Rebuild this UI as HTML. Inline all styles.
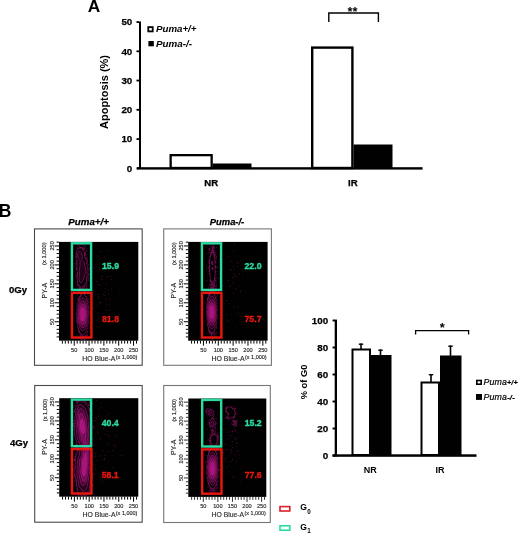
<!DOCTYPE html>
<html lang="en"><head><meta charset="utf-8"><title>Figure</title>
<style>html,body{margin:0;padding:0;background:#fff}svg{display:block;will-change:transform;opacity:0.999}</style></head>
<body>
<svg width="520" height="534" viewBox="0 0 520 534" font-family='"Liberation Sans", sans-serif'>
<rect x="0" y="0" width="520" height="534" fill="#fff" stroke="none" stroke-width="0" />
<text x="87.7" y="12.3" font-size="17.3" font-weight="bold" font-style="normal" text-anchor="start" fill="#000" >A</text>
<text x="-1.2" y="217.1" font-size="17.5" font-weight="bold" font-style="normal" text-anchor="start" fill="#000" >B</text>
<rect x="139" y="21.5" width="2" height="147.5" fill="#000" stroke="none" stroke-width="0" />
<rect x="137" y="167.2" width="285.6" height="2.4" fill="#000" stroke="none" stroke-width="0" />
<rect x="136.5" y="167.4" width="2.5" height="1.8" fill="#000" stroke="none" stroke-width="0" />
<text x="132.3" y="171.7" font-size="9.8" font-weight="bold" font-style="normal" text-anchor="end" fill="#000" stroke="#000" stroke-width="0.25">0</text>
<rect x="136.5" y="138.15" width="2.5" height="1.8" fill="#000" stroke="none" stroke-width="0" />
<text x="132.3" y="142.45" font-size="9.8" font-weight="bold" font-style="normal" text-anchor="end" fill="#000" stroke="#000" stroke-width="0.25">10</text>
<rect x="136.5" y="108.9" width="2.5" height="1.8" fill="#000" stroke="none" stroke-width="0" />
<text x="132.3" y="113.2" font-size="9.8" font-weight="bold" font-style="normal" text-anchor="end" fill="#000" stroke="#000" stroke-width="0.25">20</text>
<rect x="136.5" y="79.65" width="2.5" height="1.8" fill="#000" stroke="none" stroke-width="0" />
<text x="132.3" y="83.95" font-size="9.8" font-weight="bold" font-style="normal" text-anchor="end" fill="#000" stroke="#000" stroke-width="0.25">30</text>
<rect x="136.5" y="50.40000000000001" width="2.5" height="1.8" fill="#000" stroke="none" stroke-width="0" />
<text x="132.3" y="54.7" font-size="9.8" font-weight="bold" font-style="normal" text-anchor="end" fill="#000" stroke="#000" stroke-width="0.25">40</text>
<rect x="136.5" y="21.150000000000013" width="2.5" height="1.8" fill="#000" stroke="none" stroke-width="0" />
<text x="132.3" y="25.45" font-size="9.8" font-weight="bold" font-style="normal" text-anchor="end" fill="#000" stroke="#000" stroke-width="0.25">50</text>
<rect x="170.65" y="155.15" width="41.0" height="12.85" fill="#fff" stroke="#000" stroke-width="2.3" />
<rect x="212.5" y="163.5" width="39.0" height="4.5" fill="#000" stroke="none" stroke-width="0" />
<rect x="312.2" y="47.6" width="40.2" height="120.4" fill="#fff" stroke="#000" stroke-width="2.4" />
<rect x="353.5" y="144.5" width="39.0" height="23.5" fill="#000" stroke="none" stroke-width="0" />
<text x="211.2" y="186.4" font-size="9.6" font-weight="bold" font-style="normal" text-anchor="middle" fill="#000" stroke="#000" stroke-width="0.25">NR</text>
<text x="352.8" y="186.4" font-size="9.6" font-weight="bold" font-style="normal" text-anchor="middle" fill="#000" stroke="#000" stroke-width="0.25">IR</text>
<text transform="translate(107.6,92) rotate(-90)" font-size="10" font-weight="bold" text-anchor="middle" textLength="74" lengthAdjust="spacingAndGlyphs">Apoptosis (%)</text>
<rect x="148.3" y="27.1" width="4.4" height="4.3" fill="#fff" stroke="#000" stroke-width="1.8" />
<text x="156" y="32" font-size="9.5" font-weight="bold" font-style="italic" text-anchor="start" fill="#000" textLength="40.5" lengthAdjust="spacingAndGlyphs" >Puma+/+</text>
<rect x="148.4" y="41" width="5.4" height="5.3" fill="#000" stroke="none" stroke-width="0" />
<text x="156" y="46.6" font-size="9.5" font-weight="bold" font-style="italic" text-anchor="start" fill="#000" textLength="36" lengthAdjust="spacingAndGlyphs" >Puma-/-</text>
<path d="M328.8 22 V13 H378.4 V22" fill="none" stroke="#000" stroke-width="1.4"/>
<text x="352.5" y="15.5" font-size="12.8" font-weight="bold" font-style="normal" text-anchor="middle" fill="#000" >**</text>
<rect x="334.7" y="319.6" width="2.3" height="136.9" fill="#000" stroke="none" stroke-width="0" />
<rect x="332.5" y="454.3" width="144.0" height="2.5" fill="#000" stroke="none" stroke-width="0" />
<rect x="332.6" y="454.55" width="2.4" height="1.9" fill="#000" stroke="none" stroke-width="0" />
<text x="328.1" y="458.8" font-size="9.8" font-weight="bold" font-style="normal" text-anchor="end" fill="#000" stroke="#000" stroke-width="0.25">0</text>
<rect x="332.6" y="427.55" width="2.4" height="1.9" fill="#000" stroke="none" stroke-width="0" />
<text x="328.1" y="431.8" font-size="9.8" font-weight="bold" font-style="normal" text-anchor="end" fill="#000" stroke="#000" stroke-width="0.25">20</text>
<rect x="332.6" y="400.55" width="2.4" height="1.9" fill="#000" stroke="none" stroke-width="0" />
<text x="328.1" y="404.8" font-size="9.8" font-weight="bold" font-style="normal" text-anchor="end" fill="#000" stroke="#000" stroke-width="0.25">40</text>
<rect x="332.6" y="373.55" width="2.4" height="1.9" fill="#000" stroke="none" stroke-width="0" />
<text x="328.1" y="377.8" font-size="9.8" font-weight="bold" font-style="normal" text-anchor="end" fill="#000" stroke="#000" stroke-width="0.25">60</text>
<rect x="332.6" y="346.55" width="2.4" height="1.9" fill="#000" stroke="none" stroke-width="0" />
<text x="328.1" y="350.8" font-size="9.8" font-weight="bold" font-style="normal" text-anchor="end" fill="#000" stroke="#000" stroke-width="0.25">80</text>
<rect x="332.6" y="319.55" width="2.4" height="1.9" fill="#000" stroke="none" stroke-width="0" />
<text x="328.1" y="323.8" font-size="9.8" font-weight="bold" font-style="normal" text-anchor="end" fill="#000" stroke="#000" stroke-width="0.25">100</text>
<rect x="360.2" y="343.5" width="1.6" height="5.5" fill="#000" stroke="none" stroke-width="0" />
<rect x="358.8" y="343.5" width="4.4" height="1.4" fill="#000" stroke="none" stroke-width="0" />
<rect x="352.5" y="349.5" width="17.5" height="105.5" fill="#fff" stroke="#000" stroke-width="2" />
<rect x="379.7" y="349.5" width="1.6" height="6.5" fill="#000" stroke="none" stroke-width="0" />
<rect x="378.3" y="349.5" width="4.4" height="1.4" fill="#000" stroke="none" stroke-width="0" />
<rect x="371" y="355" width="20.5" height="100" fill="#000" stroke="none" stroke-width="0" />
<rect x="430.2" y="374" width="1.6" height="8" fill="#000" stroke="none" stroke-width="0" />
<rect x="428.8" y="374" width="4.4" height="1.4" fill="#000" stroke="none" stroke-width="0" />
<rect x="421.5" y="382.5" width="17.5" height="72.5" fill="#fff" stroke="#000" stroke-width="2" />
<rect x="449.7" y="345.5" width="1.6" height="10.5" fill="#000" stroke="none" stroke-width="0" />
<rect x="448.3" y="345.5" width="4.4" height="1.4" fill="#000" stroke="none" stroke-width="0" />
<rect x="440" y="355.5" width="21.5" height="99.5" fill="#000" stroke="none" stroke-width="0" />
<text x="370.3" y="473" font-size="9" font-weight="bold" font-style="normal" text-anchor="middle" fill="#000" >NR</text>
<text x="440" y="473" font-size="9" font-weight="bold" font-style="normal" text-anchor="middle" fill="#000" >IR</text>
<text transform="translate(307.3,382) rotate(-90)" font-size="9.3" font-weight="bold" text-anchor="middle">% of G0</text>
<path d="M415.6 334.5 V330.7 H468.6 V334.5" fill="none" stroke="#000" stroke-width="1.3"/>
<text x="442.3" y="332.2" font-size="12.8" font-weight="bold" font-style="normal" text-anchor="middle" fill="#000" >*</text>
<rect x="476.8" y="380.5" width="4.4" height="3.7" fill="#fff" stroke="#000" stroke-width="1.6" />
<text x="483.4" y="384.8" font-size="8.8" font-style="italic" font-weight="normal" stroke="#000" stroke-width="0.2" textLength="34.2">Puma<tspan font-weight="bold" font-size="7.2">+/+</tspan></text>
<rect x="476" y="394" width="6" height="5.9" fill="#000" stroke="none" stroke-width="0" />
<text x="483.4" y="399.6" font-size="8.8" font-style="italic" font-weight="normal" stroke="#000" stroke-width="0.2" textLength="31.3">Puma<tspan font-weight="bold" font-size="7.6">-/-</tspan></text>
<text x="88.6" y="224.7" font-size="9.8" font-weight="bold" font-style="italic" text-anchor="middle" fill="#000" textLength="40.5" lengthAdjust="spacingAndGlyphs" stroke="#000" stroke-width="0.25">Puma+/+</text>
<text x="227" y="224.7" font-size="9.8" font-weight="bold" font-style="italic" text-anchor="middle" fill="#000" textLength="34.5" lengthAdjust="spacingAndGlyphs" stroke="#000" stroke-width="0.25">Puma-/-</text>
<text x="9" y="293.0" font-size="9.6" font-weight="bold" font-style="normal" text-anchor="start" fill="#000" stroke="#000" stroke-width="0.25">0Gy</text>
<text x="10" y="446.1" font-size="9.6" font-weight="bold" font-style="normal" text-anchor="start" fill="#000" stroke="#000" stroke-width="0.25">4Gy</text>
<rect x="34.5" y="228.9" width="107.7" height="136.4" fill="#fff" stroke="#4a4a4a" stroke-width="1.1" />
<rect x="59" y="241.9" width="79.3" height="98.8" fill="#000" stroke="none" stroke-width="0" />
<g transform="translate(59,241.9) scale(0.9950,1)">
<g fill="#d21e96" opacity="0.5"><rect x="29.5" y="59.0" width="0.8" height="0.8"/><rect x="25.0" y="51.6" width="0.8" height="0.8"/><rect x="31.3" y="74.7" width="0.8" height="0.8"/><rect x="21.3" y="96.1" width="0.8" height="0.8"/><rect x="18.0" y="80.5" width="0.8" height="0.8"/><rect x="24.7" y="94.2" width="0.8" height="0.8"/><rect x="23.5" y="93.9" width="0.8" height="0.8"/><rect x="21.5" y="91.4" width="0.8" height="0.8"/><rect x="22.8" y="97.2" width="0.8" height="0.8"/><rect x="28.1" y="57.5" width="0.8" height="0.8"/><rect x="22.9" y="50.3" width="0.8" height="0.8"/><rect x="24.9" y="45.0" width="0.8" height="0.8"/><rect x="20.0" y="45.5" width="0.8" height="0.8"/><rect x="29.2" y="59.6" width="0.8" height="0.8"/><rect x="27.0" y="54.3" width="0.8" height="0.8"/><rect x="26.0" y="50.4" width="0.8" height="0.8"/><rect x="17.9" y="76.4" width="0.8" height="0.8"/><rect x="23.8" y="95.6" width="0.8" height="0.8"/><rect x="26.0" y="95.7" width="0.8" height="0.8"/><rect x="24.6" y="49.9" width="0.8" height="0.8"/><rect x="20.7" y="54.9" width="0.8" height="0.8"/><rect x="23.9" y="50.7" width="0.8" height="0.8"/><rect x="20.1" y="89.7" width="0.8" height="0.8"/><rect x="26.0" y="94.3" width="0.8" height="0.8"/><rect x="26.7" y="89.5" width="0.8" height="0.8"/><rect x="19.3" y="56.9" width="0.8" height="0.8"/><rect x="26.0" y="96.7" width="0.8" height="0.8"/><rect x="22.9" y="46.0" width="0.8" height="0.8"/><rect x="29.4" y="81.5" width="0.8" height="0.8"/><rect x="21.3" y="52.7" width="0.8" height="0.8"/><rect x="25.4" y="51.7" width="0.8" height="0.8"/><rect x="19.8" y="57.0" width="0.8" height="0.8"/><rect x="21.6" y="50.9" width="0.8" height="0.8"/><rect x="23.2" y="93.6" width="0.8" height="0.8"/><rect x="24.1" y="97.4" width="0.8" height="0.8"/><rect x="28.5" y="61.3" width="0.8" height="0.8"/><rect x="18.4" y="55.6" width="0.8" height="0.8"/><rect x="21.5" y="93.4" width="0.8" height="0.8"/><rect x="30.7" y="84.8" width="0.8" height="0.8"/><rect x="22.4" y="51.2" width="0.8" height="0.8"/><rect x="17.7" y="67.0" width="0.8" height="0.8"/><rect x="16.9" y="79.5" width="0.8" height="0.8"/><rect x="21.4" y="54.5" width="0.8" height="0.8"/><rect x="22.8" y="50.8" width="0.8" height="0.8"/><rect x="27.7" y="56.2" width="0.8" height="0.8"/><rect x="28.0" y="59.2" width="0.8" height="0.8"/><rect x="22.6" y="92.6" width="0.8" height="0.8"/><rect x="18.0" y="80.4" width="0.8" height="0.8"/><rect x="20.4" y="56.4" width="0.8" height="0.8"/><rect x="17.6" y="61.4" width="0.8" height="0.8"/><rect x="23.1" y="50.5" width="0.8" height="0.8"/><rect x="21.8" y="53.3" width="0.8" height="0.8"/><rect x="25.4" y="96.5" width="0.8" height="0.8"/><rect x="19.2" y="87.5" width="0.8" height="0.8"/><rect x="27.0" y="46.6" width="0.8" height="0.8"/><rect x="23.2" y="46.5" width="0.8" height="0.8"/><rect x="25.5" y="52.9" width="0.8" height="0.8"/><rect x="28.4" y="93.2" width="0.8" height="0.8"/><rect x="20.6" y="49.9" width="0.8" height="0.8"/><rect x="23.8" y="95.0" width="0.8" height="0.8"/><rect x="19.5" y="58.2" width="0.8" height="0.8"/><rect x="27.6" y="54.2" width="0.8" height="0.8"/><rect x="22.0" y="94.5" width="0.8" height="0.8"/><rect x="30.0" y="65.5" width="0.8" height="0.8"/><rect x="27.0" y="49.7" width="0.8" height="0.8"/><rect x="21.1" y="52.6" width="0.8" height="0.8"/><rect x="18.9" y="57.8" width="0.8" height="0.8"/><rect x="21.0" y="49.8" width="0.8" height="0.8"/><rect x="20.0" y="56.9" width="0.8" height="0.8"/><rect x="19.4" y="89.5" width="0.8" height="0.8"/><rect x="24.3" y="47.3" width="0.8" height="0.8"/><rect x="29.1" y="62.9" width="0.8" height="0.8"/><rect x="28.4" y="56.4" width="0.8" height="0.8"/><rect x="27.5" y="87.6" width="0.8" height="0.8"/><rect x="23.0" y="95.0" width="0.8" height="0.8"/><rect x="19.4" y="58.5" width="0.8" height="0.8"/><rect x="22.3" y="93.5" width="0.8" height="0.8"/><rect x="21.7" y="92.0" width="0.8" height="0.8"/><rect x="18.8" y="87.9" width="0.8" height="0.8"/><rect x="20.1" y="89.1" width="0.8" height="0.8"/><rect x="22.5" y="93.0" width="0.8" height="0.8"/><rect x="20.5" y="89.5" width="0.8" height="0.8"/><rect x="23.5" y="46.6" width="0.8" height="0.8"/><rect x="24.7" y="94.7" width="0.8" height="0.8"/><rect x="25.3" y="92.4" width="0.8" height="0.8"/><rect x="30.1" y="89.1" width="0.8" height="0.8"/><rect x="25.1" y="95.0" width="0.8" height="0.8"/><rect x="27.9" y="51.4" width="0.8" height="0.8"/><rect x="22.0" y="50.4" width="0.8" height="0.8"/><rect x="25.9" y="51.8" width="0.8" height="0.8"/><rect x="23.9" y="50.8" width="0.8" height="0.8"/><rect x="24.3" y="93.7" width="0.8" height="0.8"/><rect x="25.4" y="49.4" width="0.8" height="0.8"/><rect x="19.0" y="60.5" width="0.8" height="0.8"/><rect x="17.8" y="75.1" width="0.8" height="0.8"/><rect x="20.9" y="54.4" width="0.8" height="0.8"/><rect x="28.5" y="86.4" width="0.8" height="0.8"/><rect x="21.4" y="91.6" width="0.8" height="0.8"/><rect x="22.6" y="96.5" width="0.8" height="0.8"/><rect x="19.9" y="49.4" width="0.8" height="0.8"/><rect x="21.4" y="54.4" width="0.8" height="0.8"/><rect x="29.9" y="69.0" width="0.8" height="0.8"/><rect x="25.5" y="97.4" width="0.8" height="0.8"/><rect x="19.2" y="86.4" width="0.8" height="0.8"/><rect x="28.3" y="91.5" width="0.8" height="0.8"/><rect x="18.5" y="93.4" width="0.8" height="0.8"/><rect x="28.2" y="89.5" width="0.8" height="0.8"/><rect x="24.2" y="49.2" width="0.8" height="0.8"/><rect x="21.3" y="97.2" width="0.8" height="0.8"/><rect x="25.1" y="97.4" width="0.8" height="0.8"/><rect x="17.9" y="77.5" width="0.8" height="0.8"/><rect x="17.5" y="79.8" width="0.8" height="0.8"/><rect x="19.0" y="56.2" width="0.8" height="0.8"/><rect x="29.8" y="73.6" width="0.8" height="0.8"/><rect x="28.4" y="51.6" width="0.8" height="0.8"/><rect x="25.3" y="52.2" width="0.8" height="0.8"/><rect x="24.0" y="94.9" width="0.8" height="0.8"/><rect x="29.4" y="79.2" width="0.8" height="0.8"/><rect x="24.9" y="49.7" width="0.8" height="0.8"/><rect x="24.8" y="49.8" width="0.8" height="0.8"/><rect x="27.9" y="57.9" width="0.8" height="0.8"/><rect x="22.5" y="49.9" width="0.8" height="0.8"/><rect x="25.8" y="93.5" width="0.8" height="0.8"/><rect x="27.2" y="93.0" width="0.8" height="0.8"/><rect x="18.0" y="74.5" width="0.8" height="0.8"/><rect x="28.3" y="90.0" width="0.8" height="0.8"/><rect x="29.4" y="60.2" width="0.8" height="0.8"/><rect x="19.5" y="90.1" width="0.8" height="0.8"/><rect x="27.8" y="90.5" width="0.8" height="0.8"/><rect x="29.7" y="64.0" width="0.8" height="0.8"/><rect x="22.6" y="50.6" width="0.8" height="0.8"/><rect x="23.5" y="96.5" width="0.8" height="0.8"/><rect x="27.2" y="91.9" width="0.8" height="0.8"/><rect x="30.3" y="80.7" width="0.8" height="0.8"/><rect x="19.6" y="87.9" width="0.8" height="0.8"/><rect x="26.3" y="93.2" width="0.8" height="0.8"/><rect x="19.9" y="90.0" width="0.8" height="0.8"/><rect x="19.8" y="46.1" width="0.8" height="0.8"/><rect x="29.1" y="66.0" width="0.8" height="0.8"/><rect x="28.2" y="93.2" width="0.8" height="0.8"/><rect x="29.7" y="85.6" width="0.8" height="0.8"/><rect x="21.4" y="93.4" width="0.8" height="0.8"/><rect x="27.5" y="89.0" width="0.8" height="0.8"/><rect x="23.3" y="50.5" width="0.8" height="0.8"/><rect x="28.2" y="50.0" width="0.8" height="0.8"/><rect x="17.2" y="70.7" width="0.8" height="0.8"/><rect x="30.2" y="70.4" width="0.8" height="0.8"/><rect x="24.3" y="50.0" width="0.8" height="0.8"/><rect x="30.4" y="72.3" width="0.8" height="0.8"/><rect x="17.3" y="78.1" width="0.8" height="0.8"/><rect x="23.6" y="95.1" width="0.8" height="0.8"/><rect x="20.4" y="96.2" width="0.8" height="0.8"/><rect x="29.0" y="53.6" width="0.8" height="0.8"/><rect x="26.6" y="50.4" width="0.8" height="0.8"/><rect x="20.1" y="54.6" width="0.8" height="0.8"/><rect x="26.5" y="93.2" width="0.8" height="0.8"/><rect x="29.0" y="83.1" width="0.8" height="0.8"/><rect x="17.9" y="56.9" width="0.8" height="0.8"/><rect x="19.1" y="56.2" width="0.8" height="0.8"/><rect x="17.3" y="64.0" width="0.8" height="0.8"/><rect x="20.4" y="47.8" width="0.8" height="0.8"/><rect x="21.0" y="54.3" width="0.8" height="0.8"/><rect x="27.1" y="54.0" width="0.8" height="0.8"/><rect x="27.2" y="55.7" width="0.8" height="0.8"/><rect x="17.7" y="76.5" width="0.8" height="0.8"/><rect x="17.5" y="71.8" width="0.8" height="0.8"/><rect x="29.2" y="50.7" width="0.8" height="0.8"/><rect x="20.2" y="56.1" width="0.8" height="0.8"/><rect x="22.6" y="46.9" width="0.8" height="0.8"/><rect x="18.6" y="85.1" width="0.8" height="0.8"/><rect x="20.0" y="92.5" width="0.8" height="0.8"/><rect x="31.1" y="62.2" width="0.8" height="0.8"/><rect x="21.0" y="46.4" width="0.8" height="0.8"/><rect x="32.0" y="72.4" width="0.8" height="0.8"/><rect x="32.4" y="62.2" width="0.8" height="0.8"/><rect x="30.0" y="69.7" width="0.8" height="0.8"/><rect x="29.2" y="56.6" width="0.8" height="0.8"/><rect x="22.2" y="50.3" width="0.8" height="0.8"/><rect x="26.3" y="15.2" width="0.8" height="0.8"/><rect x="24.9" y="5.7" width="0.8" height="0.8"/><rect x="26.7" y="16.4" width="0.8" height="0.8"/><rect x="25.4" y="49.5" width="0.8" height="0.8"/><rect x="16.7" y="32.2" width="0.8" height="0.8"/><rect x="16.2" y="21.7" width="0.8" height="0.8"/><rect x="23.3" y="3.3" width="0.8" height="0.8"/><rect x="17.3" y="24.9" width="0.8" height="0.8"/><rect x="23.9" y="6.7" width="0.8" height="0.8"/><rect x="28.2" y="21.8" width="0.8" height="0.8"/><rect x="21.9" y="2.2" width="0.8" height="0.8"/><rect x="25.0" y="5.5" width="0.8" height="0.8"/><rect x="20.4" y="47.7" width="0.8" height="0.8"/><rect x="27.5" y="44.6" width="0.8" height="0.8"/><rect x="23.4" y="5.4" width="0.8" height="0.8"/><rect x="28.0" y="18.0" width="0.8" height="0.8"/><rect x="26.6" y="14.8" width="0.8" height="0.8"/><rect x="19.8" y="48.9" width="0.8" height="0.8"/><rect x="26.8" y="44.6" width="0.8" height="0.8"/><rect x="24.2" y="5.9" width="0.8" height="0.8"/><rect x="17.5" y="21.5" width="0.8" height="0.8"/><rect x="24.6" y="4.7" width="0.8" height="0.8"/><rect x="24.7" y="7.0" width="0.8" height="0.8"/><rect x="26.1" y="49.0" width="0.8" height="0.8"/><rect x="27.8" y="46.8" width="0.8" height="0.8"/><rect x="24.3" y="50.0" width="0.8" height="0.8"/><rect x="24.0" y="50.0" width="0.8" height="0.8"/><rect x="25.8" y="11.0" width="0.8" height="0.8"/><rect x="23.0" y="6.0" width="0.8" height="0.8"/><rect x="27.0" y="43.0" width="0.8" height="0.8"/><rect x="14.7" y="24.2" width="0.8" height="0.8"/><rect x="21.2" y="5.7" width="0.8" height="0.8"/><rect x="29.7" y="24.9" width="0.8" height="0.8"/><rect x="25.8" y="3.1" width="0.8" height="0.8"/><rect x="24.9" y="7.7" width="0.8" height="0.8"/><rect x="24.0" y="5.8" width="0.8" height="0.8"/><rect x="25.5" y="13.0" width="0.8" height="0.8"/><rect x="17.4" y="26.3" width="0.8" height="0.8"/><rect x="17.9" y="21.6" width="0.8" height="0.8"/><rect x="18.6" y="6.5" width="0.8" height="0.8"/><rect x="17.0" y="33.7" width="0.8" height="0.8"/><rect x="21.5" y="5.0" width="0.8" height="0.8"/><rect x="29.3" y="31.9" width="0.8" height="0.8"/><rect x="28.7" y="6.4" width="0.8" height="0.8"/><rect x="20.2" y="48.3" width="0.8" height="0.8"/><rect x="24.1" y="8.4" width="0.8" height="0.8"/><rect x="20.0" y="3.4" width="0.8" height="0.8"/><rect x="17.4" y="32.6" width="0.8" height="0.8"/><rect x="18.0" y="35.8" width="0.8" height="0.8"/><rect x="28.0" y="18.1" width="0.8" height="0.8"/><rect x="27.5" y="7.8" width="0.8" height="0.8"/><rect x="27.8" y="15.4" width="0.8" height="0.8"/><rect x="27.7" y="9.2" width="0.8" height="0.8"/><rect x="25.7" y="13.3" width="0.8" height="0.8"/><rect x="29.9" y="36.1" width="0.8" height="0.8"/><rect x="23.3" y="51.4" width="0.8" height="0.8"/><rect x="28.1" y="15.9" width="0.8" height="0.8"/><rect x="15.5" y="21.5" width="0.8" height="0.8"/><rect x="26.0" y="12.1" width="0.8" height="0.8"/><rect x="27.2" y="42.9" width="0.8" height="0.8"/><rect x="24.6" y="6.5" width="0.8" height="0.8"/><rect x="16.5" y="21.4" width="0.8" height="0.8"/><rect x="19.8" y="44.5" width="0.8" height="0.8"/><rect x="26.3" y="9.9" width="0.8" height="0.8"/><rect x="17.3" y="25.6" width="0.8" height="0.8"/><rect x="31.7" y="25.8" width="0.8" height="0.8"/><rect x="25.7" y="43.1" width="0.8" height="0.8"/><rect x="26.5" y="9.9" width="0.8" height="0.8"/><rect x="25.8" y="4.8" width="0.8" height="0.8"/><rect x="17.2" y="18.4" width="0.8" height="0.8"/><rect x="26.4" y="1.7" width="0.8" height="0.8"/><rect x="20.7" y="5.5" width="0.8" height="0.8"/><rect x="17.7" y="27.6" width="0.8" height="0.8"/><rect x="27.8" y="38.4" width="0.8" height="0.8"/><rect x="16.9" y="42.5" width="0.8" height="0.8"/><rect x="26.1" y="13.0" width="0.8" height="0.8"/><rect x="18.0" y="36.2" width="0.8" height="0.8"/><rect x="25.9" y="10.3" width="0.8" height="0.8"/><rect x="27.7" y="12.3" width="0.8" height="0.8"/><rect x="30.3" y="26.1" width="0.8" height="0.8"/><rect x="28.3" y="19.4" width="0.8" height="0.8"/><rect x="29.0" y="57.5" width="0.8" height="0.8"/><rect x="18.6" y="6.2" width="0.8" height="0.8"/><rect x="25.0" y="49.9" width="0.8" height="0.8"/><rect x="17.9" y="18.6" width="0.8" height="0.8"/><rect x="17.9" y="33.9" width="0.8" height="0.8"/><rect x="27.9" y="21.1" width="0.8" height="0.8"/><rect x="26.3" y="10.2" width="0.8" height="0.8"/><rect x="21.4" y="46.0" width="0.8" height="0.8"/><rect x="17.0" y="51.3" width="0.8" height="0.8"/><rect x="16.3" y="14.2" width="0.8" height="0.8"/><rect x="25.6" y="9.5" width="0.8" height="0.8"/><rect x="27.5" y="46.1" width="0.8" height="0.8"/><rect x="22.1" y="5.2" width="0.8" height="0.8"/><rect x="16.6" y="18.3" width="0.8" height="0.8"/><rect x="31.5" y="29.6" width="0.8" height="0.8"/><rect x="27.5" y="12.5" width="0.8" height="0.8"/><rect x="24.8" y="6.5" width="0.8" height="0.8"/><rect x="25.0" y="46.7" width="0.8" height="0.8"/><rect x="26.6" y="42.2" width="0.8" height="0.8"/><rect x="21.7" y="48.3" width="0.8" height="0.8"/><rect x="24.8" y="44.1" width="0.8" height="0.8"/><rect x="16.8" y="26.4" width="0.8" height="0.8"/><rect x="23.7" y="2.8" width="0.8" height="0.8"/><rect x="23.1" y="6.5" width="0.8" height="0.8"/><rect x="18.2" y="32.5" width="0.8" height="0.8"/><rect x="27.0" y="40.7" width="0.8" height="0.8"/><rect x="24.4" y="45.7" width="0.8" height="0.8"/><rect x="25.5" y="44.0" width="0.8" height="0.8"/><rect x="29.7" y="25.8" width="0.8" height="0.8"/><rect x="22.2" y="48.4" width="0.8" height="0.8"/><rect x="24.8" y="7.8" width="0.8" height="0.8"/><rect x="29.2" y="27.4" width="0.8" height="0.8"/><rect x="27.0" y="46.3" width="0.8" height="0.8"/><rect x="27.4" y="8.0" width="0.8" height="0.8"/><rect x="29.2" y="37.9" width="0.8" height="0.8"/><rect x="25.3" y="10.2" width="0.8" height="0.8"/><rect x="25.6" y="12.5" width="0.8" height="0.8"/><rect x="17.2" y="19.7" width="0.8" height="0.8"/><rect x="29.2" y="49.7" width="0.8" height="0.8"/><rect x="18.7" y="1.3" width="0.8" height="0.8"/><rect x="24.3" y="45.8" width="0.8" height="0.8"/><rect x="18.0" y="19.2" width="0.8" height="0.8"/><rect x="17.4" y="22.4" width="0.8" height="0.8"/><rect x="28.9" y="50.8" width="0.8" height="0.8"/><rect x="28.5" y="34.5" width="0.8" height="0.8"/><rect x="23.8" y="6.2" width="0.8" height="0.8"/><rect x="20.5" y="46.0" width="0.8" height="0.8"/><rect x="17.7" y="26.7" width="0.8" height="0.8"/><rect x="26.8" y="42.0" width="0.8" height="0.8"/><rect x="22.7" y="1.5" width="0.8" height="0.8"/><rect x="17.2" y="23.8" width="0.8" height="0.8"/><rect x="18.7" y="42.4" width="0.8" height="0.8"/><rect x="26.3" y="4.3" width="0.8" height="0.8"/><rect x="21.8" y="47.1" width="0.8" height="0.8"/><rect x="27.0" y="8.7" width="0.8" height="0.8"/><rect x="18.4" y="39.2" width="0.8" height="0.8"/><rect x="27.5" y="17.6" width="0.8" height="0.8"/><rect x="27.4" y="40.1" width="0.8" height="0.8"/><rect x="25.4" y="44.8" width="0.8" height="0.8"/><rect x="17.2" y="27.3" width="0.8" height="0.8"/><rect x="17.8" y="31.4" width="0.8" height="0.8"/><rect x="21.6" y="2.2" width="0.8" height="0.8"/><rect x="19.6" y="5.3" width="0.8" height="0.8"/><rect x="17.7" y="8.0" width="0.8" height="0.8"/><rect x="16.8" y="15.1" width="0.8" height="0.8"/><rect x="17.5" y="8.6" width="0.8" height="0.8"/><rect x="17.0" y="11.4" width="0.8" height="0.8"/><rect x="21.2" y="5.7" width="0.8" height="0.8"/><rect x="17.7" y="5.7" width="0.8" height="0.8"/><rect x="16.6" y="10.2" width="0.8" height="0.8"/><rect x="18.6" y="4.0" width="0.8" height="0.8"/><rect x="17.0" y="13.8" width="0.8" height="0.8"/><rect x="21.4" y="4.6" width="0.8" height="0.8"/><rect x="19.3" y="3.3" width="0.8" height="0.8"/><rect x="20.5" y="4.8" width="0.8" height="0.8"/><rect x="19.7" y="6.5" width="0.8" height="0.8"/><rect x="28.7" y="43.7" width="0.8" height="0.8"/><rect x="27.9" y="17.8" width="0.8" height="0.8"/><rect x="28.0" y="34.9" width="0.8" height="0.8"/><rect x="27.7" y="20.5" width="0.8" height="0.8"/><rect x="29.2" y="22.2" width="0.8" height="0.8"/><rect x="29.7" y="32.8" width="0.8" height="0.8"/><rect x="27.4" y="15.8" width="0.8" height="0.8"/><rect x="27.5" y="37.5" width="0.8" height="0.8"/><rect x="27.4" y="43.8" width="0.8" height="0.8"/><rect x="27.9" y="41.5" width="0.8" height="0.8"/><rect x="28.9" y="22.9" width="0.8" height="0.8"/><rect x="28.9" y="31.5" width="0.8" height="0.8"/><rect x="28.9" y="32.4" width="0.8" height="0.8"/><rect x="27.4" y="17.1" width="0.8" height="0.8"/><rect x="27.5" y="35.9" width="0.8" height="0.8"/><rect x="28.9" y="31.5" width="0.8" height="0.8"/><rect x="24.1" y="45.8" width="0.8" height="0.8"/><rect x="28.8" y="34.0" width="0.8" height="0.8"/><rect x="29.1" y="28.7" width="0.8" height="0.8"/><rect x="28.1" y="36.7" width="0.8" height="0.8"/><rect x="29.3" y="32.1" width="0.8" height="0.8"/><rect x="29.2" y="35.1" width="0.8" height="0.8"/><rect x="25.5" y="44.0" width="0.8" height="0.8"/><rect x="27.8" y="38.5" width="0.8" height="0.8"/><rect x="27.7" y="20.2" width="0.8" height="0.8"/><rect x="26.1" y="11.6" width="0.8" height="0.8"/><rect x="27.2" y="40.6" width="0.8" height="0.8"/><rect x="29.2" y="37.5" width="0.8" height="0.8"/><rect x="25.2" y="43.7" width="0.8" height="0.8"/><rect x="27.6" y="39.7" width="0.8" height="0.8"/><rect x="27.1" y="40.5" width="0.8" height="0.8"/><rect x="27.7" y="35.4" width="0.8" height="0.8"/><rect x="26.6" y="16.6" width="0.8" height="0.8"/><rect x="23.0" y="45.1" width="0.8" height="0.8"/><rect x="21.0" y="44.9" width="0.8" height="0.8"/><rect x="21.0" y="45.6" width="0.8" height="0.8"/><rect x="19.8" y="44.2" width="0.8" height="0.8"/><rect x="18.2" y="39.9" width="0.8" height="0.8"/><rect x="19.7" y="49.6" width="0.8" height="0.8"/><rect x="17.7" y="40.2" width="0.8" height="0.8"/><rect x="18.0" y="46.9" width="0.8" height="0.8"/><rect x="22.1" y="47.9" width="0.8" height="0.8"/><rect x="17.8" y="34.7" width="0.8" height="0.8"/><rect x="23.1" y="45.6" width="0.8" height="0.8"/><rect x="22.3" y="46.2" width="0.8" height="0.8"/><rect x="21.8" y="47.1" width="0.8" height="0.8"/><rect x="25.2" y="48.1" width="0.8" height="0.8"/><rect x="20.8" y="46.0" width="0.8" height="0.8"/><rect x="22.1" y="50.2" width="0.8" height="0.8"/><rect x="22.4" y="48.4" width="0.8" height="0.8"/><rect x="22.1" y="46.9" width="0.8" height="0.8"/><rect x="20.1" y="45.4" width="0.8" height="0.8"/><rect x="22.2" y="52.1" width="0.8" height="0.8"/><rect x="19.2" y="43.1" width="0.8" height="0.8"/><rect x="18.1" y="48.0" width="0.8" height="0.8"/><rect x="20.3" y="47.7" width="0.8" height="0.8"/><rect x="23.8" y="44.7" width="0.8" height="0.8"/><rect x="21.1" y="48.2" width="0.8" height="0.8"/><rect x="18.1" y="42.5" width="0.8" height="0.8"/><rect x="19.7" y="43.4" width="0.8" height="0.8"/><rect x="21.2" y="45.5" width="0.8" height="0.8"/><rect x="18.4" y="42.9" width="0.8" height="0.8"/><rect x="18.4" y="30.6" width="0.8" height="0.8"/><rect x="19.8" y="44.5" width="0.8" height="0.8"/><rect x="18.5" y="30.2" width="0.8" height="0.8"/><rect x="18.1" y="52.4" width="0.8" height="0.8"/><rect x="18.7" y="42.5" width="0.8" height="0.8"/><rect x="36.5" y="52.6" width="0.8" height="0.8"/><rect x="47.3" y="68.2" width="0.8" height="0.8"/><rect x="50.0" y="68.4" width="0.8" height="0.8"/><rect x="46.4" y="50.5" width="0.8" height="0.8"/><rect x="46.0" y="46.3" width="0.8" height="0.8"/><rect x="43.9" y="52.2" width="0.8" height="0.8"/><rect x="39.2" y="42.0" width="0.8" height="0.8"/><rect x="43.4" y="37.6" width="0.8" height="0.8"/><rect x="41.3" y="60.3" width="0.8" height="0.8"/><rect x="37.2" y="39.3" width="0.8" height="0.8"/><rect x="45.2" y="14.9" width="0.8" height="0.8"/><rect x="26.7" y="12.1" width="0.8" height="0.8"/><rect x="40.7" y="59.7" width="0.8" height="0.8"/><rect x="46.9" y="56.4" width="0.8" height="0.8"/><rect x="40.3" y="25.8" width="0.8" height="0.8"/><rect x="39.7" y="54.1" width="0.8" height="0.8"/><rect x="29.8" y="86.5" width="0.8" height="0.8"/><rect x="48.2" y="8.7" width="0.8" height="0.8"/><rect x="63.1" y="56.7" width="0.8" height="0.8"/><rect x="45.1" y="53.0" width="0.8" height="0.8"/><rect x="51.2" y="33.9" width="0.8" height="0.8"/><rect x="34.4" y="48.4" width="0.8" height="0.8"/><rect x="31.7" y="71.9" width="0.8" height="0.8"/><rect x="45.0" y="77.5" width="0.8" height="0.8"/><rect x="48.8" y="48.1" width="0.8" height="0.8"/><rect x="38.4" y="13.8" width="0.8" height="0.8"/><rect x="40.7" y="60.7" width="0.8" height="0.8"/><rect x="32.5" y="71.0" width="0.8" height="0.8"/><rect x="38.4" y="70.8" width="0.8" height="0.8"/><rect x="53.2" y="24.7" width="0.8" height="0.8"/><rect x="34.6" y="65.8" width="0.8" height="0.8"/><rect x="43.6" y="72.9" width="0.8" height="0.8"/><rect x="50.6" y="62.9" width="0.8" height="0.8"/><rect x="47.1" y="62.4" width="0.8" height="0.8"/><rect x="41.8" y="9.5" width="0.8" height="0.8"/><rect x="41.8" y="37.2" width="0.8" height="0.8"/><rect x="50.3" y="19.8" width="0.8" height="0.8"/><rect x="52.8" y="25.8" width="0.8" height="0.8"/><rect x="39.3" y="55.7" width="0.8" height="0.8"/><rect x="48.1" y="34.5" width="0.8" height="0.8"/><rect x="47.2" y="25.1" width="0.8" height="0.8"/><rect x="60.7" y="50.8" width="0.8" height="0.8"/><rect x="47.2" y="41.5" width="0.8" height="0.8"/><rect x="43.0" y="33.6" width="0.8" height="0.8"/><rect x="38.6" y="62.9" width="0.8" height="0.8"/><rect x="52.4" y="47.0" width="0.8" height="0.8"/><rect x="39.1" y="73.5" width="0.8" height="0.8"/><rect x="32.0" y="73.4" width="0.8" height="0.8"/><rect x="35.5" y="25.6" width="0.8" height="0.8"/><rect x="50.8" y="57.2" width="0.8" height="0.8"/><rect x="33.1" y="50.3" width="0.8" height="0.8"/><rect x="52.6" y="37.2" width="0.8" height="0.8"/><rect x="42.9" y="34.9" width="0.8" height="0.8"/><rect x="38.9" y="52.5" width="0.8" height="0.8"/><rect x="36.0" y="22.8" width="0.8" height="0.8"/><rect x="49.4" y="51.6" width="0.8" height="0.8"/><rect x="41.3" y="42.6" width="0.8" height="0.8"/><rect x="59.4" y="71.9" width="0.8" height="0.8"/><rect x="39.7" y="76.0" width="0.8" height="0.8"/></g>
<g fill="none" stroke="#d21e96" stroke-width="0.55" stroke-linejoin="round">
<path d="M20.1,6.2 20.8,5.9 21.8,5.8 22.8,6.0 23.3,6.3 23.7,7.2 23.8,8.1 24.0,8.8 24.3,9.5 24.8,10.2 25.1,10.8 25.3,11.2 25.6,12.2 25.7,13.2 25.7,14.2 25.8,15.2 25.9,15.8 26.3,16.8 26.6,17.2 26.8,17.8 27.3,18.8 27.4,19.2 27.5,20.2 27.7,21.2 27.8,21.8 28.1,22.8 28.3,23.5 28.5,24.2 28.6,25.2 28.7,26.2 28.7,27.2 28.8,28.2 28.9,28.8 28.9,29.8 28.8,30.8 28.8,31.2 28.5,32.2 28.3,32.8 28.0,33.8 27.8,34.4 27.6,35.2 27.5,36.2 27.5,37.2 27.6,38.2 27.6,39.2 27.3,40.1 26.9,40.8 26.4,41.2 26.0,41.8 25.7,42.2 25.3,43.1 24.9,43.8 24.3,44.2 23.8,44.5 22.8,44.7 22.3,44.8 21.8,44.8 20.8,44.3 20.3,43.8 19.8,43.2 19.5,42.8 19.2,42.2 18.8,41.3 18.7,40.8 18.5,39.8 18.4,38.8 18.3,37.8 18.3,37.2 18.2,36.2 18.2,35.2 18.2,34.2 18.3,33.5 18.4,32.8 18.5,31.8 18.5,30.8 18.5,29.8 18.4,28.8 18.3,28.2 18.1,27.2 18.1,26.2 18.2,25.2 18.3,24.2 18.2,23.2 18.0,22.2 18.0,21.2 18.0,20.2 18.0,19.2 17.9,18.2 17.8,17.4 17.7,16.8 17.5,15.8 17.4,14.8 17.3,14.1 17.2,13.2 17.2,12.2 17.3,11.7 17.5,10.8 17.8,9.8 17.9,9.2 18.3,8.3 18.6,7.8 18.9,7.2 19.4,6.8 20.1,6.2ZM23.3,51.2 24.3,51.1 24.8,51.6 25.2,52.2 25.6,52.8 25.9,53.2 26.3,53.9 26.7,54.8 27.0,55.2 27.3,56.2 27.5,56.8 27.8,57.8 27.9,58.2 28.2,59.2 28.4,59.8 28.7,60.8 28.8,61.5 29.0,62.2 29.1,63.2 29.2,64.2 29.2,65.2 29.3,66.1 29.4,66.8 29.5,67.8 29.5,68.8 29.6,69.8 29.7,70.8 29.7,71.8 29.7,72.8 29.6,73.8 29.6,74.8 29.6,75.8 29.5,76.8 29.4,77.8 29.3,78.8 29.3,79.2 29.2,80.2 29.1,81.2 28.9,82.2 28.8,82.8 28.6,83.8 28.5,84.8 28.3,85.4 28.1,86.2 27.8,87.1 27.6,87.8 27.3,88.5 27.0,89.2 26.8,89.8 26.3,90.7 26.0,91.2 25.6,91.8 25.2,92.2 24.4,92.8 23.8,92.9 23.0,92.8 22.3,92.3 21.9,91.8 21.5,91.2 21.2,90.8 20.8,90.0 20.4,89.2 20.2,88.8 19.9,87.8 19.7,87.2 19.4,86.2 19.3,85.5 19.2,84.8 19.0,83.8 18.8,82.9 18.6,82.2 18.4,81.2 18.3,80.2 18.3,79.4 18.2,78.8 18.1,77.8 18.0,76.8 17.9,75.8 17.9,74.8 17.9,73.8 17.9,72.8 17.9,71.8 17.9,70.8 17.9,69.8 17.9,68.8 18.0,67.8 18.1,66.8 18.3,65.8 18.3,65.2 18.4,64.2 18.5,63.2 18.7,62.2 18.8,61.7 19.0,60.8 19.1,59.8 19.3,59.1 19.5,58.2 19.8,57.5 20.1,56.8 20.4,56.2 20.8,55.4 21.1,54.8 21.4,54.2 21.8,53.7 22.3,52.9 22.7,52.2 23.0,51.8 23.3,51.2Z" fill="none" opacity="0.7"/>
<path d="M20.4,9.2 20.9,9.2 21.6,9.8 21.9,10.2 22.3,10.9 22.7,11.8 22.9,12.2 23.3,13.2 23.4,13.8 23.4,14.8 23.3,15.2 23.1,16.2 23.1,17.2 23.3,18.2 23.8,18.7 24.3,19.1 24.8,19.6 25.2,20.2 25.3,20.8 25.5,21.8 25.8,22.8 26.0,23.2 26.3,24.0 26.5,24.8 26.7,25.8 26.8,26.6 26.9,27.2 27.1,28.2 27.2,29.2 27.2,30.2 26.9,31.2 26.7,31.8 26.3,32.6 26.1,33.2 25.8,33.9 25.4,34.8 25.2,35.2 24.9,36.2 24.8,36.8 24.4,37.8 24.2,38.2 23.8,38.8 23.3,39.7 22.9,40.2 22.3,40.8 21.8,40.8 21.3,40.6 20.8,40.1 20.4,39.2 20.3,38.8 20.1,37.8 20.1,36.8 20.1,35.8 20.3,34.8 20.3,34.2 20.5,33.2 20.7,32.2 20.7,31.2 20.4,30.2 20.3,29.2 20.5,28.2 20.7,27.2 20.7,26.2 20.7,25.2 20.8,24.5 21.0,23.8 21.1,22.8 21.0,21.8 21.1,20.8 21.3,19.8 21.1,18.8 20.6,18.2 20.1,17.8 19.7,17.2 19.3,16.3 19.2,15.8 18.9,14.8 18.8,14.2 18.6,13.2 18.7,12.2 18.8,11.7 19.2,10.8 19.5,10.2 19.8,9.7 20.4,9.2ZM22.8,56.2 23.3,55.9 24.3,55.9 24.9,56.2 25.4,56.8 25.8,57.3 26.3,58.2 26.5,58.8 26.8,59.5 27.1,60.2 27.3,60.9 27.6,61.8 27.8,62.7 27.9,63.2 28.0,64.2 28.1,65.2 28.2,66.2 28.3,67.2 28.4,67.8 28.4,68.8 28.5,69.8 28.6,70.8 28.6,71.8 28.6,72.8 28.6,73.8 28.6,74.8 28.5,75.8 28.4,76.8 28.3,77.8 28.3,78.2 28.2,79.2 28.1,80.2 27.9,81.2 27.8,81.8 27.5,82.8 27.3,83.6 27.2,84.2 26.9,85.2 26.7,85.8 26.3,86.6 26.0,87.2 25.6,87.8 25.2,88.2 24.6,88.8 23.8,89.0 23.0,88.8 22.3,88.2 21.9,87.8 21.6,87.2 21.3,86.8 20.9,85.8 20.7,85.2 20.4,84.2 20.3,83.7 20.0,82.8 19.8,82.0 19.6,81.2 19.5,80.2 19.4,79.2 19.3,78.2 19.2,77.8 19.1,76.8 19.0,75.8 19.0,74.8 19.0,73.8 19.0,72.8 19.0,71.8 19.0,70.8 19.0,69.8 19.0,68.8 19.1,67.8 19.2,66.8 19.3,66.2 19.4,65.2 19.6,64.2 19.7,63.2 19.8,62.8 20.0,61.8 20.3,60.8 20.4,60.2 20.8,59.2 21.0,58.8 21.3,58.1 21.8,57.3 22.2,56.8 22.8,56.2Z" fill="rgba(200,22,150,0.18)" opacity="0.95"/>
<path d="M22.9,59.3 23.8,58.9 24.6,59.3 25.1,59.8 25.4,60.2 25.8,61.0 26.2,61.8 26.4,62.2 26.7,63.2 26.8,64.2 26.9,64.8 27.1,65.8 27.2,66.8 27.3,67.4 27.4,68.2 27.5,69.2 27.6,70.2 27.6,71.2 27.6,72.2 27.6,73.2 27.6,74.2 27.6,75.2 27.5,76.2 27.4,77.2 27.3,77.8 27.2,78.8 27.0,79.8 26.8,80.7 26.7,81.2 26.4,82.2 26.2,82.8 25.9,83.8 25.6,84.2 25.3,84.8 24.8,85.5 24.3,85.8 23.3,85.8 22.8,85.4 22.3,84.8 22.0,84.2 21.8,83.8 21.3,82.8 21.1,82.2 20.8,81.3 20.7,80.8 20.5,79.8 20.3,78.8 20.3,78.2 20.1,77.2 20.0,76.2 20.0,75.2 19.9,74.2 19.9,73.2 19.9,72.2 19.9,71.2 20.0,70.2 20.0,69.2 20.1,68.2 20.2,67.2 20.3,66.5 20.4,65.8 20.6,64.8 20.8,63.8 20.9,63.2 21.2,62.2 21.4,61.8 21.8,60.8 22.0,60.2 22.4,59.8 22.9,59.3Z" fill="rgba(200,22,150,0.25)" opacity="0.95"/>
<path d="M23.6,62.2 23.9,62.2 24.7,62.7 25.0,63.2 25.3,63.8 25.6,64.8 25.8,65.4 26.0,66.2 26.3,67.2 26.4,67.8 26.5,68.8 26.6,69.8 26.6,70.8 26.7,71.8 26.7,72.8 26.7,73.8 26.6,74.8 26.6,75.8 26.5,76.8 26.3,77.6 26.2,78.2 25.9,79.2 25.8,79.8 25.4,80.8 25.2,81.2 24.8,81.9 24.3,82.4 23.3,82.4 22.8,81.9 22.3,81.2 22.1,80.8 21.8,80.1 21.5,79.2 21.3,78.2 21.2,77.8 21.1,76.8 21.0,75.8 20.9,74.8 20.9,73.8 20.8,72.8 20.8,71.8 20.9,70.8 21.0,69.8 21.1,68.8 21.2,67.8 21.3,66.9 21.5,66.2 21.7,65.2 21.9,64.8 22.2,63.8 22.5,63.2 22.8,62.8 23.6,62.2Z" fill="rgba(205,24,152,0.35)" opacity="0.95"/>
<path d="M23.1,66.2 23.8,65.9 24.4,66.2 24.8,66.9 25.2,67.8 25.3,68.2 25.5,69.2 25.6,70.2 25.7,71.2 25.7,72.2 25.7,73.2 25.7,74.2 25.6,75.2 25.4,76.2 25.3,76.9 25.0,77.8 24.8,78.3 24.3,78.9 23.3,79.0 22.8,78.4 22.5,77.8 22.3,77.2 22.1,76.2 22.0,75.2 21.9,74.2 21.8,73.2 21.8,72.8 21.8,71.8 21.8,71.2 22.0,70.2 22.1,69.2 22.2,68.2 22.4,67.8 22.8,66.8 23.1,66.2Z" fill="rgba(215,30,160,0.5)" opacity="0.95"/>
</g></g>
<rect x="71.9" y="243.29999999999998" width="19.2" height="46.6" fill="none" stroke="#2bdca2" stroke-width="2.4" />
<rect x="71.9" y="292.8" width="19.5" height="44.7" fill="none" stroke="#e8180f" stroke-width="2.4" />
<text x="102" y="269.3" font-size="8.8" font-weight="bold" font-style="normal" text-anchor="start" fill="#2bdca2" textLength="17" lengthAdjust="spacingAndGlyphs" stroke="#2bdca2" stroke-width="0.35">15.9</text>
<text x="102" y="321.6" font-size="8.8" font-weight="bold" font-style="normal" text-anchor="start" fill="#e8180f" textLength="17" lengthAdjust="spacingAndGlyphs" stroke="#e8180f" stroke-width="0.35">81.8</text>
<g fill="#000"><rect x="61.87" y="340.7" width="1" height="2.9"/><rect x="64.83" y="340.7" width="1" height="2.9"/><rect x="67.80" y="340.7" width="1" height="2.9"/><rect x="70.76" y="340.7" width="1" height="2.9"/><rect x="73.73" y="340.7" width="1" height="5.0"/><rect x="76.69" y="340.7" width="1" height="2.9"/><rect x="79.66" y="340.7" width="1" height="2.9"/><rect x="82.62" y="340.7" width="1" height="2.9"/><rect x="85.59" y="340.7" width="1" height="2.9"/><rect x="88.55" y="340.7" width="1" height="5.0"/><rect x="91.52" y="340.7" width="1" height="2.9"/><rect x="94.48" y="340.7" width="1" height="2.9"/><rect x="97.45" y="340.7" width="1" height="2.9"/><rect x="100.41" y="340.7" width="1" height="2.9"/><rect x="103.38" y="340.7" width="1" height="5.0"/><rect x="106.34" y="340.7" width="1" height="2.9"/><rect x="109.31" y="340.7" width="1" height="2.9"/><rect x="112.27" y="340.7" width="1" height="2.9"/><rect x="115.24" y="340.7" width="1" height="2.9"/><rect x="118.20" y="340.7" width="1" height="5.0"/><rect x="121.17" y="340.7" width="1" height="2.9"/><rect x="124.13" y="340.7" width="1" height="2.9"/><rect x="127.10" y="340.7" width="1" height="2.9"/><rect x="130.06" y="340.7" width="1" height="2.9"/><rect x="133.03" y="340.7" width="1" height="5.0"/><rect x="135.99" y="340.7" width="1" height="2.9"/><rect x="56.60" y="336.41" width="2.4" height="1"/><rect x="56.60" y="332.62" width="2.4" height="1"/><rect x="56.60" y="328.83" width="2.4" height="1"/><rect x="56.60" y="325.04" width="2.4" height="1"/><rect x="54.60" y="321.25" width="4.4" height="1"/><rect x="56.60" y="317.46" width="2.4" height="1"/><rect x="56.60" y="313.67" width="2.4" height="1"/><rect x="56.60" y="309.88" width="2.4" height="1"/><rect x="56.60" y="306.09" width="2.4" height="1"/><rect x="54.60" y="302.30" width="4.4" height="1"/><rect x="56.60" y="298.51" width="2.4" height="1"/><rect x="56.60" y="294.72" width="2.4" height="1"/><rect x="56.60" y="290.93" width="2.4" height="1"/><rect x="56.60" y="287.14" width="2.4" height="1"/><rect x="54.60" y="283.35" width="4.4" height="1"/><rect x="56.60" y="279.56" width="2.4" height="1"/><rect x="56.60" y="275.77" width="2.4" height="1"/><rect x="56.60" y="271.98" width="2.4" height="1"/><rect x="56.60" y="268.19" width="2.4" height="1"/><rect x="54.60" y="264.40" width="4.4" height="1"/><rect x="56.60" y="260.61" width="2.4" height="1"/><rect x="56.60" y="256.82" width="2.4" height="1"/><rect x="56.60" y="253.03" width="2.4" height="1"/><rect x="56.60" y="249.24" width="2.4" height="1"/><rect x="54.60" y="245.45" width="4.4" height="1"/><rect x="56.60" y="241.66" width="2.4" height="1"/></g>
<text x="74.2" y="351.9" font-size="5.6" font-weight="normal" font-style="normal" text-anchor="middle" fill="#2a2a2a" stroke="#2a2a2a" stroke-width="0.15">50</text>
<text transform="translate(53.7,321.8) rotate(-90)" font-size="5.6" text-anchor="middle" fill="#2a2a2a" stroke="#2a2a2a" stroke-width="0.15">50</text>
<text x="89.1" y="351.9" font-size="5.6" font-weight="normal" font-style="normal" text-anchor="middle" fill="#2a2a2a" stroke="#2a2a2a" stroke-width="0.15">100</text>
<text transform="translate(53.7,302.8) rotate(-90)" font-size="5.6" text-anchor="middle" fill="#2a2a2a" stroke="#2a2a2a" stroke-width="0.15">100</text>
<text x="103.9" y="351.9" font-size="5.6" font-weight="normal" font-style="normal" text-anchor="middle" fill="#2a2a2a" stroke="#2a2a2a" stroke-width="0.15">150</text>
<text transform="translate(53.7,283.8) rotate(-90)" font-size="5.6" text-anchor="middle" fill="#2a2a2a" stroke="#2a2a2a" stroke-width="0.15">150</text>
<text x="118.7" y="351.9" font-size="5.6" font-weight="normal" font-style="normal" text-anchor="middle" fill="#2a2a2a" stroke="#2a2a2a" stroke-width="0.15">200</text>
<text transform="translate(53.7,264.9) rotate(-90)" font-size="5.6" text-anchor="middle" fill="#2a2a2a" stroke="#2a2a2a" stroke-width="0.15">200</text>
<text x="133.5" y="351.9" font-size="5.6" font-weight="normal" font-style="normal" text-anchor="middle" fill="#2a2a2a" stroke="#2a2a2a" stroke-width="0.15">250</text>
<text transform="translate(53.7,245.9) rotate(-90)" font-size="5.6" text-anchor="middle" fill="#2a2a2a" stroke="#2a2a2a" stroke-width="0.15">250</text>
<text x="82.3" y="360.9" font-size="7.2" fill="#2a2a2a" textLength="33.0" lengthAdjust="spacingAndGlyphs" stroke="#2a2a2a" stroke-width="0.15">HO Blue-A</text>
<text x="115.7" y="358.7" font-size="5" fill="#2a2a2a" textLength="21.7" lengthAdjust="spacingAndGlyphs" stroke="#2a2a2a" stroke-width="0.15">(x 1,000)</text>
<text transform="translate(46.7,290.7) rotate(-90)" font-size="7.2" text-anchor="middle" fill="#2a2a2a" textLength="15.5" lengthAdjust="spacingAndGlyphs" stroke="#2a2a2a" stroke-width="0.15">PY-A</text>
<text transform="translate(46.4,253.7) rotate(-90)" font-size="5" text-anchor="middle" fill="#2a2a2a" textLength="22.5" lengthAdjust="spacingAndGlyphs" stroke="#2a2a2a" stroke-width="0.15">(x 1,000)</text>
<rect x="163.7" y="228.9" width="107.7" height="136.4" fill="#fff" stroke="#777" stroke-width="1.1" />
<rect x="188.2" y="241.9" width="79.4" height="98.8" fill="#000" stroke="none" stroke-width="0" />
<g transform="translate(188.2,241.9) scale(0.9962,1)">
<g fill="#d21e96" opacity="0.5"><rect x="22.9" y="90.6" width="0.8" height="0.8"/><rect x="22.0" y="44.9" width="0.8" height="0.8"/><rect x="26.1" y="88.0" width="0.8" height="0.8"/><rect x="20.6" y="51.8" width="0.8" height="0.8"/><rect x="23.9" y="95.6" width="0.8" height="0.8"/><rect x="18.5" y="81.8" width="0.8" height="0.8"/><rect x="23.3" y="93.0" width="0.8" height="0.8"/><rect x="21.5" y="90.2" width="0.8" height="0.8"/><rect x="24.5" y="43.6" width="0.8" height="0.8"/><rect x="24.2" y="98.0" width="0.8" height="0.8"/><rect x="25.0" y="48.3" width="0.8" height="0.8"/><rect x="18.3" y="65.2" width="0.8" height="0.8"/><rect x="21.6" y="90.6" width="0.8" height="0.8"/><rect x="21.5" y="43.1" width="0.8" height="0.8"/><rect x="22.5" y="91.6" width="0.8" height="0.8"/><rect x="22.2" y="93.7" width="0.8" height="0.8"/><rect x="24.5" y="47.8" width="0.8" height="0.8"/><rect x="27.2" y="55.9" width="0.8" height="0.8"/><rect x="25.6" y="50.2" width="0.8" height="0.8"/><rect x="24.6" y="90.3" width="0.8" height="0.8"/><rect x="23.2" y="47.4" width="0.8" height="0.8"/><rect x="24.3" y="91.9" width="0.8" height="0.8"/><rect x="22.8" y="92.9" width="0.8" height="0.8"/><rect x="21.4" y="89.8" width="0.8" height="0.8"/><rect x="27.4" y="51.4" width="0.8" height="0.8"/><rect x="22.3" y="91.6" width="0.8" height="0.8"/><rect x="20.4" y="88.4" width="0.8" height="0.8"/><rect x="20.0" y="88.2" width="0.8" height="0.8"/><rect x="18.6" y="91.2" width="0.8" height="0.8"/><rect x="20.0" y="44.7" width="0.8" height="0.8"/><rect x="26.4" y="88.4" width="0.8" height="0.8"/><rect x="24.7" y="90.8" width="0.8" height="0.8"/><rect x="25.3" y="49.7" width="0.8" height="0.8"/><rect x="18.9" y="58.7" width="0.8" height="0.8"/><rect x="27.3" y="92.0" width="0.8" height="0.8"/><rect x="21.2" y="52.5" width="0.8" height="0.8"/><rect x="25.9" y="93.1" width="0.8" height="0.8"/><rect x="19.3" y="56.2" width="0.8" height="0.8"/><rect x="24.9" y="49.7" width="0.8" height="0.8"/><rect x="20.1" y="53.6" width="0.8" height="0.8"/><rect x="20.2" y="49.3" width="0.8" height="0.8"/><rect x="28.7" y="67.7" width="0.8" height="0.8"/><rect x="29.3" y="73.0" width="0.8" height="0.8"/><rect x="24.7" y="50.0" width="0.8" height="0.8"/><rect x="25.0" y="49.8" width="0.8" height="0.8"/><rect x="18.2" y="62.9" width="0.8" height="0.8"/><rect x="22.1" y="50.8" width="0.8" height="0.8"/><rect x="20.0" y="87.3" width="0.8" height="0.8"/><rect x="28.1" y="84.9" width="0.8" height="0.8"/><rect x="22.3" y="48.4" width="0.8" height="0.8"/><rect x="26.5" y="47.5" width="0.8" height="0.8"/><rect x="20.9" y="89.4" width="0.8" height="0.8"/><rect x="28.7" y="67.0" width="0.8" height="0.8"/><rect x="23.0" y="93.0" width="0.8" height="0.8"/><rect x="28.0" y="92.7" width="0.8" height="0.8"/><rect x="24.9" y="48.7" width="0.8" height="0.8"/><rect x="23.2" y="94.7" width="0.8" height="0.8"/><rect x="22.4" y="90.2" width="0.8" height="0.8"/><rect x="25.2" y="47.5" width="0.8" height="0.8"/><rect x="27.8" y="90.1" width="0.8" height="0.8"/><rect x="26.3" y="90.7" width="0.8" height="0.8"/><rect x="23.1" y="91.4" width="0.8" height="0.8"/><rect x="27.0" y="91.8" width="0.8" height="0.8"/><rect x="22.1" y="50.3" width="0.8" height="0.8"/><rect x="21.4" y="52.9" width="0.8" height="0.8"/><rect x="24.8" y="49.4" width="0.8" height="0.8"/><rect x="29.4" y="81.7" width="0.8" height="0.8"/><rect x="21.4" y="52.8" width="0.8" height="0.8"/><rect x="18.8" y="50.8" width="0.8" height="0.8"/><rect x="19.8" y="52.2" width="0.8" height="0.8"/><rect x="23.4" y="91.3" width="0.8" height="0.8"/><rect x="18.2" y="69.4" width="0.8" height="0.8"/><rect x="25.8" y="90.2" width="0.8" height="0.8"/><rect x="29.2" y="58.3" width="0.8" height="0.8"/><rect x="25.4" y="91.9" width="0.8" height="0.8"/><rect x="22.0" y="89.9" width="0.8" height="0.8"/><rect x="23.5" y="95.6" width="0.8" height="0.8"/><rect x="17.2" y="60.4" width="0.8" height="0.8"/><rect x="24.4" y="95.2" width="0.8" height="0.8"/><rect x="22.8" y="93.4" width="0.8" height="0.8"/><rect x="21.6" y="44.4" width="0.8" height="0.8"/><rect x="18.8" y="56.9" width="0.8" height="0.8"/><rect x="23.9" y="91.7" width="0.8" height="0.8"/><rect x="23.8" y="97.4" width="0.8" height="0.8"/><rect x="28.6" y="64.8" width="0.8" height="0.8"/><rect x="22.4" y="91.1" width="0.8" height="0.8"/><rect x="20.8" y="88.6" width="0.8" height="0.8"/><rect x="22.1" y="48.5" width="0.8" height="0.8"/><rect x="23.6" y="96.7" width="0.8" height="0.8"/><rect x="26.4" y="91.0" width="0.8" height="0.8"/><rect x="23.1" y="91.7" width="0.8" height="0.8"/><rect x="24.4" y="41.7" width="0.8" height="0.8"/><rect x="21.5" y="48.8" width="0.8" height="0.8"/><rect x="28.8" y="74.2" width="0.8" height="0.8"/><rect x="27.3" y="55.2" width="0.8" height="0.8"/><rect x="20.7" y="54.0" width="0.8" height="0.8"/><rect x="26.3" y="88.1" width="0.8" height="0.8"/><rect x="20.9" y="53.4" width="0.8" height="0.8"/><rect x="25.1" y="48.3" width="0.8" height="0.8"/><rect x="30.2" y="76.2" width="0.8" height="0.8"/><rect x="20.7" y="91.0" width="0.8" height="0.8"/><rect x="27.8" y="85.3" width="0.8" height="0.8"/><rect x="26.1" y="53.0" width="0.8" height="0.8"/><rect x="27.3" y="54.7" width="0.8" height="0.8"/><rect x="26.6" y="86.6" width="0.8" height="0.8"/><rect x="27.8" y="54.3" width="0.8" height="0.8"/><rect x="27.6" y="56.2" width="0.8" height="0.8"/><rect x="27.9" y="83.2" width="0.8" height="0.8"/><rect x="20.1" y="95.2" width="0.8" height="0.8"/><rect x="28.9" y="52.9" width="0.8" height="0.8"/><rect x="22.7" y="48.0" width="0.8" height="0.8"/><rect x="20.0" y="84.9" width="0.8" height="0.8"/><rect x="18.8" y="82.5" width="0.8" height="0.8"/><rect x="19.8" y="56.0" width="0.8" height="0.8"/><rect x="23.1" y="91.3" width="0.8" height="0.8"/><rect x="18.6" y="57.4" width="0.8" height="0.8"/><rect x="24.0" y="96.0" width="0.8" height="0.8"/><rect x="21.2" y="52.2" width="0.8" height="0.8"/><rect x="18.7" y="56.1" width="0.8" height="0.8"/><rect x="21.8" y="51.9" width="0.8" height="0.8"/><rect x="18.1" y="65.2" width="0.8" height="0.8"/><rect x="23.1" y="91.2" width="0.8" height="0.8"/><rect x="21.1" y="89.4" width="0.8" height="0.8"/><rect x="25.4" y="95.9" width="0.8" height="0.8"/><rect x="25.1" y="90.6" width="0.8" height="0.8"/><rect x="27.9" y="50.2" width="0.8" height="0.8"/><rect x="24.6" y="90.2" width="0.8" height="0.8"/><rect x="26.2" y="88.8" width="0.8" height="0.8"/><rect x="24.7" y="48.6" width="0.8" height="0.8"/><rect x="20.3" y="89.0" width="0.8" height="0.8"/><rect x="20.3" y="52.4" width="0.8" height="0.8"/><rect x="22.2" y="47.4" width="0.8" height="0.8"/><rect x="26.0" y="95.0" width="0.8" height="0.8"/><rect x="22.5" y="49.8" width="0.8" height="0.8"/><rect x="20.6" y="53.3" width="0.8" height="0.8"/><rect x="20.0" y="55.0" width="0.8" height="0.8"/><rect x="22.0" y="90.9" width="0.8" height="0.8"/><rect x="23.1" y="92.1" width="0.8" height="0.8"/><rect x="21.2" y="89.3" width="0.8" height="0.8"/><rect x="24.8" y="46.1" width="0.8" height="0.8"/><rect x="27.7" y="56.3" width="0.8" height="0.8"/><rect x="25.6" y="42.0" width="0.8" height="0.8"/><rect x="25.3" y="92.5" width="0.8" height="0.8"/><rect x="25.2" y="49.0" width="0.8" height="0.8"/><rect x="22.6" y="48.0" width="0.8" height="0.8"/><rect x="28.1" y="80.6" width="0.8" height="0.8"/><rect x="28.1" y="86.6" width="0.8" height="0.8"/><rect x="25.9" y="47.6" width="0.8" height="0.8"/><rect x="29.3" y="76.4" width="0.8" height="0.8"/><rect x="21.6" y="51.3" width="0.8" height="0.8"/><rect x="27.9" y="57.8" width="0.8" height="0.8"/><rect x="27.1" y="52.5" width="0.8" height="0.8"/><rect x="28.9" y="61.3" width="0.8" height="0.8"/><rect x="28.4" y="90.1" width="0.8" height="0.8"/><rect x="24.4" y="90.6" width="0.8" height="0.8"/><rect x="27.6" y="85.3" width="0.8" height="0.8"/><rect x="21.8" y="51.0" width="0.8" height="0.8"/><rect x="14.9" y="67.1" width="0.8" height="0.8"/><rect x="18.3" y="60.8" width="0.8" height="0.8"/><rect x="19.9" y="85.6" width="0.8" height="0.8"/><rect x="21.9" y="49.7" width="0.8" height="0.8"/><rect x="20.6" y="89.4" width="0.8" height="0.8"/><rect x="29.7" y="63.5" width="0.8" height="0.8"/><rect x="18.8" y="62.5" width="0.8" height="0.8"/><rect x="24.3" y="96.8" width="0.8" height="0.8"/><rect x="18.5" y="38.2" width="0.8" height="0.8"/><rect x="24.8" y="45.6" width="0.8" height="0.8"/><rect x="19.1" y="56.0" width="0.8" height="0.8"/><rect x="27.3" y="31.2" width="0.8" height="0.8"/><rect x="26.0" y="43.1" width="0.8" height="0.8"/><rect x="23.1" y="40.3" width="0.8" height="0.8"/><rect x="26.7" y="47.5" width="0.8" height="0.8"/><rect x="27.2" y="27.8" width="0.8" height="0.8"/><rect x="26.0" y="13.5" width="0.8" height="0.8"/><rect x="27.7" y="5.2" width="0.8" height="0.8"/><rect x="25.0" y="7.6" width="0.8" height="0.8"/><rect x="27.0" y="23.4" width="0.8" height="0.8"/><rect x="24.7" y="44.8" width="0.8" height="0.8"/><rect x="22.9" y="45.1" width="0.8" height="0.8"/><rect x="22.4" y="4.9" width="0.8" height="0.8"/><rect x="22.5" y="44.5" width="0.8" height="0.8"/><rect x="21.8" y="42.1" width="0.8" height="0.8"/><rect x="27.5" y="20.7" width="0.8" height="0.8"/><rect x="22.5" y="43.0" width="0.8" height="0.8"/><rect x="27.7" y="34.9" width="0.8" height="0.8"/><rect x="27.8" y="52.4" width="0.8" height="0.8"/><rect x="22.6" y="42.3" width="0.8" height="0.8"/><rect x="23.3" y="47.9" width="0.8" height="0.8"/><rect x="23.9" y="5.0" width="0.8" height="0.8"/><rect x="26.4" y="36.6" width="0.8" height="0.8"/><rect x="25.5" y="9.4" width="0.8" height="0.8"/><rect x="25.7" y="38.7" width="0.8" height="0.8"/><rect x="24.9" y="3.0" width="0.8" height="0.8"/><rect x="27.1" y="19.9" width="0.8" height="0.8"/><rect x="24.9" y="5.6" width="0.8" height="0.8"/><rect x="23.4" y="47.0" width="0.8" height="0.8"/><rect x="24.8" y="3.6" width="0.8" height="0.8"/><rect x="25.2" y="4.5" width="0.8" height="0.8"/><rect x="21.3" y="29.3" width="0.8" height="0.8"/><rect x="23.8" y="6.0" width="0.8" height="0.8"/><rect x="24.7" y="10.3" width="0.8" height="0.8"/><rect x="24.3" y="8.1" width="0.8" height="0.8"/><rect x="26.3" y="12.2" width="0.8" height="0.8"/><rect x="22.8" y="0.6" width="0.8" height="0.8"/><rect x="22.5" y="46.2" width="0.8" height="0.8"/><rect x="23.7" y="45.0" width="0.8" height="0.8"/><rect x="26.3" y="40.0" width="0.8" height="0.8"/><rect x="22.7" y="46.7" width="0.8" height="0.8"/><rect x="24.9" y="40.9" width="0.8" height="0.8"/><rect x="23.9" y="43.6" width="0.8" height="0.8"/><rect x="23.0" y="46.5" width="0.8" height="0.8"/><rect x="26.8" y="36.5" width="0.8" height="0.8"/><rect x="23.9" y="44.2" width="0.8" height="0.8"/><rect x="22.1" y="42.5" width="0.8" height="0.8"/><rect x="20.6" y="20.2" width="0.8" height="0.8"/><rect x="24.0" y="7.1" width="0.8" height="0.8"/><rect x="25.7" y="13.4" width="0.8" height="0.8"/><rect x="22.7" y="9.6" width="0.8" height="0.8"/><rect x="22.0" y="12.7" width="0.8" height="0.8"/><rect x="23.1" y="42.6" width="0.8" height="0.8"/><rect x="25.0" y="8.1" width="0.8" height="0.8"/><rect x="25.0" y="1.0" width="0.8" height="0.8"/><rect x="27.0" y="17.9" width="0.8" height="0.8"/><rect x="21.4" y="40.6" width="0.8" height="0.8"/><rect x="27.6" y="37.8" width="0.8" height="0.8"/><rect x="27.7" y="14.0" width="0.8" height="0.8"/><rect x="22.0" y="45.0" width="0.8" height="0.8"/><rect x="25.6" y="10.4" width="0.8" height="0.8"/><rect x="24.7" y="4.8" width="0.8" height="0.8"/><rect x="25.1" y="47.5" width="0.8" height="0.8"/><rect x="24.3" y="41.1" width="0.8" height="0.8"/><rect x="22.1" y="38.3" width="0.8" height="0.8"/><rect x="25.1" y="10.3" width="0.8" height="0.8"/><rect x="22.8" y="39.9" width="0.8" height="0.8"/><rect x="24.8" y="46.6" width="0.8" height="0.8"/><rect x="24.6" y="41.7" width="0.8" height="0.8"/><rect x="26.0" y="40.3" width="0.8" height="0.8"/><rect x="20.7" y="21.4" width="0.8" height="0.8"/><rect x="26.0" y="14.0" width="0.8" height="0.8"/><rect x="28.0" y="10.3" width="0.8" height="0.8"/><rect x="26.6" y="12.8" width="0.8" height="0.8"/><rect x="23.0" y="39.8" width="0.8" height="0.8"/><rect x="21.4" y="28.1" width="0.8" height="0.8"/><rect x="24.3" y="7.9" width="0.8" height="0.8"/><rect x="25.1" y="40.9" width="0.8" height="0.8"/><rect x="24.1" y="7.8" width="0.8" height="0.8"/><rect x="26.6" y="38.3" width="0.8" height="0.8"/><rect x="24.3" y="8.0" width="0.8" height="0.8"/><rect x="24.9" y="8.6" width="0.8" height="0.8"/><rect x="25.5" y="43.4" width="0.8" height="0.8"/><rect x="24.2" y="42.0" width="0.8" height="0.8"/><rect x="27.1" y="19.2" width="0.8" height="0.8"/><rect x="26.5" y="49.9" width="0.8" height="0.8"/><rect x="20.8" y="7.8" width="0.8" height="0.8"/><rect x="25.1" y="48.3" width="0.8" height="0.8"/><rect x="24.3" y="6.1" width="0.8" height="0.8"/><rect x="24.7" y="41.5" width="0.8" height="0.8"/><rect x="22.6" y="10.5" width="0.8" height="0.8"/><rect x="24.8" y="4.4" width="0.8" height="0.8"/><rect x="25.3" y="9.5" width="0.8" height="0.8"/><rect x="22.5" y="38.5" width="0.8" height="0.8"/><rect x="27.5" y="25.6" width="0.8" height="0.8"/><rect x="25.9" y="9.9" width="0.8" height="0.8"/><rect x="23.8" y="46.2" width="0.8" height="0.8"/><rect x="25.8" y="12.3" width="0.8" height="0.8"/><rect x="22.8" y="39.6" width="0.8" height="0.8"/><rect x="23.7" y="45.7" width="0.8" height="0.8"/><rect x="25.1" y="6.3" width="0.8" height="0.8"/><rect x="22.9" y="2.0" width="0.8" height="0.8"/><rect x="25.3" y="8.1" width="0.8" height="0.8"/><rect x="23.5" y="9.9" width="0.8" height="0.8"/><rect x="22.7" y="7.8" width="0.8" height="0.8"/><rect x="21.9" y="12.5" width="0.8" height="0.8"/><rect x="25.0" y="9.8" width="0.8" height="0.8"/><rect x="25.4" y="42.9" width="0.8" height="0.8"/><rect x="24.7" y="40.9" width="0.8" height="0.8"/><rect x="21.4" y="14.4" width="0.8" height="0.8"/><rect x="24.6" y="9.9" width="0.8" height="0.8"/><rect x="25.9" y="42.1" width="0.8" height="0.8"/><rect x="20.4" y="11.4" width="0.8" height="0.8"/><rect x="21.1" y="6.5" width="0.8" height="0.8"/><rect x="23.6" y="7.7" width="0.8" height="0.8"/><rect x="24.6" y="44.1" width="0.8" height="0.8"/><rect x="25.9" y="5.1" width="0.8" height="0.8"/><rect x="23.2" y="46.1" width="0.8" height="0.8"/><rect x="23.4" y="8.3" width="0.8" height="0.8"/><rect x="19.0" y="35.9" width="0.8" height="0.8"/><rect x="22.0" y="39.1" width="0.8" height="0.8"/><rect x="26.6" y="33.0" width="0.8" height="0.8"/><rect x="23.5" y="45.1" width="0.8" height="0.8"/><rect x="21.7" y="13.7" width="0.8" height="0.8"/><rect x="22.1" y="38.3" width="0.8" height="0.8"/><rect x="26.5" y="8.1" width="0.8" height="0.8"/><rect x="26.3" y="13.1" width="0.8" height="0.8"/><rect x="28.1" y="14.1" width="0.8" height="0.8"/><rect x="24.4" y="9.9" width="0.8" height="0.8"/><rect x="25.9" y="10.1" width="0.8" height="0.8"/><rect x="23.1" y="4.6" width="0.8" height="0.8"/><rect x="25.9" y="8.1" width="0.8" height="0.8"/><rect x="23.0" y="41.8" width="0.8" height="0.8"/><rect x="24.5" y="3.3" width="0.8" height="0.8"/><rect x="27.1" y="34.9" width="0.8" height="0.8"/><rect x="24.6" y="2.3" width="0.8" height="0.8"/><rect x="26.2" y="43.7" width="0.8" height="0.8"/><rect x="20.9" y="28.8" width="0.8" height="0.8"/><rect x="23.4" y="40.2" width="0.8" height="0.8"/><rect x="27.7" y="7.4" width="0.8" height="0.8"/><rect x="20.5" y="10.6" width="0.8" height="0.8"/><rect x="20.8" y="17.8" width="0.8" height="0.8"/><rect x="26.4" y="49.8" width="0.8" height="0.8"/><rect x="20.6" y="6.5" width="0.8" height="0.8"/><rect x="22.7" y="42.2" width="0.8" height="0.8"/><rect x="21.3" y="37.6" width="0.8" height="0.8"/><rect x="21.4" y="32.5" width="0.8" height="0.8"/><rect x="27.9" y="24.4" width="0.8" height="0.8"/><rect x="26.4" y="36.4" width="0.8" height="0.8"/><rect x="26.0" y="5.1" width="0.8" height="0.8"/><rect x="21.4" y="17.3" width="0.8" height="0.8"/><rect x="25.6" y="10.1" width="0.8" height="0.8"/><rect x="22.6" y="45.6" width="0.8" height="0.8"/><rect x="24.2" y="45.2" width="0.8" height="0.8"/><rect x="23.8" y="40.8" width="0.8" height="0.8"/><rect x="26.3" y="12.7" width="0.8" height="0.8"/><rect x="24.6" y="6.9" width="0.8" height="0.8"/><rect x="20.7" y="7.2" width="0.8" height="0.8"/><rect x="25.4" y="8.6" width="0.8" height="0.8"/><rect x="20.6" y="27.2" width="0.8" height="0.8"/><rect x="26.6" y="36.2" width="0.8" height="0.8"/><rect x="27.2" y="15.3" width="0.8" height="0.8"/><rect x="23.0" y="10.3" width="0.8" height="0.8"/><rect x="23.3" y="42.9" width="0.8" height="0.8"/><rect x="26.6" y="18.1" width="0.8" height="0.8"/><rect x="27.3" y="24.1" width="0.8" height="0.8"/><rect x="20.6" y="25.9" width="0.8" height="0.8"/><rect x="25.2" y="43.3" width="0.8" height="0.8"/><rect x="20.4" y="46.6" width="0.8" height="0.8"/><rect x="21.2" y="24.4" width="0.8" height="0.8"/><rect x="22.3" y="10.8" width="0.8" height="0.8"/><rect x="21.2" y="23.3" width="0.8" height="0.8"/><rect x="23.4" y="46.1" width="0.8" height="0.8"/><rect x="27.4" y="44.5" width="0.8" height="0.8"/><rect x="21.2" y="23.0" width="0.8" height="0.8"/><rect x="25.7" y="43.6" width="0.8" height="0.8"/><rect x="27.2" y="10.3" width="0.8" height="0.8"/><rect x="24.9" y="47.0" width="0.8" height="0.8"/><rect x="20.2" y="29.5" width="0.8" height="0.8"/><rect x="20.6" y="25.4" width="0.8" height="0.8"/><rect x="24.3" y="46.5" width="0.8" height="0.8"/><rect x="23.2" y="42.1" width="0.8" height="0.8"/><rect x="27.8" y="16.5" width="0.8" height="0.8"/><rect x="22.4" y="6.9" width="0.8" height="0.8"/><rect x="24.5" y="6.6" width="0.8" height="0.8"/><rect x="22.4" y="9.8" width="0.8" height="0.8"/><rect x="25.3" y="11.4" width="0.8" height="0.8"/><rect x="25.1" y="10.8" width="0.8" height="0.8"/><rect x="26.5" y="38.2" width="0.8" height="0.8"/><rect x="23.4" y="45.1" width="0.8" height="0.8"/><rect x="27.1" y="25.1" width="0.8" height="0.8"/><rect x="21.3" y="6.5" width="0.8" height="0.8"/><rect x="24.4" y="46.6" width="0.8" height="0.8"/><rect x="21.4" y="31.6" width="0.8" height="0.8"/><rect x="27.0" y="24.3" width="0.8" height="0.8"/><rect x="25.1" y="41.5" width="0.8" height="0.8"/><rect x="25.4" y="8.0" width="0.8" height="0.8"/><rect x="26.8" y="24.8" width="0.8" height="0.8"/><rect x="27.3" y="45.8" width="0.8" height="0.8"/><rect x="21.5" y="41.7" width="0.8" height="0.8"/><rect x="24.2" y="47.6" width="0.8" height="0.8"/><rect x="24.8" y="8.0" width="0.8" height="0.8"/><rect x="28.1" y="16.7" width="0.8" height="0.8"/><rect x="25.2" y="44.8" width="0.8" height="0.8"/><rect x="21.2" y="17.2" width="0.8" height="0.8"/><rect x="26.7" y="12.0" width="0.8" height="0.8"/><rect x="21.6" y="37.8" width="0.8" height="0.8"/><rect x="24.0" y="42.3" width="0.8" height="0.8"/><rect x="24.6" y="4.1" width="0.8" height="0.8"/><rect x="24.6" y="43.5" width="0.8" height="0.8"/><rect x="22.6" y="11.0" width="0.8" height="0.8"/><rect x="26.4" y="40.6" width="0.8" height="0.8"/><rect x="22.1" y="50.2" width="0.8" height="0.8"/><rect x="26.0" y="39.0" width="0.8" height="0.8"/><rect x="24.9" y="9.4" width="0.8" height="0.8"/><rect x="23.7" y="42.4" width="0.8" height="0.8"/><rect x="27.1" y="29.7" width="0.8" height="0.8"/><rect x="21.3" y="7.1" width="0.8" height="0.8"/><rect x="26.5" y="38.2" width="0.8" height="0.8"/><rect x="24.0" y="47.1" width="0.8" height="0.8"/><rect x="27.5" y="15.8" width="0.8" height="0.8"/><rect x="23.6" y="44.9" width="0.8" height="0.8"/><rect x="24.6" y="45.7" width="0.8" height="0.8"/><rect x="23.0" y="9.0" width="0.8" height="0.8"/><rect x="24.7" y="45.3" width="0.8" height="0.8"/><rect x="24.7" y="42.3" width="0.8" height="0.8"/><rect x="27.2" y="29.0" width="0.8" height="0.8"/><rect x="27.2" y="25.3" width="0.8" height="0.8"/><rect x="22.5" y="5.6" width="0.8" height="0.8"/><rect x="26.3" y="6.0" width="0.8" height="0.8"/><rect x="24.8" y="8.4" width="0.8" height="0.8"/><rect x="24.7" y="5.4" width="0.8" height="0.8"/><rect x="26.8" y="39.5" width="0.8" height="0.8"/><rect x="26.7" y="11.5" width="0.8" height="0.8"/><rect x="20.7" y="8.4" width="0.8" height="0.8"/><rect x="21.3" y="27.8" width="0.8" height="0.8"/><rect x="23.9" y="6.4" width="0.8" height="0.8"/><rect x="28.5" y="35.1" width="0.8" height="0.8"/><rect x="24.2" y="44.7" width="0.8" height="0.8"/><rect x="22.7" y="46.5" width="0.8" height="0.8"/><rect x="29.1" y="29.2" width="0.8" height="0.8"/><rect x="27.3" y="20.8" width="0.8" height="0.8"/><rect x="24.2" y="48.7" width="0.8" height="0.8"/><rect x="27.9" y="50.2" width="0.8" height="0.8"/><rect x="26.2" y="41.1" width="0.8" height="0.8"/><rect x="18.6" y="25.9" width="0.8" height="0.8"/><rect x="21.1" y="31.2" width="0.8" height="0.8"/><rect x="27.1" y="43.6" width="0.8" height="0.8"/><rect x="26.6" y="16.9" width="0.8" height="0.8"/><rect x="20.3" y="24.9" width="0.8" height="0.8"/><rect x="26.4" y="37.2" width="0.8" height="0.8"/><rect x="20.3" y="19.1" width="0.8" height="0.8"/><rect x="23.7" y="41.3" width="0.8" height="0.8"/><rect x="25.0" y="48.4" width="0.8" height="0.8"/><rect x="25.3" y="49.7" width="0.8" height="0.8"/><rect x="20.6" y="50.4" width="0.8" height="0.8"/><rect x="27.8" y="45.7" width="0.8" height="0.8"/><rect x="20.4" y="18.2" width="0.8" height="0.8"/><rect x="22.8" y="12.2" width="0.8" height="0.8"/><rect x="28.1" y="42.6" width="0.8" height="0.8"/><rect x="25.1" y="0.9" width="0.8" height="0.8"/><rect x="22.7" y="46.1" width="0.8" height="0.8"/><rect x="28.3" y="43.2" width="0.8" height="0.8"/><rect x="25.1" y="8.8" width="0.8" height="0.8"/><rect x="23.3" y="10.4" width="0.8" height="0.8"/><rect x="27.1" y="46.4" width="0.8" height="0.8"/><rect x="30.1" y="36.4" width="0.8" height="0.8"/><rect x="20.5" y="6.9" width="0.8" height="0.8"/><rect x="21.9" y="2.5" width="0.8" height="0.8"/><rect x="24.2" y="9.2" width="0.8" height="0.8"/><rect x="18.6" y="11.4" width="0.8" height="0.8"/><rect x="25.9" y="45.6" width="0.8" height="0.8"/><rect x="26.5" y="49.0" width="0.8" height="0.8"/><rect x="23.9" y="5.9" width="0.8" height="0.8"/><rect x="21.0" y="33.5" width="0.8" height="0.8"/><rect x="18.1" y="23.6" width="0.8" height="0.8"/><rect x="26.2" y="14.6" width="0.8" height="0.8"/><rect x="24.8" y="5.1" width="0.8" height="0.8"/><rect x="28.9" y="12.2" width="0.8" height="0.8"/><rect x="25.3" y="41.2" width="0.8" height="0.8"/><rect x="21.0" y="20.5" width="0.8" height="0.8"/><rect x="27.6" y="32.2" width="0.8" height="0.8"/><rect x="21.1" y="6.6" width="0.8" height="0.8"/><rect x="20.8" y="25.4" width="0.8" height="0.8"/><rect x="25.3" y="9.3" width="0.8" height="0.8"/><rect x="26.2" y="15.2" width="0.8" height="0.8"/><rect x="29.3" y="25.1" width="0.8" height="0.8"/><rect x="24.7" y="41.1" width="0.8" height="0.8"/><rect x="20.6" y="26.2" width="0.8" height="0.8"/><rect x="21.9" y="42.6" width="0.8" height="0.8"/><rect x="28.2" y="39.8" width="0.8" height="0.8"/><rect x="19.5" y="30.9" width="0.8" height="0.8"/><rect x="26.3" y="13.1" width="0.8" height="0.8"/><rect x="22.8" y="42.3" width="0.8" height="0.8"/><rect x="23.2" y="3.9" width="0.8" height="0.8"/><rect x="21.4" y="15.4" width="0.8" height="0.8"/><rect x="26.0" y="44.2" width="0.8" height="0.8"/><rect x="46.0" y="1.9" width="0.8" height="0.8"/><rect x="47.2" y="47.5" width="0.8" height="0.8"/><rect x="42.3" y="27.1" width="0.8" height="0.8"/><rect x="44.6" y="39.4" width="0.8" height="0.8"/><rect x="44.8" y="51.5" width="0.8" height="0.8"/><rect x="47.0" y="85.6" width="0.8" height="0.8"/><rect x="41.0" y="44.3" width="0.8" height="0.8"/><rect x="48.6" y="20.2" width="0.8" height="0.8"/><rect x="51.4" y="43.9" width="0.8" height="0.8"/><rect x="50.7" y="31.5" width="0.8" height="0.8"/><rect x="40.3" y="14.1" width="0.8" height="0.8"/><rect x="46.0" y="31.8" width="0.8" height="0.8"/><rect x="49.8" y="64.8" width="0.8" height="0.8"/><rect x="42.4" y="27.9" width="0.8" height="0.8"/><rect x="38.6" y="58.4" width="0.8" height="0.8"/><rect x="51.9" y="48.6" width="0.8" height="0.8"/><rect x="41.8" y="42.9" width="0.8" height="0.8"/><rect x="37.9" y="72.2" width="0.8" height="0.8"/><rect x="40.1" y="38.1" width="0.8" height="0.8"/><rect x="47.1" y="34.2" width="0.8" height="0.8"/><rect x="52.0" y="49.6" width="0.8" height="0.8"/><rect x="44.7" y="41.0" width="0.8" height="0.8"/><rect x="54.0" y="34.8" width="0.8" height="0.8"/><rect x="49.5" y="24.5" width="0.8" height="0.8"/><rect x="35.2" y="43.1" width="0.8" height="0.8"/><rect x="47.4" y="45.9" width="0.8" height="0.8"/><rect x="40.2" y="61.4" width="0.8" height="0.8"/><rect x="36.8" y="50.7" width="0.8" height="0.8"/><rect x="49.7" y="20.9" width="0.8" height="0.8"/><rect x="44.7" y="24.5" width="0.8" height="0.8"/><rect x="42.1" y="19.2" width="0.8" height="0.8"/><rect x="45.2" y="8.8" width="0.8" height="0.8"/><rect x="40.2" y="78.4" width="0.8" height="0.8"/><rect x="46.0" y="63.9" width="0.8" height="0.8"/><rect x="35.6" y="61.4" width="0.8" height="0.8"/><rect x="45.6" y="27.5" width="0.8" height="0.8"/><rect x="50.2" y="71.2" width="0.8" height="0.8"/><rect x="44.1" y="35.2" width="0.8" height="0.8"/></g>
<g fill="none" stroke="#d21e96" stroke-width="0.55" stroke-linejoin="round">
<path d="M24.0,10.2 24.8,10.2 25.0,10.8 25.3,11.5 25.5,12.2 25.8,13.2 25.9,13.8 26.1,14.8 26.3,15.7 26.4,16.2 26.7,17.2 26.8,18.2 26.8,18.8 26.9,19.8 26.9,20.8 26.8,21.8 26.8,22.2 26.7,23.2 26.8,24.2 26.8,24.8 26.9,25.8 27.0,26.8 27.0,27.8 27.0,28.8 27.0,29.8 27.0,30.8 27.0,31.8 26.8,32.8 26.7,33.2 26.5,34.2 26.4,35.2 26.3,35.8 26.2,36.8 26.1,37.8 25.8,38.6 25.6,39.2 25.3,39.8 24.8,40.6 24.3,40.8 23.8,40.6 23.3,40.2 22.8,39.4 22.5,38.8 22.3,37.8 22.3,37.2 22.2,36.2 22.1,35.2 22.0,34.2 21.9,33.2 21.8,32.8 21.6,31.8 21.5,30.8 21.5,29.8 21.5,28.8 21.5,27.8 21.5,26.8 21.5,25.8 21.6,24.8 21.5,23.8 21.4,22.8 21.3,21.7 21.4,20.8 21.4,19.8 21.4,18.8 21.5,17.8 21.8,16.8 21.9,16.2 22.1,15.2 22.3,14.5 22.5,13.8 22.8,12.8 22.9,12.2 23.3,11.2 23.6,10.8 24.0,10.2ZM23.8,47.2 23.8,47.2 24.1,48.2 24.3,49.1 24.5,49.8 24.8,50.2 25.3,51.1 25.7,51.8 26.0,52.2 26.3,53.1 26.6,53.8 26.8,54.4 27.1,55.2 27.3,56.2 27.4,56.8 27.6,57.8 27.8,58.8 27.9,59.2 28.1,60.2 28.3,61.2 28.3,61.8 28.4,62.8 28.5,63.8 28.6,64.8 28.7,65.8 28.7,66.8 28.7,67.8 28.8,68.8 28.7,69.8 28.7,70.8 28.7,71.8 28.7,72.8 28.7,73.8 28.7,74.8 28.7,75.8 28.6,76.8 28.5,77.8 28.3,78.7 28.3,79.2 28.2,80.2 28.0,81.2 27.9,82.2 27.8,82.9 27.7,83.8 27.3,84.8 27.2,85.2 26.8,86.1 26.6,86.8 26.3,87.4 25.9,88.2 25.7,88.7 25.3,89.5 24.8,90.1 24.3,90.4 23.3,90.6 22.6,90.2 22.0,89.8 21.5,89.2 21.2,88.8 20.8,87.9 20.6,87.2 20.3,86.2 20.2,85.8 19.9,84.8 19.8,84.2 19.5,83.2 19.3,82.2 19.2,81.8 19.1,80.8 19.0,79.8 18.9,78.8 18.8,77.8 18.8,77.2 18.6,76.2 18.6,75.2 18.5,74.2 18.5,73.2 18.4,72.2 18.4,71.2 18.4,70.2 18.4,69.2 18.5,68.2 18.5,67.2 18.6,66.2 18.6,65.2 18.7,64.2 18.8,63.2 18.8,62.8 18.9,61.8 19.1,60.8 19.2,59.8 19.3,59.2 19.4,58.2 19.6,57.2 19.8,56.5 20.0,55.8 20.3,55.0 20.6,54.2 20.9,53.8 21.3,52.8 21.6,52.2 21.9,51.8 22.3,50.8 22.6,50.2 22.8,49.8 23.2,48.8 23.3,47.8 23.8,47.2Z" fill="none" opacity="0.7"/>
<path d="M23.8,19.2 24.3,19.2 24.6,19.8 24.8,20.7 24.8,20.8 24.7,21.8 24.4,22.8 23.8,22.9 23.5,22.2 23.3,21.8 23.3,20.8 23.4,20.2 23.8,19.2ZM24.0,25.8 24.5,25.8 24.8,26.3 24.9,27.2 24.7,27.8 24.0,27.8 23.8,27.2 23.8,26.2 24.0,25.8ZM23.2,54.2 23.8,54.1 24.4,54.2 24.9,54.8 25.3,55.4 25.7,56.2 25.9,56.8 26.2,57.8 26.4,58.2 26.7,59.2 26.8,59.8 27.1,60.8 27.2,61.8 27.3,62.6 27.4,63.2 27.5,64.2 27.6,65.2 27.7,66.2 27.8,67.2 27.8,68.2 27.8,68.8 27.8,69.8 27.8,70.2 27.8,71.2 27.8,72.2 27.8,73.2 27.8,74.2 27.7,75.2 27.7,76.2 27.6,77.2 27.4,78.2 27.3,78.8 27.2,79.8 27.0,80.8 26.8,81.7 26.7,82.2 26.4,83.2 26.3,83.8 25.8,84.7 25.5,85.2 25.2,85.8 24.8,86.2 24.3,86.8 23.3,87.1 22.7,86.8 22.2,86.2 21.8,85.6 21.4,84.8 21.2,84.2 20.8,83.2 20.7,82.8 20.4,81.8 20.3,81.0 20.2,80.2 20.0,79.2 19.9,78.2 19.8,77.5 19.7,76.8 19.6,75.8 19.5,74.8 19.4,73.8 19.4,72.8 19.3,71.8 19.3,70.8 19.3,69.8 19.4,68.8 19.4,67.8 19.5,66.8 19.6,65.8 19.6,64.8 19.7,63.8 19.8,63.2 19.9,62.2 20.1,61.2 20.3,60.3 20.4,59.8 20.6,58.8 20.8,58.1 21.1,57.2 21.3,56.7 21.8,55.8 22.1,55.2 22.6,54.8 23.2,54.2Z" fill="rgba(200,22,150,0.18)" opacity="0.95"/>
<path d="M22.9,57.8 23.8,57.5 24.3,57.8 24.8,58.3 25.3,59.2 25.6,59.8 25.8,60.5 26.0,61.2 26.2,62.2 26.3,62.8 26.5,63.8 26.7,64.8 26.8,65.8 26.8,66.3 26.9,67.2 27.0,68.2 27.0,69.2 27.0,70.2 27.0,71.2 27.0,72.2 27.0,73.2 26.9,74.2 26.8,75.2 26.8,75.8 26.7,76.8 26.5,77.8 26.3,78.8 26.2,79.2 25.9,80.2 25.8,80.8 25.5,81.8 25.3,82.2 24.8,83.0 24.3,83.5 23.3,83.7 22.7,83.2 22.3,82.8 21.8,81.8 21.6,81.2 21.3,80.2 21.2,79.8 21.0,78.8 20.8,77.8 20.7,77.2 20.6,76.2 20.5,75.2 20.4,74.2 20.3,73.5 20.2,72.8 20.1,71.8 20.1,70.8 20.2,69.8 20.3,68.8 20.3,68.0 20.3,67.2 20.4,66.2 20.5,65.2 20.6,64.2 20.8,63.2 20.9,62.8 21.1,61.8 21.3,61.0 21.5,60.2 21.8,59.4 22.1,58.8 22.4,58.2 22.9,57.8Z" fill="rgba(200,22,150,0.25)" opacity="0.95"/>
<path d="M23.2,60.8 23.8,60.6 24.3,61.0 24.8,61.8 25.0,62.2 25.3,63.1 25.5,63.8 25.7,64.8 25.8,65.4 25.9,66.2 26.0,67.2 26.1,68.2 26.2,69.2 26.2,70.2 26.2,71.2 26.2,72.2 26.1,73.2 26.0,74.2 25.9,75.2 25.8,76.1 25.7,76.8 25.5,77.8 25.3,78.2 24.9,79.2 24.6,79.8 24.1,80.2 23.3,80.4 22.8,79.9 22.5,79.2 22.2,78.8 21.9,77.8 21.8,77.2 21.6,76.2 21.4,75.2 21.3,74.5 21.2,73.8 21.1,72.8 21.0,71.8 21.0,70.8 21.0,69.8 21.1,68.8 21.1,67.8 21.2,66.8 21.3,65.9 21.4,65.2 21.6,64.2 21.8,63.4 22.0,62.8 22.3,62.0 22.7,61.2 23.2,60.8Z" fill="rgba(205,24,152,0.35)" opacity="0.95"/>
<path d="M23.0,64.2 23.8,63.8 24.3,64.3 24.7,65.2 24.8,65.8 25.0,66.8 25.1,67.8 25.3,68.8 25.3,69.3 25.3,70.2 25.3,71.2 25.3,72.0 25.3,72.8 25.1,73.8 25.0,74.8 24.8,75.3 24.4,76.2 23.9,76.8 23.6,76.8 23.1,76.2 22.8,75.8 22.4,74.8 22.3,74.2 22.0,73.2 21.9,72.2 21.9,71.2 21.9,70.2 21.9,69.2 22.0,68.2 22.1,67.2 22.3,66.2 22.3,65.8 22.7,64.8 23.0,64.2Z" fill="rgba(215,30,160,0.5)" opacity="0.95"/>
</g></g>
<rect x="201.89999999999998" y="243.29999999999998" width="19.2" height="46.6" fill="none" stroke="#2bdca2" stroke-width="2.4" />
<rect x="201.89999999999998" y="292.8" width="19.5" height="44.7" fill="none" stroke="#e8180f" stroke-width="2.4" />
<text x="244.5" y="269.3" font-size="8.8" font-weight="bold" font-style="normal" text-anchor="start" fill="#2bdca2" textLength="17" lengthAdjust="spacingAndGlyphs" stroke="#2bdca2" stroke-width="0.35">22.0</text>
<text x="244.5" y="321.6" font-size="8.8" font-weight="bold" font-style="normal" text-anchor="start" fill="#e8180f" textLength="17" lengthAdjust="spacingAndGlyphs" stroke="#e8180f" stroke-width="0.35">75.7</text>
<g fill="#000"><rect x="191.07" y="340.7" width="1" height="2.9"/><rect x="194.04" y="340.7" width="1" height="2.9"/><rect x="197.01" y="340.7" width="1" height="2.9"/><rect x="199.98" y="340.7" width="1" height="2.9"/><rect x="202.94" y="340.7" width="1" height="5.0"/><rect x="205.91" y="340.7" width="1" height="2.9"/><rect x="208.88" y="340.7" width="1" height="2.9"/><rect x="211.85" y="340.7" width="1" height="2.9"/><rect x="214.82" y="340.7" width="1" height="2.9"/><rect x="217.79" y="340.7" width="1" height="5.0"/><rect x="220.76" y="340.7" width="1" height="2.9"/><rect x="223.73" y="340.7" width="1" height="2.9"/><rect x="226.69" y="340.7" width="1" height="2.9"/><rect x="229.66" y="340.7" width="1" height="2.9"/><rect x="232.63" y="340.7" width="1" height="5.0"/><rect x="235.60" y="340.7" width="1" height="2.9"/><rect x="238.57" y="340.7" width="1" height="2.9"/><rect x="241.54" y="340.7" width="1" height="2.9"/><rect x="244.51" y="340.7" width="1" height="2.9"/><rect x="247.48" y="340.7" width="1" height="5.0"/><rect x="250.44" y="340.7" width="1" height="2.9"/><rect x="253.41" y="340.7" width="1" height="2.9"/><rect x="256.38" y="340.7" width="1" height="2.9"/><rect x="259.35" y="340.7" width="1" height="2.9"/><rect x="262.32" y="340.7" width="1" height="5.0"/><rect x="265.29" y="340.7" width="1" height="2.9"/><rect x="185.80" y="336.41" width="2.4" height="1"/><rect x="185.80" y="332.62" width="2.4" height="1"/><rect x="185.80" y="328.83" width="2.4" height="1"/><rect x="185.80" y="325.04" width="2.4" height="1"/><rect x="183.80" y="321.25" width="4.4" height="1"/><rect x="185.80" y="317.46" width="2.4" height="1"/><rect x="185.80" y="313.67" width="2.4" height="1"/><rect x="185.80" y="309.88" width="2.4" height="1"/><rect x="185.80" y="306.09" width="2.4" height="1"/><rect x="183.80" y="302.30" width="4.4" height="1"/><rect x="185.80" y="298.51" width="2.4" height="1"/><rect x="185.80" y="294.72" width="2.4" height="1"/><rect x="185.80" y="290.93" width="2.4" height="1"/><rect x="185.80" y="287.14" width="2.4" height="1"/><rect x="183.80" y="283.35" width="4.4" height="1"/><rect x="185.80" y="279.56" width="2.4" height="1"/><rect x="185.80" y="275.77" width="2.4" height="1"/><rect x="185.80" y="271.98" width="2.4" height="1"/><rect x="185.80" y="268.19" width="2.4" height="1"/><rect x="183.80" y="264.40" width="4.4" height="1"/><rect x="185.80" y="260.61" width="2.4" height="1"/><rect x="185.80" y="256.82" width="2.4" height="1"/><rect x="185.80" y="253.03" width="2.4" height="1"/><rect x="185.80" y="249.24" width="2.4" height="1"/><rect x="183.80" y="245.45" width="4.4" height="1"/><rect x="185.80" y="241.66" width="2.4" height="1"/></g>
<text x="203.4" y="351.9" font-size="5.6" font-weight="normal" font-style="normal" text-anchor="middle" fill="#2a2a2a" stroke="#2a2a2a" stroke-width="0.15">50</text>
<text transform="translate(182.9,321.8) rotate(-90)" font-size="5.6" text-anchor="middle" fill="#2a2a2a" stroke="#2a2a2a" stroke-width="0.15">50</text>
<text x="218.3" y="351.9" font-size="5.6" font-weight="normal" font-style="normal" text-anchor="middle" fill="#2a2a2a" stroke="#2a2a2a" stroke-width="0.15">100</text>
<text transform="translate(182.9,302.8) rotate(-90)" font-size="5.6" text-anchor="middle" fill="#2a2a2a" stroke="#2a2a2a" stroke-width="0.15">100</text>
<text x="233.1" y="351.9" font-size="5.6" font-weight="normal" font-style="normal" text-anchor="middle" fill="#2a2a2a" stroke="#2a2a2a" stroke-width="0.15">150</text>
<text transform="translate(182.9,283.8) rotate(-90)" font-size="5.6" text-anchor="middle" fill="#2a2a2a" stroke="#2a2a2a" stroke-width="0.15">150</text>
<text x="248.0" y="351.9" font-size="5.6" font-weight="normal" font-style="normal" text-anchor="middle" fill="#2a2a2a" stroke="#2a2a2a" stroke-width="0.15">200</text>
<text transform="translate(182.9,264.9) rotate(-90)" font-size="5.6" text-anchor="middle" fill="#2a2a2a" stroke="#2a2a2a" stroke-width="0.15">200</text>
<text x="262.8" y="351.9" font-size="5.6" font-weight="normal" font-style="normal" text-anchor="middle" fill="#2a2a2a" stroke="#2a2a2a" stroke-width="0.15">250</text>
<text transform="translate(182.9,245.9) rotate(-90)" font-size="5.6" text-anchor="middle" fill="#2a2a2a" stroke="#2a2a2a" stroke-width="0.15">250</text>
<text x="211.5" y="360.9" font-size="7.2" fill="#2a2a2a" textLength="33.1" lengthAdjust="spacingAndGlyphs" stroke="#2a2a2a" stroke-width="0.15">HO Blue-A</text>
<text x="245.0" y="358.7" font-size="5" fill="#2a2a2a" textLength="21.7" lengthAdjust="spacingAndGlyphs" stroke="#2a2a2a" stroke-width="0.15">(x 1,000)</text>
<text transform="translate(175.9,290.7) rotate(-90)" font-size="7.2" text-anchor="middle" fill="#2a2a2a" textLength="15.5" lengthAdjust="spacingAndGlyphs" stroke="#2a2a2a" stroke-width="0.15">PY-A</text>
<text transform="translate(175.6,253.7) rotate(-90)" font-size="5" text-anchor="middle" fill="#2a2a2a" textLength="22.5" lengthAdjust="spacingAndGlyphs" stroke="#2a2a2a" stroke-width="0.15">(x 1,000)</text>
<rect x="34.7" y="385.5" width="107.5" height="136.7" fill="#fff" stroke="#4a4a4a" stroke-width="1.1" />
<rect x="59.2" y="398.2" width="79.1" height="98.5" fill="#000" stroke="none" stroke-width="0" />
<g transform="translate(59.2,398.2) scale(0.9925,1)">
<g fill="#d21e96" opacity="0.5"><rect x="14.8" y="61.4" width="0.8" height="0.8"/><rect x="36.0" y="67.1" width="0.8" height="0.8"/><rect x="13.8" y="92.3" width="0.8" height="0.8"/><rect x="28.0" y="95.8" width="0.8" height="0.8"/><rect x="15.0" y="61.4" width="0.8" height="0.8"/><rect x="16.7" y="94.5" width="0.8" height="0.8"/><rect x="32.9" y="84.9" width="0.8" height="0.8"/><rect x="29.8" y="93.4" width="0.8" height="0.8"/><rect x="16.3" y="59.2" width="0.8" height="0.8"/><rect x="32.3" y="83.8" width="0.8" height="0.8"/><rect x="32.2" y="82.1" width="0.8" height="0.8"/><rect x="17.4" y="86.6" width="0.8" height="0.8"/><rect x="27.0" y="96.1" width="0.8" height="0.8"/><rect x="32.4" y="88.0" width="0.8" height="0.8"/><rect x="14.8" y="70.7" width="0.8" height="0.8"/><rect x="26.9" y="95.2" width="0.8" height="0.8"/><rect x="17.6" y="93.8" width="0.8" height="0.8"/><rect x="33.3" y="86.8" width="0.8" height="0.8"/><rect x="15.8" y="60.2" width="0.8" height="0.8"/><rect x="16.0" y="61.2" width="0.8" height="0.8"/><rect x="12.0" y="83.0" width="0.8" height="0.8"/><rect x="33.3" y="58.7" width="0.8" height="0.8"/><rect x="17.6" y="94.2" width="0.8" height="0.8"/><rect x="32.7" y="63.3" width="0.8" height="0.8"/><rect x="15.5" y="86.3" width="0.8" height="0.8"/><rect x="32.4" y="92.9" width="0.8" height="0.8"/><rect x="17.8" y="91.7" width="0.8" height="0.8"/><rect x="13.6" y="65.9" width="0.8" height="0.8"/><rect x="29.7" y="93.7" width="0.8" height="0.8"/><rect x="17.3" y="55.3" width="0.8" height="0.8"/><rect x="13.2" y="69.0" width="0.8" height="0.8"/><rect x="19.9" y="95.2" width="0.8" height="0.8"/><rect x="30.6" y="88.6" width="0.8" height="0.8"/><rect x="18.1" y="93.6" width="0.8" height="0.8"/><rect x="17.1" y="90.3" width="0.8" height="0.8"/><rect x="16.1" y="95.4" width="0.8" height="0.8"/><rect x="13.2" y="80.9" width="0.8" height="0.8"/><rect x="33.5" y="44.4" width="0.8" height="0.8"/><rect x="35.5" y="75.4" width="0.8" height="0.8"/><rect x="15.7" y="82.0" width="0.8" height="0.8"/><rect x="16.1" y="79.6" width="0.8" height="0.8"/><rect x="19.2" y="95.5" width="0.8" height="0.8"/><rect x="31.1" y="56.5" width="0.8" height="0.8"/><rect x="31.4" y="88.5" width="0.8" height="0.8"/><rect x="32.4" y="82.6" width="0.8" height="0.8"/><rect x="32.6" y="34.8" width="0.8" height="0.8"/><rect x="21.8" y="97.1" width="0.8" height="0.8"/><rect x="27.2" y="95.8" width="0.8" height="0.8"/><rect x="33.4" y="78.8" width="0.8" height="0.8"/><rect x="32.8" y="87.4" width="0.8" height="0.8"/><rect x="15.3" y="75.7" width="0.8" height="0.8"/><rect x="17.1" y="83.6" width="0.8" height="0.8"/><rect x="18.4" y="97.5" width="0.8" height="0.8"/><rect x="29.9" y="92.6" width="0.8" height="0.8"/><rect x="14.6" y="55.7" width="0.8" height="0.8"/><rect x="27.4" y="95.8" width="0.8" height="0.8"/><rect x="30.0" y="94.8" width="0.8" height="0.8"/><rect x="14.9" y="62.4" width="0.8" height="0.8"/><rect x="32.1" y="71.5" width="0.8" height="0.8"/><rect x="31.7" y="57.3" width="0.8" height="0.8"/><rect x="32.6" y="79.2" width="0.8" height="0.8"/><rect x="15.8" y="57.2" width="0.8" height="0.8"/><rect x="15.3" y="57.7" width="0.8" height="0.8"/><rect x="14.1" y="78.8" width="0.8" height="0.8"/><rect x="32.2" y="80.2" width="0.8" height="0.8"/><rect x="15.4" y="61.3" width="0.8" height="0.8"/><rect x="32.5" y="63.3" width="0.8" height="0.8"/><rect x="31.7" y="91.4" width="0.8" height="0.8"/><rect x="33.8" y="81.6" width="0.8" height="0.8"/><rect x="19.4" y="96.8" width="0.8" height="0.8"/><rect x="29.5" y="94.9" width="0.8" height="0.8"/><rect x="17.7" y="96.1" width="0.8" height="0.8"/><rect x="38.0" y="61.8" width="0.8" height="0.8"/><rect x="14.3" y="61.5" width="0.8" height="0.8"/><rect x="31.9" y="55.5" width="0.8" height="0.8"/><rect x="31.0" y="91.6" width="0.8" height="0.8"/><rect x="15.0" y="82.7" width="0.8" height="0.8"/><rect x="15.6" y="58.5" width="0.8" height="0.8"/><rect x="34.4" y="87.0" width="0.8" height="0.8"/><rect x="31.7" y="64.5" width="0.8" height="0.8"/><rect x="15.1" y="60.8" width="0.8" height="0.8"/><rect x="30.8" y="86.2" width="0.8" height="0.8"/><rect x="31.9" y="66.4" width="0.8" height="0.8"/><rect x="17.8" y="49.8" width="0.8" height="0.8"/><rect x="14.7" y="74.8" width="0.8" height="0.8"/><rect x="35.3" y="95.6" width="0.8" height="0.8"/><rect x="15.4" y="78.2" width="0.8" height="0.8"/><rect x="31.2" y="56.7" width="0.8" height="0.8"/><rect x="17.6" y="93.4" width="0.8" height="0.8"/><rect x="14.7" y="77.3" width="0.8" height="0.8"/><rect x="32.9" y="68.3" width="0.8" height="0.8"/><rect x="20.4" y="96.6" width="0.8" height="0.8"/><rect x="15.7" y="67.9" width="0.8" height="0.8"/><rect x="32.9" y="78.4" width="0.8" height="0.8"/><rect x="31.7" y="61.3" width="0.8" height="0.8"/><rect x="16.0" y="58.1" width="0.8" height="0.8"/><rect x="32.1" y="87.4" width="0.8" height="0.8"/><rect x="32.7" y="69.1" width="0.8" height="0.8"/><rect x="13.8" y="61.3" width="0.8" height="0.8"/><rect x="33.9" y="65.8" width="0.8" height="0.8"/><rect x="16.9" y="81.2" width="0.8" height="0.8"/><rect x="14.0" y="71.9" width="0.8" height="0.8"/><rect x="25.4" y="97.8" width="0.8" height="0.8"/><rect x="31.0" y="50.2" width="0.8" height="0.8"/><rect x="30.5" y="88.6" width="0.8" height="0.8"/><rect x="31.8" y="67.2" width="0.8" height="0.8"/><rect x="17.9" y="90.5" width="0.8" height="0.8"/><rect x="31.6" y="82.1" width="0.8" height="0.8"/><rect x="30.4" y="91.5" width="0.8" height="0.8"/><rect x="17.0" y="82.3" width="0.8" height="0.8"/><rect x="15.3" y="78.1" width="0.8" height="0.8"/><rect x="16.7" y="81.5" width="0.8" height="0.8"/><rect x="35.9" y="70.3" width="0.8" height="0.8"/><rect x="16.2" y="46.3" width="0.8" height="0.8"/><rect x="31.7" y="62.4" width="0.8" height="0.8"/><rect x="16.1" y="87.2" width="0.8" height="0.8"/><rect x="31.5" y="56.5" width="0.8" height="0.8"/><rect x="13.7" y="70.8" width="0.8" height="0.8"/><rect x="34.0" y="75.6" width="0.8" height="0.8"/><rect x="31.8" y="51.9" width="0.8" height="0.8"/><rect x="29.1" y="92.6" width="0.8" height="0.8"/><rect x="30.9" y="91.6" width="0.8" height="0.8"/><rect x="16.5" y="64.9" width="0.8" height="0.8"/><rect x="32.3" y="65.6" width="0.8" height="0.8"/><rect x="13.8" y="66.5" width="0.8" height="0.8"/><rect x="16.1" y="83.7" width="0.8" height="0.8"/><rect x="15.2" y="77.0" width="0.8" height="0.8"/><rect x="31.6" y="84.1" width="0.8" height="0.8"/><rect x="32.6" y="64.5" width="0.8" height="0.8"/><rect x="13.6" y="73.4" width="0.8" height="0.8"/><rect x="14.6" y="69.3" width="0.8" height="0.8"/><rect x="27.3" y="96.9" width="0.8" height="0.8"/><rect x="30.6" y="95.0" width="0.8" height="0.8"/><rect x="32.4" y="83.3" width="0.8" height="0.8"/><rect x="15.2" y="70.7" width="0.8" height="0.8"/><rect x="29.1" y="95.5" width="0.8" height="0.8"/><rect x="22.8" y="97.3" width="0.8" height="0.8"/><rect x="25.6" y="97.6" width="0.8" height="0.8"/><rect x="18.1" y="50.2" width="0.8" height="0.8"/><rect x="15.8" y="68.3" width="0.8" height="0.8"/><rect x="25.6" y="96.7" width="0.8" height="0.8"/><rect x="18.3" y="96.6" width="0.8" height="0.8"/><rect x="17.9" y="53.2" width="0.8" height="0.8"/><rect x="26.7" y="97.1" width="0.8" height="0.8"/><rect x="33.0" y="80.7" width="0.8" height="0.8"/><rect x="25.6" y="96.3" width="0.8" height="0.8"/><rect x="17.3" y="85.9" width="0.8" height="0.8"/><rect x="15.0" y="48.0" width="0.8" height="0.8"/><rect x="13.9" y="87.8" width="0.8" height="0.8"/><rect x="31.9" y="66.0" width="0.8" height="0.8"/><rect x="30.0" y="93.3" width="0.8" height="0.8"/><rect x="32.2" y="65.6" width="0.8" height="0.8"/><rect x="13.8" y="73.3" width="0.8" height="0.8"/><rect x="34.1" y="75.9" width="0.8" height="0.8"/><rect x="14.6" y="66.2" width="0.8" height="0.8"/><rect x="15.0" y="61.8" width="0.8" height="0.8"/><rect x="14.4" y="84.0" width="0.8" height="0.8"/><rect x="14.3" y="85.7" width="0.8" height="0.8"/><rect x="15.2" y="76.3" width="0.8" height="0.8"/><rect x="18.3" y="51.3" width="0.8" height="0.8"/><rect x="17.9" y="52.3" width="0.8" height="0.8"/><rect x="30.7" y="94.2" width="0.8" height="0.8"/><rect x="32.9" y="70.1" width="0.8" height="0.8"/><rect x="13.6" y="66.0" width="0.8" height="0.8"/><rect x="32.8" y="58.1" width="0.8" height="0.8"/><rect x="16.4" y="67.3" width="0.8" height="0.8"/><rect x="30.2" y="90.4" width="0.8" height="0.8"/><rect x="15.5" y="68.1" width="0.8" height="0.8"/><rect x="32.3" y="46.0" width="0.8" height="0.8"/><rect x="33.2" y="78.4" width="0.8" height="0.8"/><rect x="28.3" y="94.2" width="0.8" height="0.8"/><rect x="13.7" y="77.6" width="0.8" height="0.8"/><rect x="32.6" y="62.1" width="0.8" height="0.8"/><rect x="11.9" y="73.7" width="0.8" height="0.8"/><rect x="16.0" y="55.0" width="0.8" height="0.8"/><rect x="33.4" y="73.6" width="0.8" height="0.8"/><rect x="31.9" y="92.3" width="0.8" height="0.8"/><rect x="31.0" y="49.5" width="0.8" height="0.8"/><rect x="20.2" y="95.7" width="0.8" height="0.8"/><rect x="17.4" y="90.5" width="0.8" height="0.8"/><rect x="31.1" y="59.5" width="0.8" height="0.8"/><rect x="17.0" y="89.2" width="0.8" height="0.8"/><rect x="15.9" y="48.7" width="0.8" height="0.8"/><rect x="18.2" y="2.7" width="0.8" height="0.8"/><rect x="31.0" y="39.4" width="0.8" height="0.8"/><rect x="30.6" y="12.8" width="0.8" height="0.8"/><rect x="15.4" y="13.1" width="0.8" height="0.8"/><rect x="14.7" y="22.6" width="0.8" height="0.8"/><rect x="16.8" y="48.3" width="0.8" height="0.8"/><rect x="27.3" y="2.9" width="0.8" height="0.8"/><rect x="15.4" y="13.3" width="0.8" height="0.8"/><rect x="29.6" y="6.1" width="0.8" height="0.8"/><rect x="32.5" y="22.8" width="0.8" height="0.8"/><rect x="14.3" y="7.5" width="0.8" height="0.8"/><rect x="17.9" y="50.1" width="0.8" height="0.8"/><rect x="14.6" y="37.1" width="0.8" height="0.8"/><rect x="31.2" y="42.4" width="0.8" height="0.8"/><rect x="14.2" y="25.4" width="0.8" height="0.8"/><rect x="32.2" y="36.7" width="0.8" height="0.8"/><rect x="15.2" y="36.7" width="0.8" height="0.8"/><rect x="31.4" y="17.0" width="0.8" height="0.8"/><rect x="14.1" y="13.0" width="0.8" height="0.8"/><rect x="31.4" y="14.3" width="0.8" height="0.8"/><rect x="16.4" y="41.1" width="0.8" height="0.8"/><rect x="29.6" y="5.5" width="0.8" height="0.8"/><rect x="15.2" y="11.4" width="0.8" height="0.8"/><rect x="21.8" y="2.0" width="0.8" height="0.8"/><rect x="12.1" y="36.6" width="0.8" height="0.8"/><rect x="17.1" y="45.8" width="0.8" height="0.8"/><rect x="24.7" y="3.2" width="0.8" height="0.8"/><rect x="15.2" y="18.4" width="0.8" height="0.8"/><rect x="15.0" y="28.0" width="0.8" height="0.8"/><rect x="27.2" y="4.0" width="0.8" height="0.8"/><rect x="14.6" y="43.9" width="0.8" height="0.8"/><rect x="32.4" y="44.3" width="0.8" height="0.8"/><rect x="34.0" y="45.9" width="0.8" height="0.8"/><rect x="16.1" y="54.5" width="0.8" height="0.8"/><rect x="32.3" y="18.9" width="0.8" height="0.8"/><rect x="26.5" y="0.9" width="0.8" height="0.8"/><rect x="30.2" y="6.5" width="0.8" height="0.8"/><rect x="14.2" y="21.8" width="0.8" height="0.8"/><rect x="15.4" y="13.1" width="0.8" height="0.8"/><rect x="34.7" y="27.7" width="0.8" height="0.8"/><rect x="14.5" y="28.1" width="0.8" height="0.8"/><rect x="17.3" y="48.2" width="0.8" height="0.8"/><rect x="31.2" y="30.4" width="0.8" height="0.8"/><rect x="33.2" y="13.4" width="0.8" height="0.8"/><rect x="32.9" y="41.0" width="0.8" height="0.8"/><rect x="24.6" y="3.0" width="0.8" height="0.8"/><rect x="15.6" y="7.8" width="0.8" height="0.8"/><rect x="16.4" y="15.9" width="0.8" height="0.8"/><rect x="16.4" y="10.9" width="0.8" height="0.8"/><rect x="16.0" y="6.7" width="0.8" height="0.8"/><rect x="33.6" y="39.0" width="0.8" height="0.8"/><rect x="10.1" y="32.1" width="0.8" height="0.8"/><rect x="24.9" y="1.7" width="0.8" height="0.8"/><rect x="14.4" y="31.1" width="0.8" height="0.8"/><rect x="30.5" y="9.7" width="0.8" height="0.8"/><rect x="30.3" y="10.7" width="0.8" height="0.8"/><rect x="17.6" y="47.5" width="0.8" height="0.8"/><rect x="31.1" y="39.3" width="0.8" height="0.8"/><rect x="29.2" y="6.3" width="0.8" height="0.8"/><rect x="17.2" y="46.1" width="0.8" height="0.8"/><rect x="30.5" y="5.7" width="0.8" height="0.8"/><rect x="15.9" y="10.0" width="0.8" height="0.8"/><rect x="32.0" y="52.0" width="0.8" height="0.8"/><rect x="25.3" y="2.3" width="0.8" height="0.8"/><rect x="10.5" y="7.3" width="0.8" height="0.8"/><rect x="14.9" y="1.4" width="0.8" height="0.8"/><rect x="12.8" y="39.4" width="0.8" height="0.8"/><rect x="34.0" y="21.8" width="0.8" height="0.8"/><rect x="33.0" y="28.9" width="0.8" height="0.8"/><rect x="17.0" y="42.8" width="0.8" height="0.8"/><rect x="30.6" y="6.1" width="0.8" height="0.8"/><rect x="14.6" y="40.3" width="0.8" height="0.8"/><rect x="14.4" y="24.8" width="0.8" height="0.8"/><rect x="16.4" y="2.6" width="0.8" height="0.8"/><rect x="26.1" y="3.0" width="0.8" height="0.8"/><rect x="30.0" y="2.7" width="0.8" height="0.8"/><rect x="33.3" y="24.4" width="0.8" height="0.8"/><rect x="17.2" y="50.2" width="0.8" height="0.8"/><rect x="31.9" y="49.2" width="0.8" height="0.8"/><rect x="32.1" y="28.6" width="0.8" height="0.8"/><rect x="18.7" y="2.8" width="0.8" height="0.8"/><rect x="32.9" y="32.1" width="0.8" height="0.8"/><rect x="33.8" y="27.3" width="0.8" height="0.8"/><rect x="14.8" y="27.7" width="0.8" height="0.8"/><rect x="16.8" y="45.3" width="0.8" height="0.8"/><rect x="13.3" y="28.7" width="0.8" height="0.8"/><rect x="29.9" y="0.6" width="0.8" height="0.8"/><rect x="31.7" y="15.0" width="0.8" height="0.8"/><rect x="32.1" y="37.4" width="0.8" height="0.8"/><rect x="32.6" y="37.7" width="0.8" height="0.8"/><rect x="14.7" y="24.9" width="0.8" height="0.8"/><rect x="31.6" y="15.0" width="0.8" height="0.8"/><rect x="35.8" y="21.8" width="0.8" height="0.8"/><rect x="32.2" y="40.7" width="0.8" height="0.8"/><rect x="35.0" y="30.1" width="0.8" height="0.8"/><rect x="28.9" y="7.0" width="0.8" height="0.8"/><rect x="27.2" y="5.4" width="0.8" height="0.8"/><rect x="29.6" y="4.1" width="0.8" height="0.8"/><rect x="33.0" y="16.5" width="0.8" height="0.8"/><rect x="29.4" y="4.1" width="0.8" height="0.8"/><rect x="32.3" y="15.9" width="0.8" height="0.8"/><rect x="14.0" y="31.7" width="0.8" height="0.8"/><rect x="14.5" y="8.9" width="0.8" height="0.8"/><rect x="27.7" y="4.9" width="0.8" height="0.8"/><rect x="32.4" y="22.2" width="0.8" height="0.8"/><rect x="31.2" y="20.1" width="0.8" height="0.8"/><rect x="30.2" y="9.9" width="0.8" height="0.8"/><rect x="31.2" y="9.7" width="0.8" height="0.8"/><rect x="15.7" y="46.6" width="0.8" height="0.8"/><rect x="32.3" y="11.0" width="0.8" height="0.8"/><rect x="32.4" y="25.9" width="0.8" height="0.8"/><rect x="18.8" y="2.1" width="0.8" height="0.8"/><rect x="17.4" y="4.7" width="0.8" height="0.8"/><rect x="16.1" y="50.5" width="0.8" height="0.8"/><rect x="32.2" y="16.0" width="0.8" height="0.8"/><rect x="33.2" y="27.6" width="0.8" height="0.8"/><rect x="14.7" y="34.2" width="0.8" height="0.8"/><rect x="14.6" y="25.0" width="0.8" height="0.8"/><rect x="31.8" y="13.8" width="0.8" height="0.8"/><rect x="27.9" y="5.3" width="0.8" height="0.8"/><rect x="30.1" y="11.8" width="0.8" height="0.8"/><rect x="14.5" y="27.9" width="0.8" height="0.8"/><rect x="31.9" y="19.5" width="0.8" height="0.8"/><rect x="15.9" y="13.7" width="0.8" height="0.8"/><rect x="16.6" y="1.4" width="0.8" height="0.8"/><rect x="15.4" y="7.0" width="0.8" height="0.8"/><rect x="24.7" y="1.7" width="0.8" height="0.8"/><rect x="15.2" y="51.1" width="0.8" height="0.8"/><rect x="17.2" y="48.9" width="0.8" height="0.8"/><rect x="31.9" y="22.6" width="0.8" height="0.8"/><rect x="32.2" y="23.2" width="0.8" height="0.8"/><rect x="14.9" y="30.3" width="0.8" height="0.8"/><rect x="30.4" y="5.7" width="0.8" height="0.8"/><rect x="31.6" y="4.8" width="0.8" height="0.8"/><rect x="32.4" y="34.7" width="0.8" height="0.8"/><rect x="30.5" y="11.8" width="0.8" height="0.8"/><rect x="17.3" y="2.9" width="0.8" height="0.8"/><rect x="25.5" y="4.1" width="0.8" height="0.8"/><rect x="26.1" y="4.2" width="0.8" height="0.8"/><rect x="14.0" y="28.8" width="0.8" height="0.8"/><rect x="29.4" y="8.2" width="0.8" height="0.8"/><rect x="17.0" y="3.6" width="0.8" height="0.8"/><rect x="14.2" y="26.3" width="0.8" height="0.8"/><rect x="23.2" y="1.8" width="0.8" height="0.8"/><rect x="23.5" y="1.0" width="0.8" height="0.8"/><rect x="30.8" y="10.7" width="0.8" height="0.8"/><rect x="32.1" y="13.7" width="0.8" height="0.8"/><rect x="12.8" y="51.0" width="0.8" height="0.8"/><rect x="17.1" y="46.5" width="0.8" height="0.8"/><rect x="14.5" y="35.2" width="0.8" height="0.8"/><rect x="19.2" y="2.5" width="0.8" height="0.8"/><rect x="32.1" y="55.4" width="0.8" height="0.8"/><rect x="13.8" y="26.7" width="0.8" height="0.8"/><rect x="16.4" y="16.5" width="0.8" height="0.8"/><rect x="17.0" y="2.2" width="0.8" height="0.8"/><rect x="20.6" y="2.1" width="0.8" height="0.8"/><rect x="18.4" y="2.5" width="0.8" height="0.8"/><rect x="18.9" y="2.3" width="0.8" height="0.8"/><rect x="18.9" y="1.9" width="0.8" height="0.8"/><rect x="20.2" y="2.4" width="0.8" height="0.8"/><rect x="25.3" y="96.6" width="0.8" height="0.8"/><rect x="25.1" y="97.3" width="0.8" height="0.8"/><rect x="31.6" y="48.6" width="0.8" height="0.8"/><rect x="24.4" y="97.5" width="0.8" height="0.8"/><rect x="46.3" y="75.9" width="0.8" height="0.8"/><rect x="49.8" y="83.6" width="0.8" height="0.8"/><rect x="49.4" y="52.8" width="0.8" height="0.8"/><rect x="48.3" y="16.4" width="0.8" height="0.8"/><rect x="41.3" y="40.4" width="0.8" height="0.8"/><rect x="54.0" y="46.8" width="0.8" height="0.8"/><rect x="47.0" y="79.7" width="0.8" height="0.8"/><rect x="40.9" y="78.7" width="0.8" height="0.8"/><rect x="38.8" y="17.5" width="0.8" height="0.8"/><rect x="43.2" y="51.9" width="0.8" height="0.8"/><rect x="57.1" y="36.9" width="0.8" height="0.8"/><rect x="62.5" y="57.0" width="0.8" height="0.8"/><rect x="39.1" y="10.6" width="0.8" height="0.8"/><rect x="48.8" y="45.0" width="0.8" height="0.8"/><rect x="37.5" y="20.1" width="0.8" height="0.8"/><rect x="37.3" y="2.2" width="0.8" height="0.8"/><rect x="56.6" y="46.5" width="0.8" height="0.8"/><rect x="45.4" y="60.1" width="0.8" height="0.8"/><rect x="31.9" y="13.6" width="0.8" height="0.8"/><rect x="53.2" y="51.7" width="0.8" height="0.8"/><rect x="38.7" y="33.8" width="0.8" height="0.8"/><rect x="40.0" y="57.4" width="0.8" height="0.8"/><rect x="48.9" y="37.1" width="0.8" height="0.8"/><rect x="44.9" y="61.2" width="0.8" height="0.8"/><rect x="42.3" y="57.3" width="0.8" height="0.8"/><rect x="44.2" y="29.8" width="0.8" height="0.8"/><rect x="43.2" y="83.3" width="0.8" height="0.8"/><rect x="46.2" y="35.8" width="0.8" height="0.8"/><rect x="41.7" y="77.2" width="0.8" height="0.8"/><rect x="50.8" y="14.8" width="0.8" height="0.8"/><rect x="38.9" y="27.2" width="0.8" height="0.8"/><rect x="35.8" y="19.3" width="0.8" height="0.8"/><rect x="49.1" y="28.2" width="0.8" height="0.8"/><rect x="42.4" y="23.4" width="0.8" height="0.8"/><rect x="46.3" y="56.7" width="0.8" height="0.8"/><rect x="36.3" y="54.9" width="0.8" height="0.8"/><rect x="33.7" y="31.1" width="0.8" height="0.8"/><rect x="36.0" y="57.9" width="0.8" height="0.8"/><rect x="40.3" y="15.5" width="0.8" height="0.8"/><rect x="41.7" y="8.2" width="0.8" height="0.8"/><rect x="33.5" y="4.8" width="0.8" height="0.8"/><rect x="41.6" y="4.0" width="0.8" height="0.8"/><rect x="34.2" y="28.8" width="0.8" height="0.8"/><rect x="50.1" y="38.2" width="0.8" height="0.8"/><rect x="54.3" y="69.3" width="0.8" height="0.8"/><rect x="56.0" y="48.5" width="0.8" height="0.8"/><rect x="44.7" y="60.8" width="0.8" height="0.8"/><rect x="42.3" y="20.1" width="0.8" height="0.8"/><rect x="57.7" y="78.1" width="0.8" height="0.8"/></g>
<g fill="none" stroke="#d21e96" stroke-width="0.55" stroke-linejoin="round">
<path d="M18.8,2.8 19.8,2.4 20.8,2.5 21.5,2.8 22.3,3.2 22.8,3.5 23.3,3.8 24.3,4.0 25.1,4.2 25.8,4.7 26.3,5.2 26.8,5.6 27.3,6.1 27.8,6.6 28.3,7.2 28.5,7.8 28.8,8.4 29.3,9.1 29.7,9.8 30.0,10.2 30.1,11.2 30.2,12.2 30.3,12.8 30.8,13.7 31.1,14.2 31.2,15.2 31.0,16.2 30.9,17.2 30.9,18.2 30.9,19.2 30.9,20.2 31.1,21.2 31.3,22.1 31.4,22.8 31.3,23.3 31.1,24.2 30.9,25.2 30.9,26.2 31.1,27.2 31.3,28.2 31.3,29.2 31.2,30.2 31.2,31.2 31.3,32.2 31.3,33.2 31.4,33.8 31.3,34.8 31.3,35.2 31.1,36.2 31.1,37.2 31.2,38.2 31.2,39.2 31.3,40.2 31.3,41.2 31.2,42.2 31.1,43.2 30.9,44.2 30.9,45.2 30.9,46.2 31.0,47.2 31.1,48.2 31.2,49.2 31.2,50.2 31.0,51.2 30.9,52.2 30.9,53.2 31.1,54.2 31.3,55.2 31.3,56.2 31.2,57.2 31.1,58.2 31.2,59.2 31.3,60.2 31.4,60.8 31.5,61.8 31.6,62.8 31.6,63.7 31.7,64.8 31.7,65.8 31.8,66.8 31.8,67.7 31.9,68.2 32.0,69.2 32.2,70.2 32.3,71.2 32.3,72.2 32.3,72.8 32.3,73.5 32.3,74.3 32.1,75.2 31.9,76.2 31.9,77.2 32.0,78.2 31.9,79.2 31.7,79.8 31.5,80.8 31.4,81.8 31.3,82.2 31.2,83.2 30.9,84.2 30.8,84.8 30.6,85.8 30.5,86.8 30.5,87.8 30.4,88.8 30.3,89.8 30.3,90.2 30.0,91.2 29.7,91.8 29.3,92.4 28.8,93.0 28.3,93.5 27.8,93.9 27.3,94.4 26.8,94.9 26.3,95.5 25.8,96.0 25.3,96.4 24.7,96.7 23.8,97.0 22.8,96.9 22.3,96.8 21.3,96.3 20.8,96.0 20.3,95.7 19.8,95.2 19.3,94.6 18.8,93.8 18.7,93.2 18.7,92.2 18.8,91.2 18.6,90.2 18.3,89.6 17.9,88.8 17.8,88.2 17.5,87.2 17.4,86.2 17.4,85.2 17.4,84.3 17.3,83.5 17.2,82.8 17.0,81.8 16.8,80.9 16.6,80.2 16.4,79.2 16.3,78.7 16.0,77.8 15.8,76.9 15.7,76.2 15.7,75.2 15.6,74.2 15.6,73.2 15.7,72.2 15.8,71.8 15.9,70.8 16.0,69.8 16.0,68.8 16.2,67.8 16.3,67.2 16.5,66.2 16.4,65.2 16.3,64.6 16.2,63.8 16.1,62.8 15.9,61.8 15.9,60.8 16.2,59.8 16.3,59.2 16.6,58.2 16.8,57.8 17.2,56.8 17.4,56.2 17.7,55.2 17.8,54.8 18.0,53.8 18.2,52.8 18.3,51.8 18.3,51.2 18.4,50.2 18.5,49.2 18.4,48.2 18.3,47.8 17.9,46.8 17.8,46.2 17.7,45.2 17.7,44.2 17.6,43.2 17.3,42.3 17.0,41.8 16.8,41.2 16.3,40.2 16.1,39.8 15.9,38.8 15.8,37.9 15.7,37.2 15.6,36.2 15.6,35.2 15.6,34.2 15.5,33.2 15.3,32.2 15.2,31.8 15.3,30.8 15.3,30.2 15.4,29.2 15.3,28.5 15.1,27.8 14.9,26.8 15.0,25.8 15.1,24.8 15.2,23.8 15.3,22.8 15.3,22.2 15.5,21.2 15.7,20.2 15.8,19.8 16.0,18.8 16.2,17.8 16.3,16.8 16.3,16.2 16.3,15.5 16.2,14.8 15.9,13.8 15.8,13.2 15.8,12.2 15.9,11.8 16.3,10.8 16.6,10.2 16.9,9.8 17.3,8.9 17.5,8.2 17.7,7.2 17.9,6.7 18.0,5.8 18.1,4.8 18.2,3.8 18.4,3.2 18.8,2.8Z" fill="rgba(200,22,150,0.12)" opacity="0.7"/>
<path d="M20.0,6.8 20.8,6.3 21.8,6.5 22.4,6.8 23.2,7.2 23.8,7.7 24.3,8.2 24.8,8.8 25.2,9.2 25.6,9.8 26.2,10.2 26.6,10.8 26.9,11.2 27.2,12.2 27.3,13.2 27.4,13.8 27.7,14.8 27.9,15.2 28.3,16.2 28.5,16.8 28.8,17.8 28.9,18.2 29.0,19.2 29.1,20.2 29.1,21.2 29.2,22.2 29.3,23.2 29.3,24.2 29.3,25.2 29.3,25.8 29.5,26.8 29.6,27.8 29.7,28.8 29.8,29.7 29.8,30.8 29.8,31.3 29.9,32.2 29.8,33.2 29.8,33.8 29.6,34.8 29.5,35.8 29.5,36.8 29.6,37.8 29.8,38.8 29.8,39.3 29.9,40.2 30.0,41.2 29.9,42.2 29.8,43.2 29.8,43.8 29.8,44.8 29.8,45.8 29.8,46.8 29.8,47.8 29.8,48.2 29.9,49.2 29.9,50.2 29.9,51.2 29.8,52.2 29.9,53.2 30.0,54.2 30.1,55.2 30.1,56.2 30.1,57.2 30.1,58.2 30.1,59.2 30.2,60.2 30.2,61.2 30.3,62.2 30.2,63.2 30.2,64.2 30.2,65.2 30.2,66.2 30.3,67.2 30.3,68.2 30.3,68.8 30.5,69.8 30.6,70.8 30.8,71.8 30.8,72.7 30.7,73.8 30.4,74.8 30.3,75.2 30.2,76.2 30.1,77.2 30.0,78.2 29.8,78.9 29.6,79.8 29.4,80.8 29.4,81.8 29.3,82.2 29.2,83.2 29.1,84.2 28.9,85.2 28.7,85.8 28.5,86.8 28.3,87.3 28.1,88.2 28.0,89.2 27.8,89.9 27.5,90.8 27.2,91.2 26.8,91.8 26.0,92.2 25.3,92.6 24.8,92.9 23.9,93.2 23.7,93.2 23.0,92.8 22.7,92.2 22.4,91.2 22.1,90.8 21.7,90.2 21.1,89.8 20.6,89.2 20.2,88.8 19.8,88.0 19.7,87.2 19.6,86.2 19.5,85.2 19.4,84.2 19.3,83.7 19.2,82.8 19.0,81.8 18.8,81.2 18.4,80.2 18.2,79.8 18.0,78.8 18.0,77.8 18.0,76.8 17.9,75.8 17.9,74.8 17.8,73.8 17.9,72.8 18.0,71.8 18.1,70.8 18.1,69.8 18.2,68.8 18.3,68.1 18.4,67.2 18.5,66.2 18.4,65.2 18.4,64.2 18.5,63.2 18.7,62.2 18.8,61.7 19.0,60.8 19.3,59.9 19.5,59.2 19.7,58.2 19.9,57.8 20.3,56.8 20.4,56.2 20.4,55.2 20.3,54.2 20.4,53.2 20.6,52.2 20.8,51.2 20.9,50.8 21.2,49.8 21.4,49.2 21.6,48.2 21.5,47.2 21.3,46.6 20.8,45.8 20.4,45.2 20.2,44.8 19.9,43.8 19.8,43.2 19.4,42.2 19.1,41.8 18.8,41.2 18.3,40.2 18.1,39.8 17.8,38.8 17.8,38.2 17.8,37.2 17.8,36.2 17.7,35.2 17.6,34.2 17.5,33.2 17.4,32.2 17.3,31.2 17.3,30.2 17.3,29.2 17.3,28.8 17.0,27.8 16.8,26.8 16.8,26.2 16.8,25.8 16.9,24.8 16.9,23.8 16.9,22.8 17.0,21.8 17.3,20.8 17.4,20.3 17.6,19.2 17.7,18.2 17.8,17.7 17.9,16.8 18.0,15.8 18.0,14.8 18.0,13.8 17.9,12.8 18.0,11.8 18.3,11.0 18.6,10.2 18.9,9.8 19.2,8.8 19.3,8.2 19.7,7.2 20.0,6.8Z" fill="rgba(200,22,150,0.14)" opacity="0.95"/>
<path d="M20.7,10.8 21.3,10.3 22.3,10.5 22.8,10.9 23.3,11.5 23.8,12.0 24.3,12.6 24.7,13.2 25.0,13.8 25.3,14.7 25.5,15.2 25.8,16.2 25.9,16.8 26.2,17.8 26.3,18.2 26.7,19.2 27.0,19.8 27.3,20.8 27.4,21.2 27.4,22.2 27.5,23.2 27.6,24.2 27.7,25.2 27.8,26.3 27.8,26.8 27.9,27.8 28.0,28.8 28.2,29.8 28.3,30.6 28.4,31.2 28.5,32.2 28.4,33.2 28.3,33.8 28.1,34.8 28.1,35.8 28.1,36.8 28.2,37.8 28.3,38.8 28.3,39.2 28.5,40.2 28.6,41.2 28.7,42.2 28.6,43.2 28.7,44.2 28.7,45.2 28.7,46.2 28.7,47.2 28.8,48.2 28.8,49.2 28.8,49.8 28.9,50.8 28.9,51.8 28.9,52.8 29.0,53.8 29.1,54.8 29.1,55.8 29.2,56.8 29.2,57.8 29.2,58.8 29.2,59.8 29.2,60.8 29.3,61.8 29.3,62.8 29.2,63.8 29.1,64.8 29.1,65.8 29.1,66.8 29.2,67.8 29.2,68.8 29.2,69.8 29.1,70.8 29.1,71.8 29.0,72.8 29.0,73.8 28.9,74.8 28.8,75.2 28.6,76.2 28.5,77.2 28.4,78.2 28.3,78.8 28.1,79.8 28.0,80.8 27.8,81.8 27.8,82.2 27.6,83.2 27.3,84.1 27.0,84.8 26.8,85.2 26.3,85.8 25.8,86.4 25.3,86.8 24.3,87.2 23.3,86.8 22.8,86.4 22.4,85.8 22.1,85.2 21.8,84.5 21.5,83.8 21.3,82.8 21.2,82.2 21.0,81.2 20.8,80.7 20.5,79.8 20.4,78.8 20.3,77.8 20.2,77.2 20.0,76.2 19.8,75.5 19.7,74.8 19.7,73.8 19.8,72.8 19.9,72.2 20.0,71.2 20.1,70.2 20.1,69.2 20.3,68.4 20.4,67.8 20.5,66.8 20.4,65.8 20.4,64.8 20.4,63.8 20.5,62.8 20.7,61.8 20.8,61.2 21.2,60.2 21.4,59.8 21.8,59.1 22.3,58.4 22.7,57.8 22.8,57.2 22.9,56.2 22.8,55.2 22.8,54.8 22.8,53.8 22.8,53.2 23.0,52.2 23.2,51.2 23.4,50.8 23.6,49.8 23.7,48.8 23.6,47.8 23.3,46.8 23.1,46.2 22.8,45.3 22.6,44.8 22.3,43.9 22.0,43.2 21.8,42.8 21.3,41.8 21.0,41.2 20.7,40.8 20.3,39.9 20.1,39.2 20.1,38.2 20.1,37.2 20.0,36.2 19.8,35.4 19.6,34.8 19.4,33.8 19.3,33.2 19.1,32.2 18.9,31.2 18.9,30.2 18.8,29.3 18.7,28.8 18.5,27.8 18.4,26.8 18.4,25.8 18.5,24.8 18.5,23.8 18.5,22.8 18.7,21.8 18.8,20.9 18.9,20.2 19.0,19.2 19.0,18.2 19.1,17.2 19.3,16.2 19.3,15.8 19.4,14.8 19.6,13.8 19.8,12.8 19.9,12.2 20.3,11.3 20.7,10.8Z" fill="rgba(200,22,150,0.2)" opacity="0.95"/>
<path d="M21.7,14.8 22.2,14.8 22.8,15.2 23.2,15.8 23.4,16.2 23.8,17.1 24.0,17.8 24.3,18.4 24.7,19.2 25.0,19.8 25.3,20.3 25.7,21.3 25.8,22.0 25.9,22.8 26.0,23.8 26.1,24.8 26.2,25.8 26.3,26.8 26.3,27.2 26.4,28.2 26.6,29.2 26.8,30.2 26.9,30.8 27.0,31.8 27.0,32.8 26.8,33.5 26.7,34.2 26.6,35.2 26.7,36.2 26.7,37.2 26.7,38.2 26.6,39.2 26.6,40.2 26.7,41.2 26.8,42.0 27.0,42.8 27.1,43.8 27.2,44.8 27.2,45.8 27.3,46.4 27.4,47.2 27.5,48.2 27.6,49.2 27.8,50.2 27.9,50.8 27.9,51.8 28.0,52.8 28.0,53.8 28.1,54.8 28.2,55.8 28.2,56.8 28.3,57.8 28.3,58.8 28.3,59.2 28.3,60.2 28.3,61.2 28.3,62.2 28.3,62.8 28.2,63.8 28.2,64.8 28.2,65.8 28.2,66.8 28.2,67.8 28.1,68.8 28.1,69.8 27.9,70.8 27.8,71.5 27.8,72.2 27.7,73.2 27.6,74.2 27.5,75.2 27.3,76.2 27.2,76.8 27.1,77.8 26.9,78.8 26.8,79.2 26.5,80.2 26.3,81.2 26.2,81.8 25.8,82.8 25.5,83.2 24.8,83.6 24.0,83.2 23.6,82.8 23.3,81.9 23.2,81.2 23.0,80.2 22.8,79.6 22.6,78.8 22.4,77.8 22.3,77.2 22.0,76.2 21.8,75.6 21.7,74.8 21.7,73.8 21.7,72.8 21.7,71.8 21.8,70.8 21.9,70.2 22.0,69.2 22.2,68.2 22.3,67.3 22.3,66.8 22.3,66.2 22.3,65.2 22.3,64.8 22.4,63.8 22.5,62.8 22.6,61.8 22.8,61.1 23.1,60.2 23.4,59.8 23.8,58.9 24.1,58.2 24.3,57.2 24.3,56.8 24.3,55.8 24.3,55.2 24.3,54.2 24.3,53.8 24.5,52.7 24.6,51.8 24.8,50.8 24.9,50.2 25.0,49.2 25.1,48.2 25.1,47.2 24.9,46.3 24.8,45.8 24.5,44.8 24.3,44.0 24.1,43.2 23.8,42.6 23.4,41.8 23.1,41.2 22.8,40.6 22.4,39.8 22.3,39.2 22.2,38.2 22.1,37.2 21.9,36.2 21.8,35.8 21.4,34.8 21.2,34.2 20.9,33.2 20.8,32.8 20.6,31.8 20.5,30.8 20.3,29.8 20.2,29.2 20.0,28.2 19.8,27.2 19.8,26.8 19.8,26.0 19.9,25.2 19.9,24.2 20.0,23.2 20.0,22.2 20.1,21.2 20.3,20.2 20.3,19.2 20.3,18.8 20.4,17.8 20.6,16.8 20.8,15.9 21.1,15.2 21.7,14.8Z" fill="rgba(205,24,152,0.35)" opacity="0.95"/>
<path d="M22.1,21.2 22.8,20.9 23.3,21.2 23.8,21.9 24.2,22.8 24.4,23.2 24.7,24.2 24.8,25.3 24.9,25.8 25.0,26.8 25.1,27.8 25.3,28.8 25.4,29.2 25.6,30.2 25.7,31.2 25.7,32.2 25.5,33.2 25.3,33.9 25.0,34.8 24.7,35.2 23.8,35.5 23.3,35.0 22.8,34.3 22.5,33.8 22.2,33.2 21.9,32.2 21.8,31.3 21.7,30.8 21.6,29.8 21.4,28.8 21.3,28.2 21.1,27.2 21.1,26.2 21.2,25.2 21.3,24.2 21.3,23.8 21.5,22.8 21.8,21.8 22.1,21.2ZM26.1,54.8 26.5,54.8 26.8,55.8 26.8,56.2 26.9,57.2 27.1,58.2 27.3,59.2 27.4,59.8 27.4,60.8 27.4,61.8 27.4,62.8 27.3,63.5 27.3,64.2 27.3,65.2 27.3,66.2 27.3,67.2 27.2,68.2 27.1,69.2 26.9,70.2 26.8,70.8 26.6,71.8 26.5,72.8 26.4,73.8 26.3,74.4 26.1,75.2 25.8,76.2 25.6,76.8 25.3,77.7 24.8,77.9 24.3,77.4 24.1,76.8 23.9,75.8 23.7,75.2 23.5,74.2 23.4,73.2 23.3,72.5 23.3,71.8 23.3,70.8 23.3,70.2 23.4,69.2 23.5,68.2 23.6,67.2 23.6,66.2 23.6,65.2 23.6,64.2 23.7,63.2 23.8,62.5 23.9,61.8 24.2,60.8 24.5,60.3 24.8,59.5 25.2,58.8 25.5,58.2 25.8,57.2 25.9,56.8 25.9,55.8 26.1,54.8Z" fill="rgba(220,34,165,0.5)" opacity="0.95"/>
</g></g>
<rect x="71.9" y="399.59999999999997" width="19.2" height="46.6" fill="none" stroke="#2bdca2" stroke-width="2.4" />
<rect x="71.9" y="449.09999999999997" width="19.5" height="44.4" fill="none" stroke="#e8180f" stroke-width="2.4" />
<text x="101.7" y="425.59999999999997" font-size="8.8" font-weight="bold" font-style="normal" text-anchor="start" fill="#2bdca2" textLength="17" lengthAdjust="spacingAndGlyphs" stroke="#2bdca2" stroke-width="0.35">40.4</text>
<text x="101.7" y="477.9" font-size="8.8" font-weight="bold" font-style="normal" text-anchor="start" fill="#e8180f" textLength="17" lengthAdjust="spacingAndGlyphs" stroke="#e8180f" stroke-width="0.35">58.1</text>
<g fill="#000"><rect x="62.06" y="496.7" width="1" height="2.9"/><rect x="65.02" y="496.7" width="1" height="2.9"/><rect x="67.97" y="496.7" width="1" height="2.9"/><rect x="70.93" y="496.7" width="1" height="2.9"/><rect x="73.89" y="496.7" width="1" height="5.0"/><rect x="76.85" y="496.7" width="1" height="2.9"/><rect x="79.80" y="496.7" width="1" height="2.9"/><rect x="82.76" y="496.7" width="1" height="2.9"/><rect x="85.72" y="496.7" width="1" height="2.9"/><rect x="88.68" y="496.7" width="1" height="5.0"/><rect x="91.63" y="496.7" width="1" height="2.9"/><rect x="94.59" y="496.7" width="1" height="2.9"/><rect x="97.55" y="496.7" width="1" height="2.9"/><rect x="100.51" y="496.7" width="1" height="2.9"/><rect x="103.46" y="496.7" width="1" height="5.0"/><rect x="106.42" y="496.7" width="1" height="2.9"/><rect x="109.38" y="496.7" width="1" height="2.9"/><rect x="112.34" y="496.7" width="1" height="2.9"/><rect x="115.29" y="496.7" width="1" height="2.9"/><rect x="118.25" y="496.7" width="1" height="5.0"/><rect x="121.21" y="496.7" width="1" height="2.9"/><rect x="124.17" y="496.7" width="1" height="2.9"/><rect x="127.12" y="496.7" width="1" height="2.9"/><rect x="130.08" y="496.7" width="1" height="2.9"/><rect x="133.04" y="496.7" width="1" height="5.0"/><rect x="136.00" y="496.7" width="1" height="2.9"/><rect x="56.80" y="492.41" width="2.4" height="1"/><rect x="56.80" y="488.62" width="2.4" height="1"/><rect x="56.80" y="484.83" width="2.4" height="1"/><rect x="56.80" y="481.04" width="2.4" height="1"/><rect x="54.80" y="477.25" width="4.4" height="1"/><rect x="56.80" y="473.46" width="2.4" height="1"/><rect x="56.80" y="469.67" width="2.4" height="1"/><rect x="56.80" y="465.88" width="2.4" height="1"/><rect x="56.80" y="462.09" width="2.4" height="1"/><rect x="54.80" y="458.30" width="4.4" height="1"/><rect x="56.80" y="454.51" width="2.4" height="1"/><rect x="56.80" y="450.72" width="2.4" height="1"/><rect x="56.80" y="446.93" width="2.4" height="1"/><rect x="56.80" y="443.14" width="2.4" height="1"/><rect x="54.80" y="439.35" width="4.4" height="1"/><rect x="56.80" y="435.56" width="2.4" height="1"/><rect x="56.80" y="431.77" width="2.4" height="1"/><rect x="56.80" y="427.98" width="2.4" height="1"/><rect x="56.80" y="424.19" width="2.4" height="1"/><rect x="54.80" y="420.40" width="4.4" height="1"/><rect x="56.80" y="416.61" width="2.4" height="1"/><rect x="56.80" y="412.82" width="2.4" height="1"/><rect x="56.80" y="409.03" width="2.4" height="1"/><rect x="56.80" y="405.24" width="2.4" height="1"/><rect x="54.80" y="401.45" width="4.4" height="1"/></g>
<text x="74.4" y="507.9" font-size="5.6" font-weight="normal" font-style="normal" text-anchor="middle" fill="#2a2a2a" stroke="#2a2a2a" stroke-width="0.15">50</text>
<text transform="translate(53.9,477.8) rotate(-90)" font-size="5.6" text-anchor="middle" fill="#2a2a2a" stroke="#2a2a2a" stroke-width="0.15">50</text>
<text x="89.2" y="507.9" font-size="5.6" font-weight="normal" font-style="normal" text-anchor="middle" fill="#2a2a2a" stroke="#2a2a2a" stroke-width="0.15">100</text>
<text transform="translate(53.9,458.8) rotate(-90)" font-size="5.6" text-anchor="middle" fill="#2a2a2a" stroke="#2a2a2a" stroke-width="0.15">100</text>
<text x="104.0" y="507.9" font-size="5.6" font-weight="normal" font-style="normal" text-anchor="middle" fill="#2a2a2a" stroke="#2a2a2a" stroke-width="0.15">150</text>
<text transform="translate(53.9,439.8) rotate(-90)" font-size="5.6" text-anchor="middle" fill="#2a2a2a" stroke="#2a2a2a" stroke-width="0.15">150</text>
<text x="118.8" y="507.9" font-size="5.6" font-weight="normal" font-style="normal" text-anchor="middle" fill="#2a2a2a" stroke="#2a2a2a" stroke-width="0.15">200</text>
<text transform="translate(53.9,420.9) rotate(-90)" font-size="5.6" text-anchor="middle" fill="#2a2a2a" stroke="#2a2a2a" stroke-width="0.15">200</text>
<text x="133.5" y="507.9" font-size="5.6" font-weight="normal" font-style="normal" text-anchor="middle" fill="#2a2a2a" stroke="#2a2a2a" stroke-width="0.15">250</text>
<text transform="translate(53.9,401.9) rotate(-90)" font-size="5.6" text-anchor="middle" fill="#2a2a2a" stroke="#2a2a2a" stroke-width="0.15">250</text>
<text x="82.5" y="516.9" font-size="7.2" fill="#2a2a2a" textLength="33.0" lengthAdjust="spacingAndGlyphs" stroke="#2a2a2a" stroke-width="0.15">HO Blue-A</text>
<text x="115.8" y="514.7" font-size="5" fill="#2a2a2a" textLength="21.6" lengthAdjust="spacingAndGlyphs" stroke="#2a2a2a" stroke-width="0.15">(x 1,000)</text>
<text transform="translate(46.9,447.0) rotate(-90)" font-size="7.2" text-anchor="middle" fill="#2a2a2a" textLength="15.5" lengthAdjust="spacingAndGlyphs" stroke="#2a2a2a" stroke-width="0.15">PY-A</text>
<text transform="translate(46.6,410.0) rotate(-90)" font-size="5" text-anchor="middle" fill="#2a2a2a" textLength="22.5" lengthAdjust="spacingAndGlyphs" stroke="#2a2a2a" stroke-width="0.15">(x 1,000)</text>
<rect x="163.7" y="385.5" width="106.6" height="137.0" fill="#fff" stroke="#777" stroke-width="1.1" />
<rect x="188.3" y="398.5" width="78.0" height="98.4" fill="#000" stroke="none" stroke-width="0" />
<g transform="translate(188.3,398.5) scale(0.9787,1)">
<g fill="#d21e96" opacity="0.45"><rect x="24.2" y="91.4" width="0.8" height="0.8"/><rect x="19.1" y="50.4" width="0.8" height="0.8"/><rect x="21.3" y="53.0" width="0.8" height="0.8"/><rect x="18.5" y="79.3" width="0.8" height="0.8"/><rect x="20.3" y="94.4" width="0.8" height="0.8"/><rect x="28.3" y="86.1" width="0.8" height="0.8"/><rect x="22.1" y="88.8" width="0.8" height="0.8"/><rect x="28.2" y="51.4" width="0.8" height="0.8"/><rect x="17.0" y="72.8" width="0.8" height="0.8"/><rect x="24.8" y="97.2" width="0.8" height="0.8"/><rect x="31.0" y="89.8" width="0.8" height="0.8"/><rect x="20.7" y="86.1" width="0.8" height="0.8"/><rect x="22.5" y="51.5" width="0.8" height="0.8"/><rect x="28.6" y="84.7" width="0.8" height="0.8"/><rect x="23.9" y="46.3" width="0.8" height="0.8"/><rect x="27.0" y="49.4" width="0.8" height="0.8"/><rect x="24.9" y="48.6" width="0.8" height="0.8"/><rect x="26.3" y="48.4" width="0.8" height="0.8"/><rect x="25.9" y="90.0" width="0.8" height="0.8"/><rect x="19.5" y="82.0" width="0.8" height="0.8"/><rect x="19.2" y="58.2" width="0.8" height="0.8"/><rect x="17.9" y="74.7" width="0.8" height="0.8"/><rect x="28.3" y="91.9" width="0.8" height="0.8"/><rect x="25.2" y="92.6" width="0.8" height="0.8"/><rect x="25.4" y="91.2" width="0.8" height="0.8"/><rect x="25.1" y="91.6" width="0.8" height="0.8"/><rect x="21.6" y="51.1" width="0.8" height="0.8"/><rect x="28.9" y="47.5" width="0.8" height="0.8"/><rect x="26.1" y="49.8" width="0.8" height="0.8"/><rect x="29.6" y="85.8" width="0.8" height="0.8"/><rect x="25.0" y="47.3" width="0.8" height="0.8"/><rect x="18.0" y="74.9" width="0.8" height="0.8"/><rect x="24.2" y="46.6" width="0.8" height="0.8"/><rect x="21.4" y="53.6" width="0.8" height="0.8"/><rect x="20.4" y="83.5" width="0.8" height="0.8"/><rect x="21.1" y="95.5" width="0.8" height="0.8"/><rect x="30.6" y="59.8" width="0.8" height="0.8"/><rect x="28.2" y="87.6" width="0.8" height="0.8"/><rect x="25.8" y="92.5" width="0.8" height="0.8"/><rect x="19.6" y="82.2" width="0.8" height="0.8"/><rect x="28.4" y="49.8" width="0.8" height="0.8"/><rect x="25.8" y="90.3" width="0.8" height="0.8"/><rect x="26.9" y="48.8" width="0.8" height="0.8"/><rect x="20.2" y="56.8" width="0.8" height="0.8"/><rect x="28.6" y="50.2" width="0.8" height="0.8"/><rect x="22.8" y="50.2" width="0.8" height="0.8"/><rect x="19.9" y="84.9" width="0.8" height="0.8"/><rect x="21.6" y="95.0" width="0.8" height="0.8"/><rect x="26.2" y="93.4" width="0.8" height="0.8"/><rect x="25.9" y="48.0" width="0.8" height="0.8"/><rect x="28.5" y="85.3" width="0.8" height="0.8"/><rect x="31.2" y="58.3" width="0.8" height="0.8"/><rect x="29.3" y="82.1" width="0.8" height="0.8"/><rect x="24.1" y="93.5" width="0.8" height="0.8"/><rect x="22.6" y="46.9" width="0.8" height="0.8"/><rect x="17.4" y="63.9" width="0.8" height="0.8"/><rect x="28.8" y="86.1" width="0.8" height="0.8"/><rect x="30.8" y="76.7" width="0.8" height="0.8"/><rect x="26.6" y="91.2" width="0.8" height="0.8"/><rect x="21.8" y="45.5" width="0.8" height="0.8"/><rect x="21.6" y="49.3" width="0.8" height="0.8"/><rect x="27.6" y="48.9" width="0.8" height="0.8"/><rect x="28.7" y="85.3" width="0.8" height="0.8"/><rect x="23.0" y="49.8" width="0.8" height="0.8"/><rect x="20.2" y="54.5" width="0.8" height="0.8"/><rect x="31.6" y="71.0" width="0.8" height="0.8"/><rect x="29.3" y="57.6" width="0.8" height="0.8"/><rect x="26.3" y="47.2" width="0.8" height="0.8"/><rect x="22.6" y="90.2" width="0.8" height="0.8"/><rect x="30.3" y="78.4" width="0.8" height="0.8"/><rect x="23.3" y="91.8" width="0.8" height="0.8"/><rect x="19.0" y="68.6" width="0.8" height="0.8"/><rect x="31.1" y="70.4" width="0.8" height="0.8"/><rect x="22.0" y="93.9" width="0.8" height="0.8"/><rect x="30.3" y="77.1" width="0.8" height="0.8"/><rect x="24.7" y="93.4" width="0.8" height="0.8"/><rect x="21.9" y="89.8" width="0.8" height="0.8"/><rect x="19.5" y="51.3" width="0.8" height="0.8"/><rect x="19.8" y="50.7" width="0.8" height="0.8"/><rect x="29.7" y="59.8" width="0.8" height="0.8"/><rect x="29.0" y="55.8" width="0.8" height="0.8"/><rect x="29.0" y="58.2" width="0.8" height="0.8"/><rect x="26.5" y="49.9" width="0.8" height="0.8"/><rect x="21.6" y="92.0" width="0.8" height="0.8"/><rect x="22.5" y="95.2" width="0.8" height="0.8"/><rect x="21.2" y="91.9" width="0.8" height="0.8"/><rect x="28.8" y="54.0" width="0.8" height="0.8"/><rect x="26.9" y="48.0" width="0.8" height="0.8"/><rect x="23.1" y="91.5" width="0.8" height="0.8"/><rect x="24.1" y="90.5" width="0.8" height="0.8"/><rect x="23.6" y="93.3" width="0.8" height="0.8"/><rect x="22.0" y="89.5" width="0.8" height="0.8"/><rect x="30.0" y="54.5" width="0.8" height="0.8"/><rect x="20.5" y="52.7" width="0.8" height="0.8"/><rect x="24.9" y="48.9" width="0.8" height="0.8"/><rect x="29.8" y="88.1" width="0.8" height="0.8"/><rect x="20.0" y="52.0" width="0.8" height="0.8"/><rect x="20.1" y="51.9" width="0.8" height="0.8"/><rect x="25.6" y="90.4" width="0.8" height="0.8"/><rect x="26.5" y="89.1" width="0.8" height="0.8"/><rect x="23.5" y="89.6" width="0.8" height="0.8"/><rect x="21.6" y="88.1" width="0.8" height="0.8"/><rect x="18.8" y="69.2" width="0.8" height="0.8"/><rect x="20.0" y="54.0" width="0.8" height="0.8"/><rect x="25.5" y="90.1" width="0.8" height="0.8"/><rect x="23.3" y="48.6" width="0.8" height="0.8"/><rect x="27.9" y="97.6" width="0.8" height="0.8"/><rect x="22.0" y="51.2" width="0.8" height="0.8"/><rect x="22.7" y="48.9" width="0.8" height="0.8"/><rect x="25.1" y="91.7" width="0.8" height="0.8"/><rect x="26.3" y="47.7" width="0.8" height="0.8"/><rect x="27.8" y="52.2" width="0.8" height="0.8"/><rect x="20.6" y="95.5" width="0.8" height="0.8"/><rect x="31.1" y="66.5" width="0.8" height="0.8"/><rect x="29.7" y="83.0" width="0.8" height="0.8"/><rect x="23.4" y="95.6" width="0.8" height="0.8"/><rect x="20.4" y="53.4" width="0.8" height="0.8"/><rect x="19.3" y="82.6" width="0.8" height="0.8"/><rect x="28.0" y="53.1" width="0.8" height="0.8"/><rect x="25.7" y="92.8" width="0.8" height="0.8"/><rect x="19.0" y="56.4" width="0.8" height="0.8"/><rect x="24.4" y="90.3" width="0.8" height="0.8"/><rect x="27.5" y="52.0" width="0.8" height="0.8"/><rect x="22.9" y="92.6" width="0.8" height="0.8"/><rect x="26.9" y="48.2" width="0.8" height="0.8"/><rect x="23.1" y="46.7" width="0.8" height="0.8"/><rect x="18.8" y="66.5" width="0.8" height="0.8"/><rect x="28.3" y="89.3" width="0.8" height="0.8"/><rect x="29.3" y="88.4" width="0.8" height="0.8"/><rect x="20.9" y="42.7" width="0.8" height="0.8"/><rect x="19.6" y="91.3" width="0.8" height="0.8"/><rect x="19.5" y="88.9" width="0.8" height="0.8"/><rect x="18.4" y="67.6" width="0.8" height="0.8"/><rect x="25.0" y="49.1" width="0.8" height="0.8"/><rect x="19.4" y="82.5" width="0.8" height="0.8"/><rect x="22.6" y="89.7" width="0.8" height="0.8"/><rect x="28.1" y="48.8" width="0.8" height="0.8"/><rect x="22.6" y="90.3" width="0.8" height="0.8"/><rect x="26.7" y="91.3" width="0.8" height="0.8"/><rect x="29.3" y="83.8" width="0.8" height="0.8"/><rect x="20.8" y="94.2" width="0.8" height="0.8"/><rect x="27.2" y="89.4" width="0.8" height="0.8"/><rect x="24.8" y="90.5" width="0.8" height="0.8"/><rect x="25.2" y="92.8" width="0.8" height="0.8"/><rect x="23.8" y="91.2" width="0.8" height="0.8"/><rect x="27.7" y="88.1" width="0.8" height="0.8"/><rect x="23.5" y="46.9" width="0.8" height="0.8"/><rect x="27.0" y="92.1" width="0.8" height="0.8"/><rect x="29.6" y="59.2" width="0.8" height="0.8"/><rect x="23.7" y="90.4" width="0.8" height="0.8"/><rect x="28.6" y="55.0" width="0.8" height="0.8"/><rect x="28.4" y="53.3" width="0.8" height="0.8"/><rect x="26.1" y="89.9" width="0.8" height="0.8"/><rect x="29.0" y="55.7" width="0.8" height="0.8"/><rect x="21.1" y="92.2" width="0.8" height="0.8"/><rect x="20.9" y="87.1" width="0.8" height="0.8"/><rect x="28.0" y="50.2" width="0.8" height="0.8"/><rect x="30.6" y="71.2" width="0.8" height="0.8"/><rect x="22.6" y="91.1" width="0.8" height="0.8"/><rect x="25.8" y="48.3" width="0.8" height="0.8"/><rect x="17.8" y="73.4" width="0.8" height="0.8"/><rect x="26.8" y="91.4" width="0.8" height="0.8"/><rect x="19.9" y="88.2" width="0.8" height="0.8"/><rect x="20.7" y="85.9" width="0.8" height="0.8"/><rect x="20.9" y="91.8" width="0.8" height="0.8"/><rect x="21.4" y="88.7" width="0.8" height="0.8"/><rect x="27.9" y="90.4" width="0.8" height="0.8"/><rect x="22.1" y="93.9" width="0.8" height="0.8"/><rect x="25.0" y="90.7" width="0.8" height="0.8"/><rect x="20.6" y="85.3" width="0.8" height="0.8"/><rect x="17.5" y="56.5" width="0.8" height="0.8"/><rect x="20.7" y="41.2" width="0.8" height="0.8"/><rect x="18.4" y="62.3" width="0.8" height="0.8"/><rect x="28.1" y="89.0" width="0.8" height="0.8"/><rect x="19.2" y="79.3" width="0.8" height="0.8"/><rect x="27.8" y="52.1" width="0.8" height="0.8"/><rect x="19.0" y="62.8" width="0.8" height="0.8"/><rect x="23.4" y="93.2" width="0.8" height="0.8"/><rect x="29.4" y="89.1" width="0.8" height="0.8"/><rect x="32.0" y="86.6" width="0.8" height="0.8"/><rect x="30.8" y="82.3" width="0.8" height="0.8"/><rect x="26.0" y="92.4" width="0.8" height="0.8"/><rect x="19.4" y="57.2" width="0.8" height="0.8"/><rect x="22.9" y="91.3" width="0.8" height="0.8"/><rect x="18.0" y="68.0" width="0.8" height="0.8"/><rect x="32.5" y="33.6" width="0.8" height="0.8"/><rect x="31.6" y="71.5" width="0.8" height="0.8"/><rect x="31.1" y="93.5" width="0.8" height="0.8"/><rect x="29.9" y="91.5" width="0.8" height="0.8"/><rect x="26.9" y="92.0" width="0.8" height="0.8"/><rect x="18.1" y="94.1" width="0.8" height="0.8"/><rect x="19.8" y="96.9" width="0.8" height="0.8"/><rect x="31.5" y="71.9" width="0.8" height="0.8"/><rect x="21.5" y="52.7" width="0.8" height="0.8"/><rect x="17.5" y="63.0" width="0.8" height="0.8"/><rect x="29.4" y="85.5" width="0.8" height="0.8"/><rect x="24.6" y="95.5" width="0.8" height="0.8"/><rect x="24.9" y="47.9" width="0.8" height="0.8"/><rect x="28.6" y="86.5" width="0.8" height="0.8"/><rect x="22.2" y="16.5" width="0.8" height="0.8"/><rect x="25.6" y="17.1" width="0.8" height="0.8"/><rect x="19.4" y="10.4" width="0.8" height="0.8"/><rect x="24.7" y="16.3" width="0.8" height="0.8"/><rect x="18.2" y="11.7" width="0.8" height="0.8"/><rect x="18.3" y="13.6" width="0.8" height="0.8"/><rect x="25.4" y="17.1" width="0.8" height="0.8"/><rect x="25.8" y="14.0" width="0.8" height="0.8"/><rect x="17.6" y="12.6" width="0.8" height="0.8"/><rect x="25.3" y="12.3" width="0.8" height="0.8"/><rect x="19.9" y="15.9" width="0.8" height="0.8"/><rect x="18.7" y="10.3" width="0.8" height="0.8"/><rect x="26.4" y="12.9" width="0.8" height="0.8"/><rect x="25.6" y="15.5" width="0.8" height="0.8"/><rect x="22.7" y="10.2" width="0.8" height="0.8"/><rect x="26.2" y="15.5" width="0.8" height="0.8"/><rect x="24.0" y="10.7" width="0.8" height="0.8"/><rect x="24.9" y="31.9" width="0.8" height="0.8"/><rect x="24.6" y="18.9" width="0.8" height="0.8"/><rect x="26.7" y="19.6" width="0.8" height="0.8"/><rect x="24.7" y="18.2" width="0.8" height="0.8"/><rect x="25.0" y="19.5" width="0.8" height="0.8"/><rect x="25.3" y="20.4" width="0.8" height="0.8"/><rect x="22.9" y="20.6" width="0.8" height="0.8"/><rect x="25.2" y="32.1" width="0.8" height="0.8"/><rect x="25.1" y="17.9" width="0.8" height="0.8"/><rect x="24.8" y="32.6" width="0.8" height="0.8"/><rect x="25.8" y="33.4" width="0.8" height="0.8"/><rect x="22.9" y="20.8" width="0.8" height="0.8"/><rect x="25.8" y="19.7" width="0.8" height="0.8"/><rect x="21.9" y="27.5" width="0.8" height="0.8"/><rect x="23.0" y="32.7" width="0.8" height="0.8"/><rect x="23.6" y="19.8" width="0.8" height="0.8"/><rect x="22.9" y="31.5" width="0.8" height="0.8"/><rect x="27.6" y="25.3" width="0.8" height="0.8"/><rect x="27.7" y="24.4" width="0.8" height="0.8"/><rect x="25.1" y="32.6" width="0.8" height="0.8"/><rect x="24.9" y="16.6" width="0.8" height="0.8"/><rect x="24.3" y="19.3" width="0.8" height="0.8"/><rect x="27.1" y="28.8" width="0.8" height="0.8"/><rect x="21.2" y="21.1" width="0.8" height="0.8"/><rect x="23.2" y="18.4" width="0.8" height="0.8"/><rect x="24.8" y="31.2" width="0.8" height="0.8"/><rect x="21.8" y="27.4" width="0.8" height="0.8"/><rect x="27.1" y="31.3" width="0.8" height="0.8"/><rect x="24.6" y="31.6" width="0.8" height="0.8"/><rect x="24.5" y="18.8" width="0.8" height="0.8"/><rect x="21.3" y="23.8" width="0.8" height="0.8"/><rect x="24.9" y="19.2" width="0.8" height="0.8"/><rect x="23.4" y="31.7" width="0.8" height="0.8"/><rect x="24.9" y="19.5" width="0.8" height="0.8"/><rect x="29.8" y="34.9" width="0.8" height="0.8"/><rect x="24.0" y="32.8" width="0.8" height="0.8"/><rect x="28.9" y="48.4" width="0.8" height="0.8"/><rect x="25.5" y="35.7" width="0.8" height="0.8"/><rect x="29.5" y="37.0" width="0.8" height="0.8"/><rect x="29.0" y="34.8" width="0.8" height="0.8"/><rect x="30.3" y="42.5" width="0.8" height="0.8"/><rect x="30.5" y="38.0" width="0.8" height="0.8"/><rect x="26.5" y="35.2" width="0.8" height="0.8"/><rect x="23.2" y="46.3" width="0.8" height="0.8"/><rect x="29.9" y="40.0" width="0.8" height="0.8"/><rect x="27.6" y="34.8" width="0.8" height="0.8"/><rect x="26.5" y="35.8" width="0.8" height="0.8"/><rect x="22.1" y="38.4" width="0.8" height="0.8"/><rect x="30.9" y="36.7" width="0.8" height="0.8"/><rect x="31.6" y="41.3" width="0.8" height="0.8"/><rect x="29.2" y="36.7" width="0.8" height="0.8"/><rect x="29.7" y="42.4" width="0.8" height="0.8"/><rect x="30.1" y="43.3" width="0.8" height="0.8"/><rect x="28.8" y="44.5" width="0.8" height="0.8"/><rect x="31.2" y="37.7" width="0.8" height="0.8"/><rect x="23.6" y="35.1" width="0.8" height="0.8"/><rect x="27.4" y="31.4" width="0.8" height="0.8"/><rect x="22.2" y="40.1" width="0.8" height="0.8"/><rect x="25.2" y="33.7" width="0.8" height="0.8"/><rect x="21.7" y="36.0" width="0.8" height="0.8"/><rect x="25.8" y="32.1" width="0.8" height="0.8"/><rect x="22.8" y="36.0" width="0.8" height="0.8"/><rect x="28.4" y="47.4" width="0.8" height="0.8"/><rect x="25.4" y="36.0" width="0.8" height="0.8"/><rect x="22.2" y="42.5" width="0.8" height="0.8"/><rect x="24.1" y="36.2" width="0.8" height="0.8"/><rect x="22.8" y="36.6" width="0.8" height="0.8"/><rect x="22.9" y="37.0" width="0.8" height="0.8"/><rect x="28.9" y="36.0" width="0.8" height="0.8"/><rect x="22.7" y="35.1" width="0.8" height="0.8"/><rect x="32.6" y="38.5" width="0.8" height="0.8"/><rect x="29.6" y="38.5" width="0.8" height="0.8"/><rect x="29.8" y="38.5" width="0.8" height="0.8"/><rect x="21.5" y="42.6" width="0.8" height="0.8"/><rect x="27.1" y="34.8" width="0.8" height="0.8"/><rect x="31.1" y="38.0" width="0.8" height="0.8"/><rect x="25.9" y="47.3" width="0.8" height="0.8"/><rect x="22.6" y="44.7" width="0.8" height="0.8"/><rect x="29.2" y="38.4" width="0.8" height="0.8"/><rect x="28.0" y="36.4" width="0.8" height="0.8"/><rect x="21.2" y="41.4" width="0.8" height="0.8"/><rect x="31.2" y="40.5" width="0.8" height="0.8"/><rect x="21.3" y="41.5" width="0.8" height="0.8"/><rect x="29.8" y="40.4" width="0.8" height="0.8"/><rect x="26.4" y="32.5" width="0.8" height="0.8"/><rect x="29.2" y="50.8" width="0.8" height="0.8"/><rect x="21.8" y="40.8" width="0.8" height="0.8"/><rect x="22.1" y="37.1" width="0.8" height="0.8"/><rect x="22.0" y="42.5" width="0.8" height="0.8"/><rect x="29.5" y="39.0" width="0.8" height="0.8"/><rect x="29.6" y="39.9" width="0.8" height="0.8"/><rect x="26.1" y="33.1" width="0.8" height="0.8"/><rect x="30.2" y="36.6" width="0.8" height="0.8"/><rect x="23.5" y="36.2" width="0.8" height="0.8"/><rect x="24.1" y="33.5" width="0.8" height="0.8"/><rect x="22.4" y="38.8" width="0.8" height="0.8"/><rect x="25.8" y="47.2" width="0.8" height="0.8"/><rect x="25.1" y="47.7" width="0.8" height="0.8"/><rect x="26.9" y="34.8" width="0.8" height="0.8"/><rect x="22.1" y="41.4" width="0.8" height="0.8"/><rect x="29.3" y="42.1" width="0.8" height="0.8"/><rect x="25.1" y="48.0" width="0.8" height="0.8"/><rect x="28.6" y="44.9" width="0.8" height="0.8"/><rect x="27.0" y="33.1" width="0.8" height="0.8"/><rect x="23.0" y="37.4" width="0.8" height="0.8"/><rect x="27.1" y="34.2" width="0.8" height="0.8"/><rect x="27.1" y="47.2" width="0.8" height="0.8"/><rect x="29.6" y="43.1" width="0.8" height="0.8"/><rect x="27.7" y="47.4" width="0.8" height="0.8"/><rect x="29.5" y="38.1" width="0.8" height="0.8"/><rect x="22.0" y="42.2" width="0.8" height="0.8"/><rect x="21.9" y="46.2" width="0.8" height="0.8"/><rect x="24.4" y="34.7" width="0.8" height="0.8"/><rect x="26.2" y="34.5" width="0.8" height="0.8"/><rect x="21.9" y="49.7" width="0.8" height="0.8"/><rect x="31.4" y="45.0" width="0.8" height="0.8"/><rect x="30.2" y="39.2" width="0.8" height="0.8"/><rect x="30.4" y="38.8" width="0.8" height="0.8"/><rect x="30.6" y="44.4" width="0.8" height="0.8"/><rect x="22.7" y="49.8" width="0.8" height="0.8"/><rect x="23.2" y="35.3" width="0.8" height="0.8"/><rect x="32.0" y="43.4" width="0.8" height="0.8"/><rect x="22.8" y="44.4" width="0.8" height="0.8"/><rect x="21.5" y="39.9" width="0.8" height="0.8"/><rect x="30.0" y="42.0" width="0.8" height="0.8"/><rect x="29.0" y="36.5" width="0.8" height="0.8"/><rect x="29.2" y="36.9" width="0.8" height="0.8"/><rect x="21.2" y="46.0" width="0.8" height="0.8"/><rect x="21.7" y="44.4" width="0.8" height="0.8"/><rect x="29.2" y="30.6" width="0.8" height="0.8"/><rect x="30.8" y="44.7" width="0.8" height="0.8"/><rect x="26.9" y="47.7" width="0.8" height="0.8"/><rect x="22.9" y="43.7" width="0.8" height="0.8"/><rect x="24.0" y="33.3" width="0.8" height="0.8"/><rect x="22.5" y="36.9" width="0.8" height="0.8"/><rect x="28.8" y="48.8" width="0.8" height="0.8"/><rect x="27.7" y="36.5" width="0.8" height="0.8"/><rect x="23.8" y="35.5" width="0.8" height="0.8"/><rect x="25.8" y="35.7" width="0.8" height="0.8"/><rect x="20.3" y="41.0" width="0.8" height="0.8"/><rect x="29.4" y="35.7" width="0.8" height="0.8"/><rect x="26.1" y="47.4" width="0.8" height="0.8"/><rect x="25.6" y="48.9" width="0.8" height="0.8"/><rect x="22.1" y="44.3" width="0.8" height="0.8"/><rect x="26.9" y="34.7" width="0.8" height="0.8"/><rect x="28.4" y="45.7" width="0.8" height="0.8"/><rect x="22.2" y="41.8" width="0.8" height="0.8"/><rect x="30.6" y="40.0" width="0.8" height="0.8"/><rect x="22.3" y="41.0" width="0.8" height="0.8"/><rect x="30.1" y="49.7" width="0.8" height="0.8"/><rect x="29.7" y="45.8" width="0.8" height="0.8"/><rect x="22.3" y="38.6" width="0.8" height="0.8"/><rect x="21.1" y="48.5" width="0.8" height="0.8"/><rect x="29.2" y="45.0" width="0.8" height="0.8"/><rect x="22.0" y="39.2" width="0.8" height="0.8"/><rect x="23.7" y="34.6" width="0.8" height="0.8"/><rect x="24.4" y="49.4" width="0.8" height="0.8"/><rect x="30.3" y="33.8" width="0.8" height="0.8"/><rect x="21.8" y="21.2" width="0.8" height="0.8"/><rect x="23.1" y="10.4" width="0.8" height="0.8"/><rect x="20.0" y="23.7" width="0.8" height="0.8"/><rect x="30.1" y="16.4" width="0.8" height="0.8"/><rect x="21.5" y="38.8" width="0.8" height="0.8"/><rect x="20.9" y="47.7" width="0.8" height="0.8"/><rect x="22.1" y="44.5" width="0.8" height="0.8"/><rect x="23.7" y="34.0" width="0.8" height="0.8"/><rect x="23.7" y="31.1" width="0.8" height="0.8"/><rect x="16.1" y="35.0" width="0.8" height="0.8"/><rect x="19.4" y="41.1" width="0.8" height="0.8"/><rect x="21.2" y="25.2" width="0.8" height="0.8"/><rect x="24.0" y="36.2" width="0.8" height="0.8"/><rect x="19.3" y="18.8" width="0.8" height="0.8"/><rect x="21.7" y="27.8" width="0.8" height="0.8"/><rect x="27.9" y="18.3" width="0.8" height="0.8"/><rect x="28.4" y="19.5" width="0.8" height="0.8"/><rect x="20.9" y="17.8" width="0.8" height="0.8"/><rect x="18.7" y="47.9" width="0.8" height="0.8"/><rect x="28.8" y="22.6" width="0.8" height="0.8"/><rect x="28.8" y="25.0" width="0.8" height="0.8"/><rect x="29.0" y="51.2" width="0.8" height="0.8"/><rect x="18.1" y="17.0" width="0.8" height="0.8"/><rect x="19.2" y="30.5" width="0.8" height="0.8"/><rect x="17.0" y="12.1" width="0.8" height="0.8"/><rect x="20.3" y="55.7" width="0.8" height="0.8"/><rect x="21.2" y="24.0" width="0.8" height="0.8"/><rect x="24.0" y="31.1" width="0.8" height="0.8"/><rect x="20.4" y="16.1" width="0.8" height="0.8"/><rect x="27.3" y="29.3" width="0.8" height="0.8"/><rect x="17.8" y="25.3" width="0.8" height="0.8"/><rect x="18.2" y="9.6" width="0.8" height="0.8"/><rect x="27.8" y="4.0" width="0.8" height="0.8"/><rect x="26.2" y="12.2" width="0.8" height="0.8"/><rect x="28.7" y="24.6" width="0.8" height="0.8"/><rect x="21.1" y="51.6" width="0.8" height="0.8"/><rect x="19.8" y="22.0" width="0.8" height="0.8"/><rect x="30.4" y="48.1" width="0.8" height="0.8"/><rect x="20.0" y="24.9" width="0.8" height="0.8"/><rect x="31.5" y="28.5" width="0.8" height="0.8"/><rect x="42.3" y="8.4" width="0.8" height="0.8"/><rect x="43.7" y="8.5" width="0.8" height="0.8"/><rect x="38.1" y="13.0" width="0.8" height="0.8"/><rect x="38.9" y="9.8" width="0.8" height="0.8"/><rect x="37.2" y="10.9" width="0.8" height="0.8"/><rect x="38.6" y="12.6" width="0.8" height="0.8"/><rect x="37.9" y="12.1" width="0.8" height="0.8"/><rect x="40.3" y="14.1" width="0.8" height="0.8"/><rect x="39.1" y="14.3" width="0.8" height="0.8"/><rect x="37.5" y="12.5" width="0.8" height="0.8"/><rect x="39.2" y="8.9" width="0.8" height="0.8"/><rect x="40.0" y="8.1" width="0.8" height="0.8"/><rect x="38.4" y="13.1" width="0.8" height="0.8"/><rect x="38.0" y="13.1" width="0.8" height="0.8"/><rect x="38.2" y="9.4" width="0.8" height="0.8"/><rect x="38.9" y="8.6" width="0.8" height="0.8"/><rect x="38.9" y="7.4" width="0.8" height="0.8"/><rect x="38.4" y="9.5" width="0.8" height="0.8"/><rect x="39.1" y="8.9" width="0.8" height="0.8"/><rect x="38.2" y="12.5" width="0.8" height="0.8"/><rect x="38.2" y="9.5" width="0.8" height="0.8"/><rect x="48.0" y="9.5" width="0.8" height="0.8"/><rect x="46.6" y="11.5" width="0.8" height="0.8"/><rect x="49.5" y="15.5" width="0.8" height="0.8"/><rect x="47.5" y="9.2" width="0.8" height="0.8"/><rect x="47.1" y="11.1" width="0.8" height="0.8"/><rect x="46.3" y="7.6" width="0.8" height="0.8"/><rect x="48.1" y="15.4" width="0.8" height="0.8"/><rect x="46.6" y="18.0" width="0.8" height="0.8"/><rect x="45.2" y="9.3" width="0.8" height="0.8"/><rect x="47.5" y="9.8" width="0.8" height="0.8"/><rect x="47.5" y="14.9" width="0.8" height="0.8"/><rect x="47.2" y="17.9" width="0.8" height="0.8"/><rect x="47.9" y="15.0" width="0.8" height="0.8"/><rect x="47.0" y="9.2" width="0.8" height="0.8"/><rect x="47.8" y="13.5" width="0.8" height="0.8"/><rect x="45.6" y="10.4" width="0.8" height="0.8"/><rect x="47.2" y="11.6" width="0.8" height="0.8"/><rect x="47.0" y="10.2" width="0.8" height="0.8"/><rect x="47.6" y="15.3" width="0.8" height="0.8"/><rect x="48.9" y="13.1" width="0.8" height="0.8"/><rect x="47.5" y="14.9" width="0.8" height="0.8"/><rect x="43.6" y="7.0" width="0.8" height="0.8"/><rect x="45.2" y="9.5" width="0.8" height="0.8"/><rect x="47.2" y="16.1" width="0.8" height="0.8"/><rect x="45.1" y="9.9" width="0.8" height="0.8"/><rect x="41.1" y="19.8" width="0.8" height="0.8"/><rect x="40.2" y="15.4" width="0.8" height="0.8"/><rect x="46.1" y="18.5" width="0.8" height="0.8"/><rect x="37.4" y="19.7" width="0.8" height="0.8"/><rect x="47.1" y="18.2" width="0.8" height="0.8"/><rect x="40.5" y="15.0" width="0.8" height="0.8"/><rect x="39.4" y="18.5" width="0.8" height="0.8"/><rect x="40.1" y="15.9" width="0.8" height="0.8"/><rect x="39.0" y="19.7" width="0.8" height="0.8"/><rect x="39.7" y="18.9" width="0.8" height="0.8"/><rect x="41.6" y="20.4" width="0.8" height="0.8"/><rect x="39.0" y="17.8" width="0.8" height="0.8"/><rect x="47.1" y="18.3" width="0.8" height="0.8"/><rect x="46.9" y="17.7" width="0.8" height="0.8"/><rect x="46.7" y="17.7" width="0.8" height="0.8"/><rect x="44.6" y="19.4" width="0.8" height="0.8"/><rect x="44.1" y="19.2" width="0.8" height="0.8"/><rect x="39.0" y="18.3" width="0.8" height="0.8"/><rect x="45.2" y="19.0" width="0.8" height="0.8"/><rect x="46.3" y="18.6" width="0.8" height="0.8"/><rect x="40.1" y="18.7" width="0.8" height="0.8"/><rect x="39.8" y="18.2" width="0.8" height="0.8"/><rect x="39.1" y="18.0" width="0.8" height="0.8"/><rect x="37.8" y="18.4" width="0.8" height="0.8"/><rect x="41.0" y="15.4" width="0.8" height="0.8"/><rect x="40.2" y="19.4" width="0.8" height="0.8"/><rect x="40.7" y="19.4" width="0.8" height="0.8"/><rect x="41.2" y="20.8" width="0.8" height="0.8"/><rect x="46.1" y="18.0" width="0.8" height="0.8"/><rect x="40.0" y="20.1" width="0.8" height="0.8"/><rect x="40.4" y="15.7" width="0.8" height="0.8"/><rect x="39.8" y="18.8" width="0.8" height="0.8"/><rect x="39.0" y="18.2" width="0.8" height="0.8"/><rect x="45.3" y="26.2" width="0.8" height="0.8"/><rect x="47.7" y="22.1" width="0.8" height="0.8"/><rect x="45.9" y="26.1" width="0.8" height="0.8"/><rect x="46.1" y="23.2" width="0.8" height="0.8"/><rect x="46.4" y="25.7" width="0.8" height="0.8"/><rect x="46.9" y="21.3" width="0.8" height="0.8"/><rect x="48.1" y="21.5" width="0.8" height="0.8"/><rect x="49.1" y="21.4" width="0.8" height="0.8"/><rect x="47.2" y="23.5" width="0.8" height="0.8"/><rect x="46.1" y="26.4" width="0.8" height="0.8"/><rect x="46.1" y="25.5" width="0.8" height="0.8"/><rect x="45.8" y="21.3" width="0.8" height="0.8"/><rect x="46.7" y="25.2" width="0.8" height="0.8"/><rect x="47.7" y="27.5" width="0.8" height="0.8"/><rect x="46.0" y="20.1" width="0.8" height="0.8"/><rect x="46.3" y="21.8" width="0.8" height="0.8"/><rect x="44.8" y="21.9" width="0.8" height="0.8"/><rect x="46.9" y="24.5" width="0.8" height="0.8"/><rect x="46.0" y="22.3" width="0.8" height="0.8"/><rect x="46.3" y="23.9" width="0.8" height="0.8"/><rect x="47.5" y="26.3" width="0.8" height="0.8"/><rect x="46.8" y="25.9" width="0.8" height="0.8"/><rect x="48.5" y="24.5" width="0.8" height="0.8"/><rect x="47.9" y="26.2" width="0.8" height="0.8"/><rect x="48.9" y="24.3" width="0.8" height="0.8"/><rect x="49.4" y="22.0" width="0.8" height="0.8"/><rect x="46.3" y="25.4" width="0.8" height="0.8"/><rect x="45.5" y="25.6" width="0.8" height="0.8"/><rect x="44.7" y="25.6" width="0.8" height="0.8"/><rect x="48.1" y="23.1" width="0.8" height="0.8"/><rect x="47.8" y="21.9" width="0.8" height="0.8"/><rect x="46.3" y="26.2" width="0.8" height="0.8"/><rect x="49.0" y="27.3" width="0.8" height="0.8"/><rect x="48.6" y="26.6" width="0.8" height="0.8"/><rect x="48.5" y="23.3" width="0.8" height="0.8"/><rect x="48.7" y="25.3" width="0.8" height="0.8"/><rect x="47.3" y="23.9" width="0.8" height="0.8"/><rect x="46.8" y="22.8" width="0.8" height="0.8"/><rect x="49.0" y="23.4" width="0.8" height="0.8"/><rect x="46.2" y="23.4" width="0.8" height="0.8"/><rect x="46.9" y="26.6" width="0.8" height="0.8"/><rect x="47.4" y="23.4" width="0.8" height="0.8"/><rect x="49.6" y="22.7" width="0.8" height="0.8"/><rect x="45.9" y="24.3" width="0.8" height="0.8"/><rect x="45.6" y="23.2" width="0.8" height="0.8"/><rect x="45.7" y="23.0" width="0.8" height="0.8"/><rect x="45.6" y="23.8" width="0.8" height="0.8"/><rect x="45.3" y="25.9" width="0.8" height="0.8"/><rect x="47.5" y="24.8" width="0.8" height="0.8"/><rect x="47.6" y="22.6" width="0.8" height="0.8"/><rect x="48.5" y="25.6" width="0.8" height="0.8"/><rect x="46.9" y="24.4" width="0.8" height="0.8"/><rect x="45.2" y="22.5" width="0.8" height="0.8"/><rect x="47.7" y="26.3" width="0.8" height="0.8"/><rect x="48.5" y="22.7" width="0.8" height="0.8"/><rect x="49.2" y="24.1" width="0.8" height="0.8"/><rect x="48.6" y="24.7" width="0.8" height="0.8"/><rect x="48.5" y="25.9" width="0.8" height="0.8"/><rect x="48.1" y="23.3" width="0.8" height="0.8"/><rect x="46.5" y="25.8" width="0.8" height="0.8"/><rect x="48.5" y="26.2" width="0.8" height="0.8"/><rect x="47.9" y="22.8" width="0.8" height="0.8"/><rect x="46.6" y="22.4" width="0.8" height="0.8"/><rect x="46.5" y="25.9" width="0.8" height="0.8"/><rect x="44.6" y="22.6" width="0.8" height="0.8"/><rect x="47.4" y="24.6" width="0.8" height="0.8"/><rect x="44.0" y="24.5" width="0.8" height="0.8"/><rect x="47.8" y="26.6" width="0.8" height="0.8"/><rect x="47.3" y="25.3" width="0.8" height="0.8"/><rect x="48.5" y="25.0" width="0.8" height="0.8"/><rect x="49.0" y="23.6" width="0.8" height="0.8"/><rect x="47.4" y="23.3" width="0.8" height="0.8"/><rect x="47.4" y="23.6" width="0.8" height="0.8"/><rect x="46.1" y="21.7" width="0.8" height="0.8"/><rect x="46.0" y="23.7" width="0.8" height="0.8"/><rect x="48.6" y="24.1" width="0.8" height="0.8"/><rect x="48.6" y="22.5" width="0.8" height="0.8"/><rect x="45.6" y="22.3" width="0.8" height="0.8"/><rect x="48.4" y="23.9" width="0.8" height="0.8"/><rect x="43.5" y="50.9" width="0.8" height="0.8"/><rect x="36.1" y="31.1" width="0.8" height="0.8"/><rect x="53.5" y="70.0" width="0.8" height="0.8"/><rect x="52.2" y="56.0" width="0.8" height="0.8"/><rect x="42.3" y="63.0" width="0.8" height="0.8"/><rect x="47.7" y="32.4" width="0.8" height="0.8"/><rect x="49.3" y="52.5" width="0.8" height="0.8"/><rect x="37.1" y="45.7" width="0.8" height="0.8"/><rect x="48.6" y="62.7" width="0.8" height="0.8"/><rect x="48.0" y="40.7" width="0.8" height="0.8"/><rect x="46.2" y="78.3" width="0.8" height="0.8"/><rect x="44.5" y="77.3" width="0.8" height="0.8"/><rect x="53.0" y="83.1" width="0.8" height="0.8"/><rect x="47.3" y="30.8" width="0.8" height="0.8"/><rect x="41.7" y="36.4" width="0.8" height="0.8"/><rect x="45.1" y="31.7" width="0.8" height="0.8"/><rect x="46.5" y="32.1" width="0.8" height="0.8"/><rect x="44.4" y="43.0" width="0.8" height="0.8"/><rect x="39.4" y="33.7" width="0.8" height="0.8"/><rect x="39.1" y="58.8" width="0.8" height="0.8"/><rect x="43.4" y="51.1" width="0.8" height="0.8"/><rect x="37.9" y="8.5" width="0.8" height="0.8"/><rect x="44.8" y="42.2" width="0.8" height="0.8"/><rect x="46.5" y="78.1" width="0.8" height="0.8"/><rect x="41.3" y="72.3" width="0.8" height="0.8"/><rect x="40.8" y="2.0" width="0.8" height="0.8"/><rect x="43.3" y="47.0" width="0.8" height="0.8"/><rect x="41.5" y="74.1" width="0.8" height="0.8"/><rect x="42.5" y="55.1" width="0.8" height="0.8"/><rect x="48.2" y="39.9" width="0.8" height="0.8"/><rect x="45.4" y="33.8" width="0.8" height="0.8"/><rect x="37.4" y="62.1" width="0.8" height="0.8"/><rect x="42.3" y="52.6" width="0.8" height="0.8"/><rect x="50.6" y="39.1" width="0.8" height="0.8"/><rect x="47.3" y="55.6" width="0.8" height="0.8"/><rect x="44.6" y="60.3" width="0.8" height="0.8"/><rect x="39.8" y="50.8" width="0.8" height="0.8"/><rect x="49.3" y="44.7" width="0.8" height="0.8"/><rect x="46.7" y="38.9" width="0.8" height="0.8"/><rect x="43.1" y="62.9" width="0.8" height="0.8"/><rect x="49.4" y="44.4" width="0.8" height="0.8"/><rect x="39.6" y="68.4" width="0.8" height="0.8"/><rect x="50.7" y="51.6" width="0.8" height="0.8"/><rect x="50.6" y="79.1" width="0.8" height="0.8"/><rect x="43.8" y="37.0" width="0.8" height="0.8"/><rect x="38.2" y="50.7" width="0.8" height="0.8"/><rect x="44.8" y="61.0" width="0.8" height="0.8"/><rect x="40.9" y="33.0" width="0.8" height="0.8"/><rect x="49.3" y="47.6" width="0.8" height="0.8"/><rect x="35.4" y="53.6" width="0.8" height="0.8"/><rect x="36.4" y="59.9" width="0.8" height="0.8"/><rect x="40.4" y="39.9" width="0.8" height="0.8"/><rect x="44.9" y="32.5" width="0.8" height="0.8"/><rect x="50.2" y="34.1" width="0.8" height="0.8"/><rect x="45.3" y="25.8" width="0.8" height="0.8"/><rect x="44.1" y="32.5" width="0.8" height="0.8"/><rect x="43.2" y="53.2" width="0.8" height="0.8"/><rect x="44.8" y="48.4" width="0.8" height="0.8"/><rect x="46.8" y="29.1" width="0.8" height="0.8"/></g>
<g fill="none" stroke="#d21e96" stroke-width="0.55" stroke-linejoin="round">
<path d="M39.6,8.8 40.4,8.4 41.4,8.3 42.4,8.4 43.2,8.8 43.9,9.1 44.4,9.4 45.0,9.8 45.8,10.2 46.4,10.7 46.8,11.2 47.1,11.8 47.4,12.3 47.7,13.2 47.8,14.2 47.7,15.2 47.4,16.2 47.1,16.8 46.9,17.3 46.4,18.0 45.9,18.5 45.4,18.8 44.4,19.2 43.9,19.3 42.9,19.4 41.9,19.3 41.4,19.1 40.7,18.8 40.3,18.2 40.3,17.2 40.5,16.8 40.9,15.8 41.0,15.3 40.9,14.7 40.4,14.1 39.8,13.7 39.3,13.1 38.9,12.2 38.7,11.8 38.7,10.8 38.8,9.8 39.1,9.2 39.6,8.8ZM19.8,10.8 20.3,10.6 21.3,10.5 22.3,10.6 22.8,10.8 23.7,11.2 24.3,11.7 24.8,12.1 25.3,12.7 25.6,13.2 25.7,14.2 25.5,15.2 25.1,15.8 24.4,16.2 23.8,16.5 22.8,16.6 21.8,16.5 20.9,16.2 20.3,16.0 19.8,15.6 19.3,15.2 18.8,14.5 18.4,13.8 18.3,13.2 18.3,12.3 18.5,11.8 18.9,11.2 19.8,10.8ZM24.1,20.2 24.8,20.2 25.3,20.3 26.0,20.8 26.5,21.2 26.8,21.8 27.3,22.8 27.4,23.2 27.6,24.2 27.6,25.2 27.6,26.2 27.5,27.2 27.3,28.2 27.2,28.8 26.8,29.6 26.4,30.2 26.0,30.8 25.3,31.2 24.3,31.1 23.7,30.8 23.2,30.2 22.8,29.7 22.3,28.8 22.1,28.2 21.8,27.2 21.8,26.8 21.7,25.8 21.7,24.8 21.8,23.8 21.9,23.3 22.2,22.2 22.4,21.8 22.8,21.2 23.3,20.7 24.1,20.2ZM24.5,36.2 25.3,35.9 26.3,35.8 27.3,36.1 27.8,36.5 28.3,37.1 28.8,37.8 29.1,38.2 29.3,38.8 29.6,39.8 29.5,40.8 29.3,41.8 29.2,42.2 29.1,43.2 28.8,44.2 28.6,44.8 28.3,45.3 27.8,46.0 27.3,46.4 26.8,46.8 25.8,47.2 24.8,46.9 24.3,46.4 23.9,45.8 23.6,45.2 23.3,44.7 22.9,43.8 22.7,43.2 22.4,42.2 22.3,41.2 22.4,40.2 22.6,39.2 22.8,38.5 23.2,37.8 23.5,37.2 23.9,36.8 24.5,36.2ZM23.8,49.8 24.3,49.4 25.3,49.5 25.8,49.9 26.3,50.4 26.8,51.1 27.2,51.8 27.4,52.2 27.8,53.2 28.0,53.8 28.3,54.8 28.4,55.2 28.8,56.3 28.9,56.8 29.2,57.8 29.3,58.3 29.5,59.2 29.7,60.2 29.8,61.3 29.8,61.8 30.0,62.8 30.1,63.8 30.2,64.8 30.3,65.8 30.3,66.8 30.3,67.8 30.3,68.2 30.4,69.2 30.4,70.2 30.4,71.2 30.4,72.2 30.3,73.2 30.3,73.7 30.2,74.8 30.2,75.8 30.1,76.8 30.0,77.8 29.8,78.7 29.8,79.2 29.6,80.2 29.4,81.2 29.3,81.8 29.1,82.8 28.8,83.7 28.7,84.2 28.4,85.2 28.3,85.8 27.9,86.8 27.7,87.2 27.3,88.2 26.9,88.8 26.5,89.2 25.8,89.7 25.3,89.9 24.3,89.9 23.8,89.7 23.2,89.2 22.7,88.8 22.2,88.2 21.8,87.6 21.4,86.8 21.2,86.2 20.9,85.2 20.7,84.8 20.5,83.8 20.3,83.1 20.1,82.2 19.9,81.2 19.8,80.8 19.6,79.8 19.4,78.8 19.3,77.8 19.3,77.1 19.2,76.2 19.2,75.2 19.1,74.2 19.0,73.2 19.0,72.2 19.0,71.2 19.0,70.2 19.1,69.2 19.1,68.2 19.1,67.2 19.2,66.2 19.2,65.2 19.3,64.2 19.3,63.7 19.4,62.8 19.5,61.8 19.6,60.8 19.8,59.8 19.9,59.2 20.0,58.2 20.2,57.2 20.4,56.8 20.6,55.8 20.8,55.2 21.2,54.2 21.4,53.8 21.7,52.8 21.9,52.2 22.3,51.5 22.8,50.8 23.2,50.2 23.8,49.8Z" fill="none" opacity="0.7"/>
<path d="M20.7,12.2 21.3,12.1 22.3,12.2 22.8,12.5 23.3,12.8 23.8,13.6 23.8,14.2 23.4,14.8 22.8,15.0 21.8,15.0 21.2,14.8 20.5,14.2 20.2,13.8 20.2,12.8 20.7,12.2ZM24.0,22.8 24.8,22.4 25.4,22.8 25.8,23.5 26.0,24.2 26.2,25.2 26.2,26.2 26.0,27.2 25.8,27.8 25.3,28.4 24.3,28.5 23.8,28.1 23.3,27.2 23.2,26.8 23.1,25.8 23.1,24.8 23.3,23.9 23.6,23.2 24.0,22.8ZM24.3,53.8 24.8,53.7 25.3,53.8 25.9,54.2 26.4,54.8 26.8,55.4 27.2,56.2 27.5,56.8 27.8,57.6 28.0,58.2 28.3,59.2 28.4,59.8 28.6,60.8 28.7,61.8 28.8,62.3 29.0,63.2 29.1,64.2 29.2,65.2 29.3,66.2 29.3,67.2 29.3,68.2 29.3,68.8 29.4,69.8 29.4,70.8 29.4,71.8 29.4,72.8 29.3,73.3 29.2,74.2 29.2,75.2 29.1,76.2 28.9,77.2 28.8,77.8 28.7,78.8 28.5,79.8 28.3,80.6 28.2,81.2 27.9,82.2 27.7,82.8 27.4,83.8 27.2,84.2 26.8,85.0 26.4,85.8 25.9,86.2 25.3,86.6 24.3,86.7 23.6,86.2 23.1,85.8 22.7,85.2 22.3,84.5 22.0,83.8 21.8,83.2 21.5,82.2 21.3,81.6 21.1,80.8 20.9,79.8 20.8,79.2 20.6,78.2 20.4,77.2 20.3,76.2 20.3,75.8 20.2,74.8 20.1,73.8 20.1,72.8 20.0,71.8 20.0,70.8 20.1,69.8 20.1,68.8 20.1,67.8 20.2,66.8 20.3,65.8 20.3,65.2 20.4,64.2 20.5,63.2 20.6,62.2 20.7,61.2 20.8,60.8 21.0,59.8 21.3,58.8 21.4,58.2 21.7,57.2 21.9,56.8 22.3,56.0 22.8,55.2 23.1,54.8 23.6,54.2 24.3,53.8Z" fill="rgba(200,22,150,0.18)" opacity="0.95"/>
<path d="M23.7,57.2 24.3,56.9 25.3,56.9 25.8,57.3 26.3,57.8 26.8,58.7 27.0,59.2 27.3,60.2 27.4,60.8 27.7,61.8 27.8,62.5 28.0,63.2 28.1,64.2 28.2,65.2 28.3,66.2 28.3,66.8 28.4,67.8 28.4,68.8 28.5,69.8 28.5,70.8 28.5,71.8 28.4,72.8 28.3,73.8 28.3,74.2 28.2,75.2 28.0,76.2 27.8,77.2 27.7,77.8 27.5,78.8 27.3,79.7 27.2,80.2 26.9,81.2 26.7,81.8 26.3,82.4 25.8,83.2 25.3,83.6 24.8,83.8 24.3,83.7 23.7,83.2 23.3,82.8 22.8,81.8 22.6,81.2 22.3,80.3 22.1,79.8 21.9,78.8 21.7,78.2 21.5,77.2 21.3,76.2 21.3,75.8 21.2,74.8 21.1,73.8 21.0,72.8 21.0,71.8 21.0,70.8 21.0,69.8 21.0,68.8 21.1,67.8 21.1,66.8 21.2,65.8 21.3,65.3 21.4,64.2 21.6,63.2 21.7,62.2 21.8,61.7 22.0,60.8 22.3,59.8 22.4,59.2 22.8,58.4 23.2,57.8 23.7,57.2Z" fill="rgba(200,22,150,0.25)" opacity="0.95"/>
<path d="M24.3,59.8 25.1,59.8 25.6,60.2 25.9,60.8 26.3,61.6 26.5,62.2 26.8,63.1 27.0,63.8 27.2,64.8 27.3,65.8 27.3,66.2 27.4,67.2 27.5,68.2 27.5,69.2 27.6,70.2 27.6,71.2 27.5,72.2 27.4,73.2 27.3,73.8 27.2,74.8 27.0,75.8 26.8,76.7 26.7,77.2 26.4,78.2 26.1,78.8 25.8,79.4 25.3,80.1 24.8,80.3 24.3,80.1 23.8,79.6 23.3,78.8 23.1,78.2 22.8,77.5 22.6,76.8 22.4,75.8 22.3,75.2 22.1,74.2 22.0,73.2 21.9,72.2 21.9,71.2 21.9,70.2 21.9,69.2 21.9,68.2 22.0,67.2 22.2,66.2 22.3,65.4 22.4,64.8 22.6,63.8 22.8,62.9 23.0,62.2 23.3,61.3 23.6,60.8 23.8,60.2 24.3,59.8Z" fill="rgba(205,24,152,0.35)" opacity="0.95"/>
<path d="M24.2,63.8 24.8,63.3 25.4,63.8 25.8,64.6 26.0,65.2 26.2,66.2 26.3,67.0 26.4,67.8 26.5,68.8 26.6,69.8 26.6,70.8 26.5,71.8 26.4,72.8 26.3,73.2 26.1,74.2 25.8,75.2 25.6,75.8 25.3,76.3 24.3,76.5 23.8,75.8 23.6,75.2 23.3,74.4 23.2,73.8 23.0,72.8 22.9,71.8 22.8,71.0 22.8,70.2 22.8,69.6 22.9,68.8 23.0,67.8 23.2,66.8 23.3,66.2 23.6,65.2 23.8,64.4 24.2,63.8Z" fill="rgba(215,30,160,0.5)" opacity="0.95"/>
</g></g>
<rect x="202.2" y="399.9" width="19.0" height="46.6" fill="none" stroke="#2bdca2" stroke-width="2.4" />
<rect x="202.2" y="449.4" width="19.3" height="44.3" fill="none" stroke="#e8180f" stroke-width="2.4" />
<text x="244.7" y="425.9" font-size="8.8" font-weight="bold" font-style="normal" text-anchor="start" fill="#2bdca2" textLength="17" lengthAdjust="spacingAndGlyphs" stroke="#2bdca2" stroke-width="0.35">15.2</text>
<text x="244.7" y="478.2" font-size="8.8" font-weight="bold" font-style="normal" text-anchor="start" fill="#e8180f" textLength="17" lengthAdjust="spacingAndGlyphs" stroke="#e8180f" stroke-width="0.35">77.6</text>
<g fill="#333"><rect x="191.12" y="496.9" width="1" height="2.9"/><rect x="194.03" y="496.9" width="1" height="2.9"/><rect x="196.95" y="496.9" width="1" height="2.9"/><rect x="199.87" y="496.9" width="1" height="2.9"/><rect x="202.78" y="496.9" width="1" height="5.0"/><rect x="205.70" y="496.9" width="1" height="2.9"/><rect x="208.62" y="496.9" width="1" height="2.9"/><rect x="211.53" y="496.9" width="1" height="2.9"/><rect x="214.45" y="496.9" width="1" height="2.9"/><rect x="217.36" y="496.9" width="1" height="5.0"/><rect x="220.28" y="496.9" width="1" height="2.9"/><rect x="223.20" y="496.9" width="1" height="2.9"/><rect x="226.11" y="496.9" width="1" height="2.9"/><rect x="229.03" y="496.9" width="1" height="2.9"/><rect x="231.95" y="496.9" width="1" height="5.0"/><rect x="234.86" y="496.9" width="1" height="2.9"/><rect x="237.78" y="496.9" width="1" height="2.9"/><rect x="240.70" y="496.9" width="1" height="2.9"/><rect x="243.61" y="496.9" width="1" height="2.9"/><rect x="246.53" y="496.9" width="1" height="5.0"/><rect x="249.45" y="496.9" width="1" height="2.9"/><rect x="252.36" y="496.9" width="1" height="2.9"/><rect x="255.28" y="496.9" width="1" height="2.9"/><rect x="258.19" y="496.9" width="1" height="2.9"/><rect x="261.11" y="496.9" width="1" height="5.0"/><rect x="264.03" y="496.9" width="1" height="2.9"/><rect x="185.90" y="492.61" width="2.4" height="1"/><rect x="185.90" y="488.82" width="2.4" height="1"/><rect x="185.90" y="485.03" width="2.4" height="1"/><rect x="185.90" y="481.24" width="2.4" height="1"/><rect x="183.90" y="477.45" width="4.4" height="1"/><rect x="185.90" y="473.66" width="2.4" height="1"/><rect x="185.90" y="469.87" width="2.4" height="1"/><rect x="185.90" y="466.08" width="2.4" height="1"/><rect x="185.90" y="462.29" width="2.4" height="1"/><rect x="183.90" y="458.50" width="4.4" height="1"/><rect x="185.90" y="454.71" width="2.4" height="1"/><rect x="185.90" y="450.92" width="2.4" height="1"/><rect x="185.90" y="447.13" width="2.4" height="1"/><rect x="185.90" y="443.34" width="2.4" height="1"/><rect x="183.90" y="439.55" width="4.4" height="1"/><rect x="185.90" y="435.76" width="2.4" height="1"/><rect x="185.90" y="431.97" width="2.4" height="1"/><rect x="185.90" y="428.18" width="2.4" height="1"/><rect x="185.90" y="424.39" width="2.4" height="1"/><rect x="183.90" y="420.60" width="4.4" height="1"/><rect x="185.90" y="416.81" width="2.4" height="1"/><rect x="185.90" y="413.02" width="2.4" height="1"/><rect x="185.90" y="409.23" width="2.4" height="1"/><rect x="185.90" y="405.44" width="2.4" height="1"/><rect x="183.90" y="401.65" width="4.4" height="1"/></g>
<text x="203.3" y="508.1" font-size="5.6" font-weight="normal" font-style="normal" text-anchor="middle" fill="#2a2a2a" stroke="#2a2a2a" stroke-width="0.15">50</text>
<text transform="translate(183.0,477.9) rotate(-90)" font-size="5.6" text-anchor="middle" fill="#2a2a2a" stroke="#2a2a2a" stroke-width="0.15">50</text>
<text x="217.9" y="508.1" font-size="5.6" font-weight="normal" font-style="normal" text-anchor="middle" fill="#2a2a2a" stroke="#2a2a2a" stroke-width="0.15">100</text>
<text transform="translate(183.0,459.0) rotate(-90)" font-size="5.6" text-anchor="middle" fill="#2a2a2a" stroke="#2a2a2a" stroke-width="0.15">100</text>
<text x="232.4" y="508.1" font-size="5.6" font-weight="normal" font-style="normal" text-anchor="middle" fill="#2a2a2a" stroke="#2a2a2a" stroke-width="0.15">150</text>
<text transform="translate(183.0,440.0) rotate(-90)" font-size="5.6" text-anchor="middle" fill="#2a2a2a" stroke="#2a2a2a" stroke-width="0.15">150</text>
<text x="247.0" y="508.1" font-size="5.6" font-weight="normal" font-style="normal" text-anchor="middle" fill="#2a2a2a" stroke="#2a2a2a" stroke-width="0.15">200</text>
<text transform="translate(183.0,421.1) rotate(-90)" font-size="5.6" text-anchor="middle" fill="#2a2a2a" stroke="#2a2a2a" stroke-width="0.15">200</text>
<text x="261.6" y="508.1" font-size="5.6" font-weight="normal" font-style="normal" text-anchor="middle" fill="#2a2a2a" stroke="#2a2a2a" stroke-width="0.15">250</text>
<text transform="translate(183.0,402.1) rotate(-90)" font-size="5.6" text-anchor="middle" fill="#2a2a2a" stroke="#2a2a2a" stroke-width="0.15">250</text>
<text x="211.6" y="517.1" font-size="7.2" fill="#2a2a2a" textLength="32.5" lengthAdjust="spacingAndGlyphs" stroke="#2a2a2a" stroke-width="0.15">HO Blue-A</text>
<text x="244.5" y="514.9" font-size="5" fill="#2a2a2a" textLength="21.3" lengthAdjust="spacingAndGlyphs" stroke="#2a2a2a" stroke-width="0.15">(x 1,000)</text>
<text transform="translate(176.0,447.3) rotate(-90)" font-size="7.2" text-anchor="middle" fill="#2a2a2a" textLength="15.5" lengthAdjust="spacingAndGlyphs" stroke="#2a2a2a" stroke-width="0.15">PY-A</text>
<text transform="translate(175.7,410.3) rotate(-90)" font-size="5" text-anchor="middle" fill="#2a2a2a" textLength="22.5" lengthAdjust="spacingAndGlyphs" stroke="#2a2a2a" stroke-width="0.15">(x 1,000)</text>
<rect x="280" y="506.6" width="9.8" height="4.4" fill="none" stroke="#d9222b" stroke-width="1.6" />
<rect x="280" y="525.8" width="9.8" height="4.4" fill="none" stroke="#2bdca2" stroke-width="1.6" />
<text x="300.3" y="510.4" font-size="9.6" font-weight="bold" textLength="6.7" lengthAdjust="spacingAndGlyphs">G</text>
<text x="307.3" y="513.6" font-size="6.8" font-weight="bold" textLength="3.5" lengthAdjust="spacingAndGlyphs">0</text>
<text x="300.3" y="530.0" font-size="9.6" font-weight="bold" textLength="6.7" lengthAdjust="spacingAndGlyphs">G</text>
<text x="307.3" y="533.2" font-size="6.8" font-weight="bold" textLength="3.5" lengthAdjust="spacingAndGlyphs">1</text>
</svg>
</body></html>
